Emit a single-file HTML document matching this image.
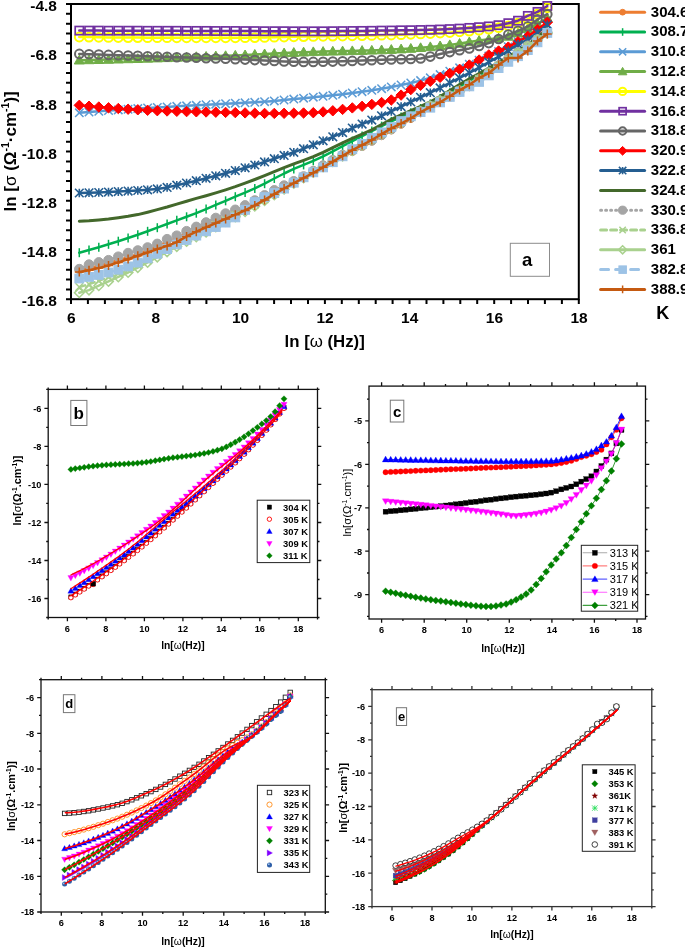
<!DOCTYPE html>
<html><head><meta charset="utf-8"><style>html,body{margin:0;padding:0;background:#fff;}svg{display:block;will-change:transform;}</style></head>
<body><svg width="685" height="947" viewBox="0 0 685 947"><path d="M66 4H71 M66 13.8H71 M66 23.7H71 M66 33.5H71 M66 43.4H71 M66 53.2H71 M66 63H71 M66 72.9H71 M66 82.7H71 M66 92.6H71 M66 102.4H71 M66 112.2H71 M66 122.1H71 M66 131.9H71 M66 141.8H71 M66 151.6H71 M66 161.4H71 M66 171.3H71 M66 181.1H71 M66 191H71 M66 200.8H71 M66 210.6H71 M66 220.5H71 M66 230.3H71 M66 240.2H71 M66 250H71 M66 259.8H71 M66 269.7H71 M66 279.5H71 M66 289.4H71 M66 299.2H71 M71 299.2V304 M87.9 299.2V304 M104.9 299.2V304 M121.8 299.2V304 M138.7 299.2V304 M155.6 299.2V304 M172.6 299.2V304 M189.5 299.2V304 M206.4 299.2V304 M223.3 299.2V304 M240.3 299.2V304 M257.2 299.2V304 M274.1 299.2V304 M291 299.2V304 M308 299.2V304 M324.9 299.2V304 M341.8 299.2V304 M358.8 299.2V304 M375.7 299.2V304 M392.6 299.2V304 M409.5 299.2V304 M426.5 299.2V304 M443.4 299.2V304 M460.3 299.2V304 M477.2 299.2V304 M494.2 299.2V304 M511.1 299.2V304 M528 299.2V304 M544.9 299.2V304 M561.9 299.2V304 M578.8 299.2V304" stroke="#000" stroke-width="2" fill="none"/>
<rect x="71" y="4" width="507.8" height="295.2" fill="none" stroke="#000" stroke-width="2"/>
<text x="57" y="11.1" text-anchor="end" font-family="'Liberation Sans', sans-serif" font-weight="bold" font-size="15.5">-4.8</text>
<text x="57" y="60.3" text-anchor="end" font-family="'Liberation Sans', sans-serif" font-weight="bold" font-size="15.5">-6.8</text>
<text x="57" y="109.5" text-anchor="end" font-family="'Liberation Sans', sans-serif" font-weight="bold" font-size="15.5">-8.8</text>
<text x="57" y="158.7" text-anchor="end" font-family="'Liberation Sans', sans-serif" font-weight="bold" font-size="15.5">-10.8</text>
<text x="57" y="207.9" text-anchor="end" font-family="'Liberation Sans', sans-serif" font-weight="bold" font-size="15.5">-12.8</text>
<text x="57" y="257.1" text-anchor="end" font-family="'Liberation Sans', sans-serif" font-weight="bold" font-size="15.5">-14.8</text>
<text x="57" y="306.3" text-anchor="end" font-family="'Liberation Sans', sans-serif" font-weight="bold" font-size="15.5">-16.8</text>
<text x="71.2" y="322.8" text-anchor="middle" font-family="'Liberation Sans', sans-serif" font-weight="bold" font-size="15.5">6</text>
<text x="155.8" y="322.8" text-anchor="middle" font-family="'Liberation Sans', sans-serif" font-weight="bold" font-size="15.5">8</text>
<text x="240.5" y="322.8" text-anchor="middle" font-family="'Liberation Sans', sans-serif" font-weight="bold" font-size="15.5">10</text>
<text x="325.1" y="322.8" text-anchor="middle" font-family="'Liberation Sans', sans-serif" font-weight="bold" font-size="15.5">12</text>
<text x="409.7" y="322.8" text-anchor="middle" font-family="'Liberation Sans', sans-serif" font-weight="bold" font-size="15.5">14</text>
<text x="494.4" y="322.8" text-anchor="middle" font-family="'Liberation Sans', sans-serif" font-weight="bold" font-size="15.5">16</text>
<text x="579" y="322.8" text-anchor="middle" font-family="'Liberation Sans', sans-serif" font-weight="bold" font-size="15.5">18</text>
<text x="324.7" y="346.5" text-anchor="middle" font-family="'Liberation Sans', sans-serif" font-weight="bold" font-size="16.8">ln [<tspan font-weight="normal">ω</tspan> (Hz)]</text>
<text transform="translate(15.5 151.4) rotate(-90)" text-anchor="middle" font-family="'Liberation Sans', sans-serif" font-weight="bold" font-size="17">ln [<tspan font-weight="normal">σ</tspan> (Ω<tspan font-size="10.5" dy="-6.5">-1</tspan><tspan dy="6.5">·cm</tspan><tspan font-size="10.5" dy="-6.5">-1</tspan><tspan dy="6.5">)]</tspan></text>
<rect x="510.3" y="243.3" width="39.2" height="33" fill="#fff" stroke="#8c8c8c" stroke-width="1"/>
<text x="527.2" y="265.7" text-anchor="middle" font-family="'Liberation Sans', sans-serif" font-weight="bold" font-size="18.5">a</text>
<g>
<path d="M79.3 270L89 268L98.8 265.7L108.5 263L118.3 260.2L128.1 257.2L137.8 254.1L147.6 250.1L157.3 245.8L167.1 241.9L176.8 237.8L186.6 233.7L196.3 229.4L206.1 225.2L215.8 220.9L225.6 216.5L235.3 212L245.1 207.3L254.8 202.5L264.6 197.6L274.3 192.6L284.1 187.6L293.8 182.6L303.6 177.5L313.3 172.4L323.1 167.2L332.8 162.1L342.6 157L352.3 152.1L362.1 147.1L371.8 141.8L381.6 136.3L391.3 130.6L401.1 124.9L410.8 119.1L420.6 113.5L430.3 108.1L440.1 102.9L449.8 97.9L459.6 92.9L469.3 87.4L479.1 81.3L488.8 74.6L498.6 67.6L508.3 60.8L518 54.1L527.8 47.4L537.5 40.7L547.3 34" fill="none" stroke="#ED7D31" stroke-width="2.5" stroke-linejoin="round" stroke-linecap="round"/>
<g><circle cx="79.3" cy="270" r="3.4" fill="#ED7D31" stroke="#ED7D31" stroke-width="1"/><circle cx="89" cy="268" r="3.4" fill="#ED7D31" stroke="#ED7D31" stroke-width="1"/><circle cx="98.8" cy="265.7" r="3.4" fill="#ED7D31" stroke="#ED7D31" stroke-width="1"/><circle cx="108.5" cy="263" r="3.4" fill="#ED7D31" stroke="#ED7D31" stroke-width="1"/><circle cx="118.3" cy="260.2" r="3.4" fill="#ED7D31" stroke="#ED7D31" stroke-width="1"/><circle cx="128.1" cy="257.2" r="3.4" fill="#ED7D31" stroke="#ED7D31" stroke-width="1"/><circle cx="137.8" cy="254.1" r="3.4" fill="#ED7D31" stroke="#ED7D31" stroke-width="1"/><circle cx="147.6" cy="250.1" r="3.4" fill="#ED7D31" stroke="#ED7D31" stroke-width="1"/><circle cx="157.3" cy="245.8" r="3.4" fill="#ED7D31" stroke="#ED7D31" stroke-width="1"/><circle cx="167.1" cy="241.9" r="3.4" fill="#ED7D31" stroke="#ED7D31" stroke-width="1"/><circle cx="176.8" cy="237.8" r="3.4" fill="#ED7D31" stroke="#ED7D31" stroke-width="1"/><circle cx="186.6" cy="233.7" r="3.4" fill="#ED7D31" stroke="#ED7D31" stroke-width="1"/><circle cx="196.3" cy="229.4" r="3.4" fill="#ED7D31" stroke="#ED7D31" stroke-width="1"/><circle cx="206.1" cy="225.2" r="3.4" fill="#ED7D31" stroke="#ED7D31" stroke-width="1"/><circle cx="215.8" cy="220.9" r="3.4" fill="#ED7D31" stroke="#ED7D31" stroke-width="1"/><circle cx="225.6" cy="216.5" r="3.4" fill="#ED7D31" stroke="#ED7D31" stroke-width="1"/><circle cx="235.3" cy="212" r="3.4" fill="#ED7D31" stroke="#ED7D31" stroke-width="1"/><circle cx="245.1" cy="207.3" r="3.4" fill="#ED7D31" stroke="#ED7D31" stroke-width="1"/><circle cx="254.8" cy="202.5" r="3.4" fill="#ED7D31" stroke="#ED7D31" stroke-width="1"/><circle cx="264.6" cy="197.6" r="3.4" fill="#ED7D31" stroke="#ED7D31" stroke-width="1"/><circle cx="274.3" cy="192.6" r="3.4" fill="#ED7D31" stroke="#ED7D31" stroke-width="1"/><circle cx="284.1" cy="187.6" r="3.4" fill="#ED7D31" stroke="#ED7D31" stroke-width="1"/><circle cx="293.8" cy="182.6" r="3.4" fill="#ED7D31" stroke="#ED7D31" stroke-width="1"/><circle cx="303.6" cy="177.5" r="3.4" fill="#ED7D31" stroke="#ED7D31" stroke-width="1"/><circle cx="313.3" cy="172.4" r="3.4" fill="#ED7D31" stroke="#ED7D31" stroke-width="1"/><circle cx="323.1" cy="167.2" r="3.4" fill="#ED7D31" stroke="#ED7D31" stroke-width="1"/><circle cx="332.8" cy="162.1" r="3.4" fill="#ED7D31" stroke="#ED7D31" stroke-width="1"/><circle cx="342.6" cy="157" r="3.4" fill="#ED7D31" stroke="#ED7D31" stroke-width="1"/><circle cx="352.3" cy="152.1" r="3.4" fill="#ED7D31" stroke="#ED7D31" stroke-width="1"/><circle cx="362.1" cy="147.1" r="3.4" fill="#ED7D31" stroke="#ED7D31" stroke-width="1"/><circle cx="371.8" cy="141.8" r="3.4" fill="#ED7D31" stroke="#ED7D31" stroke-width="1"/><circle cx="381.6" cy="136.3" r="3.4" fill="#ED7D31" stroke="#ED7D31" stroke-width="1"/><circle cx="391.3" cy="130.6" r="3.4" fill="#ED7D31" stroke="#ED7D31" stroke-width="1"/><circle cx="401.1" cy="124.9" r="3.4" fill="#ED7D31" stroke="#ED7D31" stroke-width="1"/><circle cx="410.8" cy="119.1" r="3.4" fill="#ED7D31" stroke="#ED7D31" stroke-width="1"/><circle cx="420.6" cy="113.5" r="3.4" fill="#ED7D31" stroke="#ED7D31" stroke-width="1"/><circle cx="430.3" cy="108.1" r="3.4" fill="#ED7D31" stroke="#ED7D31" stroke-width="1"/><circle cx="440.1" cy="102.9" r="3.4" fill="#ED7D31" stroke="#ED7D31" stroke-width="1"/><circle cx="449.8" cy="97.9" r="3.4" fill="#ED7D31" stroke="#ED7D31" stroke-width="1"/><circle cx="459.6" cy="92.9" r="3.4" fill="#ED7D31" stroke="#ED7D31" stroke-width="1"/><circle cx="469.3" cy="87.4" r="3.4" fill="#ED7D31" stroke="#ED7D31" stroke-width="1"/><circle cx="479.1" cy="81.3" r="3.4" fill="#ED7D31" stroke="#ED7D31" stroke-width="1"/><circle cx="488.8" cy="74.6" r="3.4" fill="#ED7D31" stroke="#ED7D31" stroke-width="1"/><circle cx="498.6" cy="67.6" r="3.4" fill="#ED7D31" stroke="#ED7D31" stroke-width="1"/><circle cx="508.3" cy="60.8" r="3.4" fill="#ED7D31" stroke="#ED7D31" stroke-width="1"/><circle cx="518" cy="54.1" r="3.4" fill="#ED7D31" stroke="#ED7D31" stroke-width="1"/><circle cx="527.8" cy="47.4" r="3.4" fill="#ED7D31" stroke="#ED7D31" stroke-width="1"/><circle cx="537.5" cy="40.7" r="3.4" fill="#ED7D31" stroke="#ED7D31" stroke-width="1"/><circle cx="547.3" cy="34" r="3.4" fill="#ED7D31" stroke="#ED7D31" stroke-width="1"/></g>
<path d="M79.3 252.7L89 250L98.8 247.2L108.5 244.3L118.3 241.2L128.1 238L137.8 234.8L147.6 231.3L157.3 227.7L167.1 224L176.8 220.3L186.6 216.8L196.3 213.2L206.1 209.1L215.8 204.9L225.6 200.8L235.3 196.7L245.1 192.6L254.8 188.4L264.6 183.7L274.3 178.5L284.1 173.5L293.8 168.9L303.6 164.9L313.3 160.8L323.1 156.3L332.8 151.3L342.6 146.2L352.3 141.1L362.1 136.1L371.8 131.1L381.6 126.1L391.3 121.4L401.1 116.9L410.8 112.8L420.6 108.5L430.3 103.9L440.1 98.6L449.8 92.7L459.6 86.8L469.3 81L479.1 75.3L488.8 69.7L498.6 63.9L508.3 57.8L518 51.5L527.8 44.9L537.5 38L547.3 31" fill="none" stroke="#00B050" stroke-width="2.5" stroke-linejoin="round" stroke-linecap="round"/>
<g><path d="M79.3 248.2L79.3 257.2" stroke="#00B050" stroke-width="1.5" fill="none"/><path d="M89 245.5L89 254.5" stroke="#00B050" stroke-width="1.5" fill="none"/><path d="M98.8 242.7L98.8 251.7" stroke="#00B050" stroke-width="1.5" fill="none"/><path d="M108.5 239.8L108.5 248.8" stroke="#00B050" stroke-width="1.5" fill="none"/><path d="M118.3 236.7L118.3 245.7" stroke="#00B050" stroke-width="1.5" fill="none"/><path d="M128.1 233.5L128.1 242.5" stroke="#00B050" stroke-width="1.5" fill="none"/><path d="M137.8 230.3L137.8 239.3" stroke="#00B050" stroke-width="1.5" fill="none"/><path d="M147.6 226.8L147.6 235.8" stroke="#00B050" stroke-width="1.5" fill="none"/><path d="M157.3 223.2L157.3 232.2" stroke="#00B050" stroke-width="1.5" fill="none"/><path d="M167.1 219.5L167.1 228.5" stroke="#00B050" stroke-width="1.5" fill="none"/><path d="M176.8 215.8L176.8 224.8" stroke="#00B050" stroke-width="1.5" fill="none"/><path d="M186.6 212.3L186.6 221.3" stroke="#00B050" stroke-width="1.5" fill="none"/><path d="M196.3 208.7L196.3 217.7" stroke="#00B050" stroke-width="1.5" fill="none"/><path d="M206.1 204.6L206.1 213.6" stroke="#00B050" stroke-width="1.5" fill="none"/><path d="M215.8 200.4L215.8 209.4" stroke="#00B050" stroke-width="1.5" fill="none"/><path d="M225.6 196.3L225.6 205.3" stroke="#00B050" stroke-width="1.5" fill="none"/><path d="M235.3 192.2L235.3 201.2" stroke="#00B050" stroke-width="1.5" fill="none"/><path d="M245.1 188.1L245.1 197.1" stroke="#00B050" stroke-width="1.5" fill="none"/><path d="M254.8 183.9L254.8 192.9" stroke="#00B050" stroke-width="1.5" fill="none"/><path d="M264.6 179.2L264.6 188.2" stroke="#00B050" stroke-width="1.5" fill="none"/><path d="M274.3 174L274.3 183" stroke="#00B050" stroke-width="1.5" fill="none"/><path d="M284.1 169L284.1 178" stroke="#00B050" stroke-width="1.5" fill="none"/><path d="M293.8 164.4L293.8 173.4" stroke="#00B050" stroke-width="1.5" fill="none"/><path d="M303.6 160.4L303.6 169.4" stroke="#00B050" stroke-width="1.5" fill="none"/><path d="M313.3 156.3L313.3 165.3" stroke="#00B050" stroke-width="1.5" fill="none"/><path d="M323.1 151.8L323.1 160.8" stroke="#00B050" stroke-width="1.5" fill="none"/><path d="M332.8 146.8L332.8 155.8" stroke="#00B050" stroke-width="1.5" fill="none"/><path d="M342.6 141.7L342.6 150.7" stroke="#00B050" stroke-width="1.5" fill="none"/><path d="M352.3 136.6L352.3 145.6" stroke="#00B050" stroke-width="1.5" fill="none"/><path d="M362.1 131.6L362.1 140.6" stroke="#00B050" stroke-width="1.5" fill="none"/><path d="M371.8 126.6L371.8 135.6" stroke="#00B050" stroke-width="1.5" fill="none"/><path d="M381.6 121.6L381.6 130.6" stroke="#00B050" stroke-width="1.5" fill="none"/><path d="M391.3 116.9L391.3 125.9" stroke="#00B050" stroke-width="1.5" fill="none"/><path d="M401.1 112.4L401.1 121.4" stroke="#00B050" stroke-width="1.5" fill="none"/><path d="M410.8 108.3L410.8 117.3" stroke="#00B050" stroke-width="1.5" fill="none"/><path d="M420.6 104L420.6 113" stroke="#00B050" stroke-width="1.5" fill="none"/><path d="M430.3 99.4L430.3 108.4" stroke="#00B050" stroke-width="1.5" fill="none"/><path d="M440.1 94.1L440.1 103.1" stroke="#00B050" stroke-width="1.5" fill="none"/><path d="M449.8 88.2L449.8 97.2" stroke="#00B050" stroke-width="1.5" fill="none"/><path d="M459.6 82.3L459.6 91.3" stroke="#00B050" stroke-width="1.5" fill="none"/><path d="M469.3 76.5L469.3 85.5" stroke="#00B050" stroke-width="1.5" fill="none"/><path d="M479.1 70.8L479.1 79.8" stroke="#00B050" stroke-width="1.5" fill="none"/><path d="M488.8 65.2L488.8 74.2" stroke="#00B050" stroke-width="1.5" fill="none"/><path d="M498.6 59.4L498.6 68.4" stroke="#00B050" stroke-width="1.5" fill="none"/><path d="M508.3 53.3L508.3 62.3" stroke="#00B050" stroke-width="1.5" fill="none"/><path d="M518 47L518 56" stroke="#00B050" stroke-width="1.5" fill="none"/><path d="M527.8 40.4L527.8 49.4" stroke="#00B050" stroke-width="1.5" fill="none"/><path d="M537.5 33.5L537.5 42.5" stroke="#00B050" stroke-width="1.5" fill="none"/><path d="M547.3 26.5L547.3 35.5" stroke="#00B050" stroke-width="1.5" fill="none"/></g>
<path d="M79.3 112.8L89 112.1L98.8 111.3L108.5 110.6L118.3 109.9L128.1 109.3L137.8 108.6L147.6 108L157.3 107.4L167.1 106.9L176.8 106.3L186.6 105.8L196.3 105.3L206.1 104.7L215.8 104.2L225.6 103.7L235.3 103.2L245.1 102.8L254.8 102.3L264.6 101.7L274.3 100.9L284.1 100L293.8 99.1L303.6 98.2L313.3 97.2L323.1 96.3L332.8 95.3L342.6 94.2L352.3 93L362.1 91.7L371.8 90.3L381.6 88.7L391.3 86.9L401.1 85L410.8 83L420.6 80.6L430.3 77.8L440.1 74.6L449.8 71.2L459.6 67.8L469.3 64.3L479.1 60.3L488.8 56.1L498.6 51.6L508.3 46.8L518 41.7L527.8 36.1L537.5 30.2L547.3 24" fill="none" stroke="#5B9BD5" stroke-width="2.5" stroke-linejoin="round" stroke-linecap="round"/>
<g><path d="M75.1 108.6L83.5 117M75.1 117L83.5 108.6" stroke="#5B9BD5" stroke-width="1.5" fill="none"/><path d="M84.8 107.9L93.2 116.3M84.8 116.3L93.2 107.9" stroke="#5B9BD5" stroke-width="1.5" fill="none"/><path d="M94.6 107.1L103 115.5M94.6 115.5L103 107.1" stroke="#5B9BD5" stroke-width="1.5" fill="none"/><path d="M104.3 106.4L112.8 114.8M104.3 114.8L112.8 106.4" stroke="#5B9BD5" stroke-width="1.5" fill="none"/><path d="M114.1 105.7L122.5 114.1M114.1 114.1L122.5 105.7" stroke="#5B9BD5" stroke-width="1.5" fill="none"/><path d="M123.9 105.1L132.2 113.5M123.9 113.5L132.2 105.1" stroke="#5B9BD5" stroke-width="1.5" fill="none"/><path d="M133.6 104.4L142 112.8M133.6 112.8L142 104.4" stroke="#5B9BD5" stroke-width="1.5" fill="none"/><path d="M143.4 103.8L151.8 112.2M143.4 112.2L151.8 103.8" stroke="#5B9BD5" stroke-width="1.5" fill="none"/><path d="M153.1 103.2L161.5 111.6M153.1 111.6L161.5 103.2" stroke="#5B9BD5" stroke-width="1.5" fill="none"/><path d="M162.9 102.7L171.2 111.1M162.9 111.1L171.2 102.7" stroke="#5B9BD5" stroke-width="1.5" fill="none"/><path d="M172.6 102.1L181 110.5M172.6 110.5L181 102.1" stroke="#5B9BD5" stroke-width="1.5" fill="none"/><path d="M182.4 101.6L190.8 110M182.4 110L190.8 101.6" stroke="#5B9BD5" stroke-width="1.5" fill="none"/><path d="M192.1 101.1L200.5 109.5M192.1 109.5L200.5 101.1" stroke="#5B9BD5" stroke-width="1.5" fill="none"/><path d="M201.9 100.5L210.2 108.9M201.9 108.9L210.2 100.5" stroke="#5B9BD5" stroke-width="1.5" fill="none"/><path d="M211.6 100L220 108.4M211.6 108.4L220 100" stroke="#5B9BD5" stroke-width="1.5" fill="none"/><path d="M221.4 99.5L229.8 107.9M221.4 107.9L229.8 99.5" stroke="#5B9BD5" stroke-width="1.5" fill="none"/><path d="M231.1 99L239.5 107.4M231.1 107.4L239.5 99" stroke="#5B9BD5" stroke-width="1.5" fill="none"/><path d="M240.9 98.6L249.2 107M240.9 107L249.2 98.6" stroke="#5B9BD5" stroke-width="1.5" fill="none"/><path d="M250.6 98.1L259 106.5M250.6 106.5L259 98.1" stroke="#5B9BD5" stroke-width="1.5" fill="none"/><path d="M260.4 97.5L268.8 105.9M260.4 105.9L268.8 97.5" stroke="#5B9BD5" stroke-width="1.5" fill="none"/><path d="M270.1 96.7L278.5 105.1M270.1 105.1L278.5 96.7" stroke="#5B9BD5" stroke-width="1.5" fill="none"/><path d="M279.9 95.8L288.2 104.2M279.9 104.2L288.2 95.8" stroke="#5B9BD5" stroke-width="1.5" fill="none"/><path d="M289.6 94.9L298 103.3M289.6 103.3L298 94.9" stroke="#5B9BD5" stroke-width="1.5" fill="none"/><path d="M299.4 94L307.8 102.4M299.4 102.4L307.8 94" stroke="#5B9BD5" stroke-width="1.5" fill="none"/><path d="M309.1 93L317.5 101.4M309.1 101.4L317.5 93" stroke="#5B9BD5" stroke-width="1.5" fill="none"/><path d="M318.9 92.1L327.2 100.5M318.9 100.5L327.2 92.1" stroke="#5B9BD5" stroke-width="1.5" fill="none"/><path d="M328.6 91.1L337 99.5M328.6 99.5L337 91.1" stroke="#5B9BD5" stroke-width="1.5" fill="none"/><path d="M338.4 90L346.8 98.4M338.4 98.4L346.8 90" stroke="#5B9BD5" stroke-width="1.5" fill="none"/><path d="M348.1 88.8L356.5 97.2M348.1 97.2L356.5 88.8" stroke="#5B9BD5" stroke-width="1.5" fill="none"/><path d="M357.9 87.5L366.2 95.9M357.9 95.9L366.2 87.5" stroke="#5B9BD5" stroke-width="1.5" fill="none"/><path d="M367.6 86.1L376 94.5M367.6 94.5L376 86.1" stroke="#5B9BD5" stroke-width="1.5" fill="none"/><path d="M377.4 84.5L385.8 92.9M377.4 92.9L385.8 84.5" stroke="#5B9BD5" stroke-width="1.5" fill="none"/><path d="M387.1 82.7L395.5 91.1M387.1 91.1L395.5 82.7" stroke="#5B9BD5" stroke-width="1.5" fill="none"/><path d="M396.9 80.8L405.2 89.2M396.9 89.2L405.2 80.8" stroke="#5B9BD5" stroke-width="1.5" fill="none"/><path d="M406.6 78.8L415 87.2M406.6 87.2L415 78.8" stroke="#5B9BD5" stroke-width="1.5" fill="none"/><path d="M416.4 76.4L424.8 84.8M416.4 84.8L424.8 76.4" stroke="#5B9BD5" stroke-width="1.5" fill="none"/><path d="M426.1 73.6L434.5 82M426.1 82L434.5 73.6" stroke="#5B9BD5" stroke-width="1.5" fill="none"/><path d="M435.9 70.4L444.2 78.8M435.9 78.8L444.2 70.4" stroke="#5B9BD5" stroke-width="1.5" fill="none"/><path d="M445.6 67L454 75.4M445.6 75.4L454 67" stroke="#5B9BD5" stroke-width="1.5" fill="none"/><path d="M455.4 63.6L463.8 72M455.4 72L463.8 63.6" stroke="#5B9BD5" stroke-width="1.5" fill="none"/><path d="M465.1 60.1L473.5 68.5M465.1 68.5L473.5 60.1" stroke="#5B9BD5" stroke-width="1.5" fill="none"/><path d="M474.9 56.1L483.2 64.5M474.9 64.5L483.2 56.1" stroke="#5B9BD5" stroke-width="1.5" fill="none"/><path d="M484.6 51.9L493 60.3M484.6 60.3L493 51.9" stroke="#5B9BD5" stroke-width="1.5" fill="none"/><path d="M494.4 47.4L502.8 55.8M494.4 55.8L502.8 47.4" stroke="#5B9BD5" stroke-width="1.5" fill="none"/><path d="M504.1 42.6L512.5 51M504.1 51L512.5 42.6" stroke="#5B9BD5" stroke-width="1.5" fill="none"/><path d="M513.8 37.5L522.2 45.9M513.8 45.9L522.2 37.5" stroke="#5B9BD5" stroke-width="1.5" fill="none"/><path d="M523.6 31.9L532 40.3M523.6 40.3L532 31.9" stroke="#5B9BD5" stroke-width="1.5" fill="none"/><path d="M533.3 26L541.8 34.4M533.3 34.4L541.8 26" stroke="#5B9BD5" stroke-width="1.5" fill="none"/><path d="M543.1 19.8L551.5 28.2M543.1 28.2L551.5 19.8" stroke="#5B9BD5" stroke-width="1.5" fill="none"/></g>
<path d="M79.3 60.2L89 60L98.8 59.8L108.5 59.5L118.3 59.3L128.1 59L137.8 58.7L147.6 58.4L157.3 58.1L167.1 57.8L176.8 57.5L186.6 57.2L196.3 56.8L206.1 56.5L215.8 56.1L225.6 55.8L235.3 55.4L245.1 55L254.8 54.5L264.6 54L274.3 53.6L284.1 53.1L293.8 52.6L303.6 52.2L313.3 51.9L323.1 51.6L332.8 51.3L342.6 51.1L352.3 50.9L362.1 50.6L371.8 50.4L381.6 50L391.3 49.6L401.1 49.1L410.8 48.5L420.6 47.8L430.3 46.9L440.1 46L449.8 44.9L459.6 43.5L469.3 42L479.1 40.5L488.8 39.3L498.6 38.2L508.3 36.5L518 33.2L527.8 28.6L537.5 23.7L547.3 18.2" fill="none" stroke="#70AD47" stroke-width="2.5" stroke-linejoin="round" stroke-linecap="round"/>
<g><path d="M79.3 55.2L84.3 64L74.3 64Z" fill="#70AD47" stroke="#70AD47" stroke-width="1"/><path d="M89 55L94 63.7L84 63.7Z" fill="#70AD47" stroke="#70AD47" stroke-width="1"/><path d="M98.8 54.8L103.8 63.5L93.8 63.5Z" fill="#70AD47" stroke="#70AD47" stroke-width="1"/><path d="M108.5 54.5L113.5 63.3L103.5 63.3Z" fill="#70AD47" stroke="#70AD47" stroke-width="1"/><path d="M118.3 54.3L123.3 63L113.3 63Z" fill="#70AD47" stroke="#70AD47" stroke-width="1"/><path d="M128.1 54L133.1 62.7L123.1 62.7Z" fill="#70AD47" stroke="#70AD47" stroke-width="1"/><path d="M137.8 53.7L142.8 62.5L132.8 62.5Z" fill="#70AD47" stroke="#70AD47" stroke-width="1"/><path d="M147.6 53.4L152.6 62.2L142.6 62.2Z" fill="#70AD47" stroke="#70AD47" stroke-width="1"/><path d="M157.3 53.1L162.3 61.9L152.3 61.9Z" fill="#70AD47" stroke="#70AD47" stroke-width="1"/><path d="M167.1 52.8L172.1 61.6L162.1 61.6Z" fill="#70AD47" stroke="#70AD47" stroke-width="1"/><path d="M176.8 52.5L181.8 61.2L171.8 61.2Z" fill="#70AD47" stroke="#70AD47" stroke-width="1"/><path d="M186.6 52.2L191.6 60.9L181.6 60.9Z" fill="#70AD47" stroke="#70AD47" stroke-width="1"/><path d="M196.3 51.8L201.3 60.6L191.3 60.6Z" fill="#70AD47" stroke="#70AD47" stroke-width="1"/><path d="M206.1 51.5L211.1 60.2L201.1 60.2Z" fill="#70AD47" stroke="#70AD47" stroke-width="1"/><path d="M215.8 51.1L220.8 59.9L210.8 59.9Z" fill="#70AD47" stroke="#70AD47" stroke-width="1"/><path d="M225.6 50.8L230.6 59.5L220.6 59.5Z" fill="#70AD47" stroke="#70AD47" stroke-width="1"/><path d="M235.3 50.4L240.3 59.1L230.3 59.1Z" fill="#70AD47" stroke="#70AD47" stroke-width="1"/><path d="M245.1 50L250.1 58.7L240.1 58.7Z" fill="#70AD47" stroke="#70AD47" stroke-width="1"/><path d="M254.8 49.5L259.8 58.3L249.8 58.3Z" fill="#70AD47" stroke="#70AD47" stroke-width="1"/><path d="M264.6 49L269.6 57.8L259.6 57.8Z" fill="#70AD47" stroke="#70AD47" stroke-width="1"/><path d="M274.3 48.6L279.3 57.3L269.3 57.3Z" fill="#70AD47" stroke="#70AD47" stroke-width="1"/><path d="M284.1 48.1L289.1 56.8L279.1 56.8Z" fill="#70AD47" stroke="#70AD47" stroke-width="1"/><path d="M293.8 47.6L298.8 56.4L288.8 56.4Z" fill="#70AD47" stroke="#70AD47" stroke-width="1"/><path d="M303.6 47.2L308.6 56L298.6 56Z" fill="#70AD47" stroke="#70AD47" stroke-width="1"/><path d="M313.3 46.9L318.3 55.6L308.3 55.6Z" fill="#70AD47" stroke="#70AD47" stroke-width="1"/><path d="M323.1 46.6L328.1 55.3L318.1 55.3Z" fill="#70AD47" stroke="#70AD47" stroke-width="1"/><path d="M332.8 46.3L337.8 55.1L327.8 55.1Z" fill="#70AD47" stroke="#70AD47" stroke-width="1"/><path d="M342.6 46.1L347.6 54.9L337.6 54.9Z" fill="#70AD47" stroke="#70AD47" stroke-width="1"/><path d="M352.3 45.9L357.3 54.6L347.3 54.6Z" fill="#70AD47" stroke="#70AD47" stroke-width="1"/><path d="M362.1 45.6L367.1 54.4L357.1 54.4Z" fill="#70AD47" stroke="#70AD47" stroke-width="1"/><path d="M371.8 45.4L376.8 54.1L366.8 54.1Z" fill="#70AD47" stroke="#70AD47" stroke-width="1"/><path d="M381.6 45L386.6 53.8L376.6 53.8Z" fill="#70AD47" stroke="#70AD47" stroke-width="1"/><path d="M391.3 44.6L396.3 53.4L386.3 53.4Z" fill="#70AD47" stroke="#70AD47" stroke-width="1"/><path d="M401.1 44.1L406.1 52.9L396.1 52.9Z" fill="#70AD47" stroke="#70AD47" stroke-width="1"/><path d="M410.8 43.5L415.8 52.3L405.8 52.3Z" fill="#70AD47" stroke="#70AD47" stroke-width="1"/><path d="M420.6 42.8L425.6 51.5L415.6 51.5Z" fill="#70AD47" stroke="#70AD47" stroke-width="1"/><path d="M430.3 41.9L435.3 50.7L425.3 50.7Z" fill="#70AD47" stroke="#70AD47" stroke-width="1"/><path d="M440.1 41L445.1 49.7L435.1 49.7Z" fill="#70AD47" stroke="#70AD47" stroke-width="1"/><path d="M449.8 39.9L454.8 48.6L444.8 48.6Z" fill="#70AD47" stroke="#70AD47" stroke-width="1"/><path d="M459.6 38.5L464.6 47.2L454.6 47.2Z" fill="#70AD47" stroke="#70AD47" stroke-width="1"/><path d="M469.3 37L474.3 45.7L464.3 45.7Z" fill="#70AD47" stroke="#70AD47" stroke-width="1"/><path d="M479.1 35.5L484.1 44.3L474.1 44.3Z" fill="#70AD47" stroke="#70AD47" stroke-width="1"/><path d="M488.8 34.3L493.8 43.1L483.8 43.1Z" fill="#70AD47" stroke="#70AD47" stroke-width="1"/><path d="M498.6 33.2L503.6 41.9L493.6 41.9Z" fill="#70AD47" stroke="#70AD47" stroke-width="1"/><path d="M508.3 31.5L513.3 40.2L503.3 40.2Z" fill="#70AD47" stroke="#70AD47" stroke-width="1"/><path d="M518 28.2L523 36.9L513 36.9Z" fill="#70AD47" stroke="#70AD47" stroke-width="1"/><path d="M527.8 23.6L532.8 32.3L522.8 32.3Z" fill="#70AD47" stroke="#70AD47" stroke-width="1"/><path d="M537.5 18.7L542.5 27.5L532.5 27.5Z" fill="#70AD47" stroke="#70AD47" stroke-width="1"/><path d="M547.3 13.2L552.3 22L542.3 22Z" fill="#70AD47" stroke="#70AD47" stroke-width="1"/></g>
<path d="M79.3 37L89 37.1L98.8 37.3L108.5 37.4L118.3 37.5L128.1 37.6L137.8 37.6L147.6 37.7L157.3 37.7L167.1 37.7L176.8 37.8L186.6 37.8L196.3 37.8L206.1 37.8L215.8 37.8L225.6 37.8L235.3 37.8L245.1 37.7L254.8 37.6L264.6 37.4L274.3 37.2L284.1 37L293.8 36.8L303.6 36.6L313.3 36.4L323.1 36.3L332.8 36.1L342.6 36L352.3 35.8L362.1 35.6L371.8 35.4L381.6 35.2L391.3 35L401.1 34.7L410.8 34.3L420.6 33.9L430.3 33.5L440.1 33L449.8 32.5L459.6 31.8L469.3 31.1L479.1 30.2L488.8 29.1L498.6 27.7L508.3 25.8L518 23.1L527.8 19.2L537.5 14.1L547.3 7.8" fill="none" stroke="#FFFF00" stroke-width="2.5" stroke-linejoin="round" stroke-linecap="round"/>
<g><circle cx="79.3" cy="37" r="4.4" fill="none" stroke="#FFFF00" stroke-width="2"/><circle cx="89" cy="37.1" r="4.4" fill="none" stroke="#FFFF00" stroke-width="2"/><circle cx="98.8" cy="37.3" r="4.4" fill="none" stroke="#FFFF00" stroke-width="2"/><circle cx="108.5" cy="37.4" r="4.4" fill="none" stroke="#FFFF00" stroke-width="2"/><circle cx="118.3" cy="37.5" r="4.4" fill="none" stroke="#FFFF00" stroke-width="2"/><circle cx="128.1" cy="37.6" r="4.4" fill="none" stroke="#FFFF00" stroke-width="2"/><circle cx="137.8" cy="37.6" r="4.4" fill="none" stroke="#FFFF00" stroke-width="2"/><circle cx="147.6" cy="37.7" r="4.4" fill="none" stroke="#FFFF00" stroke-width="2"/><circle cx="157.3" cy="37.7" r="4.4" fill="none" stroke="#FFFF00" stroke-width="2"/><circle cx="167.1" cy="37.7" r="4.4" fill="none" stroke="#FFFF00" stroke-width="2"/><circle cx="176.8" cy="37.8" r="4.4" fill="none" stroke="#FFFF00" stroke-width="2"/><circle cx="186.6" cy="37.8" r="4.4" fill="none" stroke="#FFFF00" stroke-width="2"/><circle cx="196.3" cy="37.8" r="4.4" fill="none" stroke="#FFFF00" stroke-width="2"/><circle cx="206.1" cy="37.8" r="4.4" fill="none" stroke="#FFFF00" stroke-width="2"/><circle cx="215.8" cy="37.8" r="4.4" fill="none" stroke="#FFFF00" stroke-width="2"/><circle cx="225.6" cy="37.8" r="4.4" fill="none" stroke="#FFFF00" stroke-width="2"/><circle cx="235.3" cy="37.8" r="4.4" fill="none" stroke="#FFFF00" stroke-width="2"/><circle cx="245.1" cy="37.7" r="4.4" fill="none" stroke="#FFFF00" stroke-width="2"/><circle cx="254.8" cy="37.6" r="4.4" fill="none" stroke="#FFFF00" stroke-width="2"/><circle cx="264.6" cy="37.4" r="4.4" fill="none" stroke="#FFFF00" stroke-width="2"/><circle cx="274.3" cy="37.2" r="4.4" fill="none" stroke="#FFFF00" stroke-width="2"/><circle cx="284.1" cy="37" r="4.4" fill="none" stroke="#FFFF00" stroke-width="2"/><circle cx="293.8" cy="36.8" r="4.4" fill="none" stroke="#FFFF00" stroke-width="2"/><circle cx="303.6" cy="36.6" r="4.4" fill="none" stroke="#FFFF00" stroke-width="2"/><circle cx="313.3" cy="36.4" r="4.4" fill="none" stroke="#FFFF00" stroke-width="2"/><circle cx="323.1" cy="36.3" r="4.4" fill="none" stroke="#FFFF00" stroke-width="2"/><circle cx="332.8" cy="36.1" r="4.4" fill="none" stroke="#FFFF00" stroke-width="2"/><circle cx="342.6" cy="36" r="4.4" fill="none" stroke="#FFFF00" stroke-width="2"/><circle cx="352.3" cy="35.8" r="4.4" fill="none" stroke="#FFFF00" stroke-width="2"/><circle cx="362.1" cy="35.6" r="4.4" fill="none" stroke="#FFFF00" stroke-width="2"/><circle cx="371.8" cy="35.4" r="4.4" fill="none" stroke="#FFFF00" stroke-width="2"/><circle cx="381.6" cy="35.2" r="4.4" fill="none" stroke="#FFFF00" stroke-width="2"/><circle cx="391.3" cy="35" r="4.4" fill="none" stroke="#FFFF00" stroke-width="2"/><circle cx="401.1" cy="34.7" r="4.4" fill="none" stroke="#FFFF00" stroke-width="2"/><circle cx="410.8" cy="34.3" r="4.4" fill="none" stroke="#FFFF00" stroke-width="2"/><circle cx="420.6" cy="33.9" r="4.4" fill="none" stroke="#FFFF00" stroke-width="2"/><circle cx="430.3" cy="33.5" r="4.4" fill="none" stroke="#FFFF00" stroke-width="2"/><circle cx="440.1" cy="33" r="4.4" fill="none" stroke="#FFFF00" stroke-width="2"/><circle cx="449.8" cy="32.5" r="4.4" fill="none" stroke="#FFFF00" stroke-width="2"/><circle cx="459.6" cy="31.8" r="4.4" fill="none" stroke="#FFFF00" stroke-width="2"/><circle cx="469.3" cy="31.1" r="4.4" fill="none" stroke="#FFFF00" stroke-width="2"/><circle cx="479.1" cy="30.2" r="4.4" fill="none" stroke="#FFFF00" stroke-width="2"/><circle cx="488.8" cy="29.1" r="4.4" fill="none" stroke="#FFFF00" stroke-width="2"/><circle cx="498.6" cy="27.7" r="4.4" fill="none" stroke="#FFFF00" stroke-width="2"/><circle cx="508.3" cy="25.8" r="4.4" fill="none" stroke="#FFFF00" stroke-width="2"/><circle cx="518" cy="23.1" r="4.4" fill="none" stroke="#FFFF00" stroke-width="2"/><circle cx="527.8" cy="19.2" r="4.4" fill="none" stroke="#FFFF00" stroke-width="2"/><circle cx="537.5" cy="14.1" r="4.4" fill="none" stroke="#FFFF00" stroke-width="2"/><circle cx="547.3" cy="7.8" r="4.4" fill="none" stroke="#FFFF00" stroke-width="2"/></g>
<path d="M79.3 30.6L89 30.6L98.8 30.6L108.5 30.7L118.3 30.7L128.1 30.7L137.8 30.7L147.6 30.8L157.3 30.8L167.1 30.8L176.8 30.8L186.6 30.9L196.3 30.9L206.1 30.9L215.8 31L225.6 31L235.3 31L245.1 31.1L254.8 31.1L264.6 31.2L274.3 31.2L284.1 31.2L293.8 31.3L303.6 31.3L313.3 31.3L323.1 31.3L332.8 31.2L342.6 31.1L352.3 31L362.1 30.9L371.8 30.8L381.6 30.6L391.3 30.5L401.1 30.3L410.8 30.2L420.6 30L430.3 29.8L440.1 29.5L449.8 29.1L459.6 28.6L469.3 27.9L479.1 27.2L488.8 26.4L498.6 25.2L508.3 23.2L518 20.7L527.8 15.9L537.5 11.9L547.3 6" fill="none" stroke="#7030A0" stroke-width="2.5" stroke-linejoin="round" stroke-linecap="round"/>
<g><rect x="75.2" y="26.5" width="8.2" height="8.2" fill="none" stroke="#7030A0" stroke-width="1.7"/><rect x="85" y="26.5" width="8.2" height="8.2" fill="none" stroke="#7030A0" stroke-width="1.7"/><rect x="94.7" y="26.5" width="8.2" height="8.2" fill="none" stroke="#7030A0" stroke-width="1.7"/><rect x="104.5" y="26.6" width="8.2" height="8.2" fill="none" stroke="#7030A0" stroke-width="1.7"/><rect x="114.2" y="26.6" width="8.2" height="8.2" fill="none" stroke="#7030A0" stroke-width="1.7"/><rect x="124" y="26.6" width="8.2" height="8.2" fill="none" stroke="#7030A0" stroke-width="1.7"/><rect x="133.7" y="26.6" width="8.2" height="8.2" fill="none" stroke="#7030A0" stroke-width="1.7"/><rect x="143.5" y="26.7" width="8.2" height="8.2" fill="none" stroke="#7030A0" stroke-width="1.7"/><rect x="153.2" y="26.7" width="8.2" height="8.2" fill="none" stroke="#7030A0" stroke-width="1.7"/><rect x="163" y="26.7" width="8.2" height="8.2" fill="none" stroke="#7030A0" stroke-width="1.7"/><rect x="172.7" y="26.7" width="8.2" height="8.2" fill="none" stroke="#7030A0" stroke-width="1.7"/><rect x="182.5" y="26.8" width="8.2" height="8.2" fill="none" stroke="#7030A0" stroke-width="1.7"/><rect x="192.2" y="26.8" width="8.2" height="8.2" fill="none" stroke="#7030A0" stroke-width="1.7"/><rect x="202" y="26.8" width="8.2" height="8.2" fill="none" stroke="#7030A0" stroke-width="1.7"/><rect x="211.7" y="26.9" width="8.2" height="8.2" fill="none" stroke="#7030A0" stroke-width="1.7"/><rect x="221.5" y="26.9" width="8.2" height="8.2" fill="none" stroke="#7030A0" stroke-width="1.7"/><rect x="231.2" y="26.9" width="8.2" height="8.2" fill="none" stroke="#7030A0" stroke-width="1.7"/><rect x="241" y="27" width="8.2" height="8.2" fill="none" stroke="#7030A0" stroke-width="1.7"/><rect x="250.7" y="27" width="8.2" height="8.2" fill="none" stroke="#7030A0" stroke-width="1.7"/><rect x="260.4" y="27.1" width="8.2" height="8.2" fill="none" stroke="#7030A0" stroke-width="1.7"/><rect x="270.2" y="27.1" width="8.2" height="8.2" fill="none" stroke="#7030A0" stroke-width="1.7"/><rect x="279.9" y="27.1" width="8.2" height="8.2" fill="none" stroke="#7030A0" stroke-width="1.7"/><rect x="289.7" y="27.2" width="8.2" height="8.2" fill="none" stroke="#7030A0" stroke-width="1.7"/><rect x="299.4" y="27.2" width="8.2" height="8.2" fill="none" stroke="#7030A0" stroke-width="1.7"/><rect x="309.2" y="27.2" width="8.2" height="8.2" fill="none" stroke="#7030A0" stroke-width="1.7"/><rect x="318.9" y="27.2" width="8.2" height="8.2" fill="none" stroke="#7030A0" stroke-width="1.7"/><rect x="328.7" y="27.1" width="8.2" height="8.2" fill="none" stroke="#7030A0" stroke-width="1.7"/><rect x="338.4" y="27" width="8.2" height="8.2" fill="none" stroke="#7030A0" stroke-width="1.7"/><rect x="348.2" y="26.9" width="8.2" height="8.2" fill="none" stroke="#7030A0" stroke-width="1.7"/><rect x="357.9" y="26.8" width="8.2" height="8.2" fill="none" stroke="#7030A0" stroke-width="1.7"/><rect x="367.7" y="26.7" width="8.2" height="8.2" fill="none" stroke="#7030A0" stroke-width="1.7"/><rect x="377.4" y="26.5" width="8.2" height="8.2" fill="none" stroke="#7030A0" stroke-width="1.7"/><rect x="387.2" y="26.4" width="8.2" height="8.2" fill="none" stroke="#7030A0" stroke-width="1.7"/><rect x="396.9" y="26.2" width="8.2" height="8.2" fill="none" stroke="#7030A0" stroke-width="1.7"/><rect x="406.7" y="26.1" width="8.2" height="8.2" fill="none" stroke="#7030A0" stroke-width="1.7"/><rect x="416.4" y="25.9" width="8.2" height="8.2" fill="none" stroke="#7030A0" stroke-width="1.7"/><rect x="426.2" y="25.7" width="8.2" height="8.2" fill="none" stroke="#7030A0" stroke-width="1.7"/><rect x="435.9" y="25.4" width="8.2" height="8.2" fill="none" stroke="#7030A0" stroke-width="1.7"/><rect x="445.7" y="25" width="8.2" height="8.2" fill="none" stroke="#7030A0" stroke-width="1.7"/><rect x="455.4" y="24.5" width="8.2" height="8.2" fill="none" stroke="#7030A0" stroke-width="1.7"/><rect x="465.2" y="23.8" width="8.2" height="8.2" fill="none" stroke="#7030A0" stroke-width="1.7"/><rect x="474.9" y="23.1" width="8.2" height="8.2" fill="none" stroke="#7030A0" stroke-width="1.7"/><rect x="484.7" y="22.3" width="8.2" height="8.2" fill="none" stroke="#7030A0" stroke-width="1.7"/><rect x="494.4" y="21.1" width="8.2" height="8.2" fill="none" stroke="#7030A0" stroke-width="1.7"/><rect x="504.2" y="19.1" width="8.2" height="8.2" fill="none" stroke="#7030A0" stroke-width="1.7"/><rect x="513.9" y="16.6" width="8.2" height="8.2" fill="none" stroke="#7030A0" stroke-width="1.7"/><rect x="523.7" y="11.8" width="8.2" height="8.2" fill="none" stroke="#7030A0" stroke-width="1.7"/><rect x="533.4" y="7.8" width="8.2" height="8.2" fill="none" stroke="#7030A0" stroke-width="1.7"/><rect x="543.2" y="1.9" width="8.2" height="8.2" fill="none" stroke="#7030A0" stroke-width="1.7"/></g>
<path d="M79.3 53.9L89 54.2L98.8 54.5L108.5 54.9L118.3 55.2L128.1 55.5L137.8 55.8L147.6 56.2L157.3 56.5L167.1 56.8L176.8 57.2L186.6 57.5L196.3 57.8L206.1 58.2L215.8 58.5L225.6 58.8L235.3 59.2L245.1 59.6L254.8 60.1L264.6 60.5L274.3 61L284.1 61.4L293.8 61.7L303.6 61.9L313.3 61.9L323.1 61.8L332.8 61.6L342.6 61.3L352.3 60.9L362.1 60.5L371.8 60.2L381.6 59.8L391.3 59.5L401.1 59.2L410.8 59L420.6 58.5L430.3 56.6L440.1 54L449.8 52.1L459.6 50.3L469.3 48.4L479.1 46L488.8 43.1L498.6 39L508.3 34.6L518 30.8L527.8 26.4L537.5 19.4L547.3 14.2" fill="none" stroke="#666666" stroke-width="2.5" stroke-linejoin="round" stroke-linecap="round"/>
<g><circle cx="79.3" cy="53.9" r="4.3" fill="none" stroke="#666666" stroke-width="2"/><circle cx="89" cy="54.2" r="4.3" fill="none" stroke="#666666" stroke-width="2"/><circle cx="98.8" cy="54.5" r="4.3" fill="none" stroke="#666666" stroke-width="2"/><circle cx="108.5" cy="54.9" r="4.3" fill="none" stroke="#666666" stroke-width="2"/><circle cx="118.3" cy="55.2" r="4.3" fill="none" stroke="#666666" stroke-width="2"/><circle cx="128.1" cy="55.5" r="4.3" fill="none" stroke="#666666" stroke-width="2"/><circle cx="137.8" cy="55.8" r="4.3" fill="none" stroke="#666666" stroke-width="2"/><circle cx="147.6" cy="56.2" r="4.3" fill="none" stroke="#666666" stroke-width="2"/><circle cx="157.3" cy="56.5" r="4.3" fill="none" stroke="#666666" stroke-width="2"/><circle cx="167.1" cy="56.8" r="4.3" fill="none" stroke="#666666" stroke-width="2"/><circle cx="176.8" cy="57.2" r="4.3" fill="none" stroke="#666666" stroke-width="2"/><circle cx="186.6" cy="57.5" r="4.3" fill="none" stroke="#666666" stroke-width="2"/><circle cx="196.3" cy="57.8" r="4.3" fill="none" stroke="#666666" stroke-width="2"/><circle cx="206.1" cy="58.2" r="4.3" fill="none" stroke="#666666" stroke-width="2"/><circle cx="215.8" cy="58.5" r="4.3" fill="none" stroke="#666666" stroke-width="2"/><circle cx="225.6" cy="58.8" r="4.3" fill="none" stroke="#666666" stroke-width="2"/><circle cx="235.3" cy="59.2" r="4.3" fill="none" stroke="#666666" stroke-width="2"/><circle cx="245.1" cy="59.6" r="4.3" fill="none" stroke="#666666" stroke-width="2"/><circle cx="254.8" cy="60.1" r="4.3" fill="none" stroke="#666666" stroke-width="2"/><circle cx="264.6" cy="60.5" r="4.3" fill="none" stroke="#666666" stroke-width="2"/><circle cx="274.3" cy="61" r="4.3" fill="none" stroke="#666666" stroke-width="2"/><circle cx="284.1" cy="61.4" r="4.3" fill="none" stroke="#666666" stroke-width="2"/><circle cx="293.8" cy="61.7" r="4.3" fill="none" stroke="#666666" stroke-width="2"/><circle cx="303.6" cy="61.9" r="4.3" fill="none" stroke="#666666" stroke-width="2"/><circle cx="313.3" cy="61.9" r="4.3" fill="none" stroke="#666666" stroke-width="2"/><circle cx="323.1" cy="61.8" r="4.3" fill="none" stroke="#666666" stroke-width="2"/><circle cx="332.8" cy="61.6" r="4.3" fill="none" stroke="#666666" stroke-width="2"/><circle cx="342.6" cy="61.3" r="4.3" fill="none" stroke="#666666" stroke-width="2"/><circle cx="352.3" cy="60.9" r="4.3" fill="none" stroke="#666666" stroke-width="2"/><circle cx="362.1" cy="60.5" r="4.3" fill="none" stroke="#666666" stroke-width="2"/><circle cx="371.8" cy="60.2" r="4.3" fill="none" stroke="#666666" stroke-width="2"/><circle cx="381.6" cy="59.8" r="4.3" fill="none" stroke="#666666" stroke-width="2"/><circle cx="391.3" cy="59.5" r="4.3" fill="none" stroke="#666666" stroke-width="2"/><circle cx="401.1" cy="59.2" r="4.3" fill="none" stroke="#666666" stroke-width="2"/><circle cx="410.8" cy="59" r="4.3" fill="none" stroke="#666666" stroke-width="2"/><circle cx="420.6" cy="58.5" r="4.3" fill="none" stroke="#666666" stroke-width="2"/><circle cx="430.3" cy="56.6" r="4.3" fill="none" stroke="#666666" stroke-width="2"/><circle cx="440.1" cy="54" r="4.3" fill="none" stroke="#666666" stroke-width="2"/><circle cx="449.8" cy="52.1" r="4.3" fill="none" stroke="#666666" stroke-width="2"/><circle cx="459.6" cy="50.3" r="4.3" fill="none" stroke="#666666" stroke-width="2"/><circle cx="469.3" cy="48.4" r="4.3" fill="none" stroke="#666666" stroke-width="2"/><circle cx="479.1" cy="46" r="4.3" fill="none" stroke="#666666" stroke-width="2"/><circle cx="488.8" cy="43.1" r="4.3" fill="none" stroke="#666666" stroke-width="2"/><circle cx="498.6" cy="39" r="4.3" fill="none" stroke="#666666" stroke-width="2"/><circle cx="508.3" cy="34.6" r="4.3" fill="none" stroke="#666666" stroke-width="2"/><circle cx="518" cy="30.8" r="4.3" fill="none" stroke="#666666" stroke-width="2"/><circle cx="527.8" cy="26.4" r="4.3" fill="none" stroke="#666666" stroke-width="2"/><circle cx="537.5" cy="19.4" r="4.3" fill="none" stroke="#666666" stroke-width="2"/><circle cx="547.3" cy="14.2" r="4.3" fill="none" stroke="#666666" stroke-width="2"/></g>
<path d="M79.3 105.3L89 106.2L98.8 107L108.5 107.8L118.3 108.5L128.1 109.2L137.8 109.8L147.6 110.3L157.3 110.7L167.1 111L176.8 111.3L186.6 111.6L196.3 111.8L206.1 112L215.8 112.2L225.6 112.4L235.3 112.6L245.1 112.9L254.8 113.2L264.6 113.4L274.3 113.4L284.1 113.3L293.8 113.2L303.6 113L313.3 112.7L323.1 111.9L332.8 110.8L342.6 109.4L352.3 107.9L362.1 106.3L371.8 104.4L381.6 102.5L391.3 100L401.1 95.1L410.8 89.6L420.6 85.3L430.3 81.3L440.1 77.4L449.8 73.4L459.6 69.3L469.3 65L479.1 60L488.8 54.9L498.6 51L508.3 47.1L518 41.7L527.8 36.4L537.5 29.6L547.3 22.2" fill="none" stroke="#FF0000" stroke-width="2.5" stroke-linejoin="round" stroke-linecap="round"/>
<g><path d="M79.3 100.1L84.5 105.3L79.3 110.5L74.1 105.3Z" fill="#FF0000" stroke="#FF0000" stroke-width="1"/><path d="M89 101L94.2 106.2L89 111.4L83.8 106.2Z" fill="#FF0000" stroke="#FF0000" stroke-width="1"/><path d="M98.8 101.8L104 107L98.8 112.2L93.6 107Z" fill="#FF0000" stroke="#FF0000" stroke-width="1"/><path d="M108.5 102.6L113.8 107.8L108.5 113L103.3 107.8Z" fill="#FF0000" stroke="#FF0000" stroke-width="1"/><path d="M118.3 103.3L123.5 108.5L118.3 113.7L113.1 108.5Z" fill="#FF0000" stroke="#FF0000" stroke-width="1"/><path d="M128.1 104L133.2 109.2L128.1 114.4L122.9 109.2Z" fill="#FF0000" stroke="#FF0000" stroke-width="1"/><path d="M137.8 104.6L143 109.8L137.8 115L132.6 109.8Z" fill="#FF0000" stroke="#FF0000" stroke-width="1"/><path d="M147.6 105.1L152.8 110.3L147.6 115.5L142.4 110.3Z" fill="#FF0000" stroke="#FF0000" stroke-width="1"/><path d="M157.3 105.5L162.5 110.7L157.3 115.9L152.1 110.7Z" fill="#FF0000" stroke="#FF0000" stroke-width="1"/><path d="M167.1 105.8L172.2 111L167.1 116.2L161.9 111Z" fill="#FF0000" stroke="#FF0000" stroke-width="1"/><path d="M176.8 106.1L182 111.3L176.8 116.5L171.6 111.3Z" fill="#FF0000" stroke="#FF0000" stroke-width="1"/><path d="M186.6 106.4L191.8 111.6L186.6 116.8L181.4 111.6Z" fill="#FF0000" stroke="#FF0000" stroke-width="1"/><path d="M196.3 106.6L201.5 111.8L196.3 117L191.1 111.8Z" fill="#FF0000" stroke="#FF0000" stroke-width="1"/><path d="M206.1 106.8L211.2 112L206.1 117.2L200.9 112Z" fill="#FF0000" stroke="#FF0000" stroke-width="1"/><path d="M215.8 107L221 112.2L215.8 117.4L210.6 112.2Z" fill="#FF0000" stroke="#FF0000" stroke-width="1"/><path d="M225.6 107.2L230.8 112.4L225.6 117.6L220.4 112.4Z" fill="#FF0000" stroke="#FF0000" stroke-width="1"/><path d="M235.3 107.4L240.5 112.6L235.3 117.8L230.1 112.6Z" fill="#FF0000" stroke="#FF0000" stroke-width="1"/><path d="M245.1 107.7L250.2 112.9L245.1 118.1L239.9 112.9Z" fill="#FF0000" stroke="#FF0000" stroke-width="1"/><path d="M254.8 108L260 113.2L254.8 118.4L249.6 113.2Z" fill="#FF0000" stroke="#FF0000" stroke-width="1"/><path d="M264.6 108.2L269.8 113.4L264.6 118.6L259.4 113.4Z" fill="#FF0000" stroke="#FF0000" stroke-width="1"/><path d="M274.3 108.2L279.5 113.4L274.3 118.6L269.1 113.4Z" fill="#FF0000" stroke="#FF0000" stroke-width="1"/><path d="M284.1 108.1L289.2 113.3L284.1 118.5L278.9 113.3Z" fill="#FF0000" stroke="#FF0000" stroke-width="1"/><path d="M293.8 108L299 113.2L293.8 118.4L288.6 113.2Z" fill="#FF0000" stroke="#FF0000" stroke-width="1"/><path d="M303.6 107.8L308.8 113L303.6 118.2L298.4 113Z" fill="#FF0000" stroke="#FF0000" stroke-width="1"/><path d="M313.3 107.5L318.5 112.7L313.3 117.9L308.1 112.7Z" fill="#FF0000" stroke="#FF0000" stroke-width="1"/><path d="M323.1 106.7L328.2 111.9L323.1 117.1L317.9 111.9Z" fill="#FF0000" stroke="#FF0000" stroke-width="1"/><path d="M332.8 105.6L338 110.8L332.8 116L327.6 110.8Z" fill="#FF0000" stroke="#FF0000" stroke-width="1"/><path d="M342.6 104.2L347.8 109.4L342.6 114.6L337.4 109.4Z" fill="#FF0000" stroke="#FF0000" stroke-width="1"/><path d="M352.3 102.7L357.5 107.9L352.3 113.1L347.1 107.9Z" fill="#FF0000" stroke="#FF0000" stroke-width="1"/><path d="M362.1 101.1L367.2 106.3L362.1 111.5L356.9 106.3Z" fill="#FF0000" stroke="#FF0000" stroke-width="1"/><path d="M371.8 99.2L377 104.4L371.8 109.6L366.6 104.4Z" fill="#FF0000" stroke="#FF0000" stroke-width="1"/><path d="M381.6 97.3L386.8 102.5L381.6 107.7L376.4 102.5Z" fill="#FF0000" stroke="#FF0000" stroke-width="1"/><path d="M391.3 94.8L396.5 100L391.3 105.2L386.1 100Z" fill="#FF0000" stroke="#FF0000" stroke-width="1"/><path d="M401.1 89.9L406.2 95.1L401.1 100.3L395.9 95.1Z" fill="#FF0000" stroke="#FF0000" stroke-width="1"/><path d="M410.8 84.4L416 89.6L410.8 94.8L405.6 89.6Z" fill="#FF0000" stroke="#FF0000" stroke-width="1"/><path d="M420.6 80.1L425.8 85.3L420.6 90.5L415.4 85.3Z" fill="#FF0000" stroke="#FF0000" stroke-width="1"/><path d="M430.3 76.1L435.5 81.3L430.3 86.5L425.1 81.3Z" fill="#FF0000" stroke="#FF0000" stroke-width="1"/><path d="M440.1 72.2L445.2 77.4L440.1 82.6L434.9 77.4Z" fill="#FF0000" stroke="#FF0000" stroke-width="1"/><path d="M449.8 68.2L455 73.4L449.8 78.6L444.6 73.4Z" fill="#FF0000" stroke="#FF0000" stroke-width="1"/><path d="M459.6 64.1L464.8 69.3L459.6 74.5L454.4 69.3Z" fill="#FF0000" stroke="#FF0000" stroke-width="1"/><path d="M469.3 59.8L474.5 65L469.3 70.2L464.1 65Z" fill="#FF0000" stroke="#FF0000" stroke-width="1"/><path d="M479.1 54.8L484.2 60L479.1 65.2L473.9 60Z" fill="#FF0000" stroke="#FF0000" stroke-width="1"/><path d="M488.8 49.7L494 54.9L488.8 60.1L483.6 54.9Z" fill="#FF0000" stroke="#FF0000" stroke-width="1"/><path d="M498.6 45.8L503.8 51L498.6 56.2L493.4 51Z" fill="#FF0000" stroke="#FF0000" stroke-width="1"/><path d="M508.3 41.9L513.5 47.1L508.3 52.3L503.1 47.1Z" fill="#FF0000" stroke="#FF0000" stroke-width="1"/><path d="M518 36.5L523.2 41.7L518 46.9L512.8 41.7Z" fill="#FF0000" stroke="#FF0000" stroke-width="1"/><path d="M527.8 31.2L533 36.4L527.8 41.6L522.6 36.4Z" fill="#FF0000" stroke="#FF0000" stroke-width="1"/><path d="M537.5 24.4L542.8 29.6L537.5 34.8L532.3 29.6Z" fill="#FF0000" stroke="#FF0000" stroke-width="1"/><path d="M547.3 17L552.5 22.2L547.3 27.4L542.1 22.2Z" fill="#FF0000" stroke="#FF0000" stroke-width="1"/></g>
<path d="M79.3 193L89 192.8L98.8 192.5L108.5 192.1L118.3 191.6L128.1 191.1L137.8 190.5L147.6 189.8L157.3 188.9L167.1 187.4L176.8 185.2L186.6 183L196.3 180.7L206.1 178.3L215.8 175.8L225.6 173.3L235.3 170.6L245.1 167.8L254.8 165L264.6 161.9L274.3 158.7L284.1 155.4L293.8 152.3L303.6 148.7L313.3 144.8L323.1 140.8L332.8 136.8L342.6 132.6L352.3 128.1L362.1 124.1L371.8 120.1L381.6 115.8L391.3 111.4L401.1 106.6L410.8 101.9L420.6 97.3L430.3 92.7L440.1 87.9L449.8 82.9L459.6 77.9L469.3 72.9L479.1 67.6L488.8 62.1L498.6 56.6L508.3 50.8L518 44.3L527.8 39.7L537.5 32.6L547.3 24.8" fill="none" stroke="#255E91" stroke-width="2.5" stroke-linejoin="round" stroke-linecap="round"/>
<g><path d="M75 188.7L83.6 197.3M75 197.3L83.6 188.7M79.3 188.7L79.3 197.3" stroke="#255E91" stroke-width="1.6" fill="none"/><path d="M84.8 188.5L93.3 197.1M84.8 197.1L93.3 188.5M89 188.5L89 197.1" stroke="#255E91" stroke-width="1.6" fill="none"/><path d="M94.5 188.2L103.1 196.8M94.5 196.8L103.1 188.2M98.8 188.2L98.8 196.8" stroke="#255E91" stroke-width="1.6" fill="none"/><path d="M104.2 187.8L112.8 196.4M104.2 196.4L112.8 187.8M108.5 187.8L108.5 196.4" stroke="#255E91" stroke-width="1.6" fill="none"/><path d="M114 187.3L122.6 195.9M114 195.9L122.6 187.3M118.3 187.3L118.3 195.9" stroke="#255E91" stroke-width="1.6" fill="none"/><path d="M123.8 186.8L132.4 195.4M123.8 195.4L132.4 186.8M128.1 186.8L128.1 195.4" stroke="#255E91" stroke-width="1.6" fill="none"/><path d="M133.5 186.2L142.1 194.8M133.5 194.8L142.1 186.2M137.8 186.2L137.8 194.8" stroke="#255E91" stroke-width="1.6" fill="none"/><path d="M143.2 185.5L151.9 194.1M143.2 194.1L151.9 185.5M147.6 185.5L147.6 194.1" stroke="#255E91" stroke-width="1.6" fill="none"/><path d="M153 184.6L161.6 193.2M153 193.2L161.6 184.6M157.3 184.6L157.3 193.2" stroke="#255E91" stroke-width="1.6" fill="none"/><path d="M162.8 183.1L171.4 191.7M162.8 191.7L171.4 183.1M167.1 183.1L167.1 191.7" stroke="#255E91" stroke-width="1.6" fill="none"/><path d="M172.5 180.9L181.1 189.5M172.5 189.5L181.1 180.9M176.8 180.9L176.8 189.5" stroke="#255E91" stroke-width="1.6" fill="none"/><path d="M182.2 178.7L190.9 187.3M182.2 187.3L190.9 178.7M186.6 178.7L186.6 187.3" stroke="#255E91" stroke-width="1.6" fill="none"/><path d="M192 176.4L200.6 185M192 185L200.6 176.4M196.3 176.4L196.3 185" stroke="#255E91" stroke-width="1.6" fill="none"/><path d="M201.8 174L210.4 182.6M201.8 182.6L210.4 174M206.1 174L206.1 182.6" stroke="#255E91" stroke-width="1.6" fill="none"/><path d="M211.5 171.5L220.1 180.1M211.5 180.1L220.1 171.5M215.8 171.5L215.8 180.1" stroke="#255E91" stroke-width="1.6" fill="none"/><path d="M221.2 169L229.9 177.6M221.2 177.6L229.9 169M225.6 169L225.6 177.6" stroke="#255E91" stroke-width="1.6" fill="none"/><path d="M231 166.3L239.6 174.9M231 174.9L239.6 166.3M235.3 166.3L235.3 174.9" stroke="#255E91" stroke-width="1.6" fill="none"/><path d="M240.8 163.5L249.4 172.1M240.8 172.1L249.4 163.5M245.1 163.5L245.1 172.1" stroke="#255E91" stroke-width="1.6" fill="none"/><path d="M250.5 160.7L259.1 169.3M250.5 169.3L259.1 160.7M254.8 160.7L254.8 169.3" stroke="#255E91" stroke-width="1.6" fill="none"/><path d="M260.2 157.6L268.9 166.2M260.2 166.2L268.9 157.6M264.6 157.6L264.6 166.2" stroke="#255E91" stroke-width="1.6" fill="none"/><path d="M270 154.4L278.6 163M270 163L278.6 154.4M274.3 154.4L274.3 163" stroke="#255E91" stroke-width="1.6" fill="none"/><path d="M279.8 151.1L288.4 159.7M279.8 159.7L288.4 151.1M284.1 151.1L284.1 159.7" stroke="#255E91" stroke-width="1.6" fill="none"/><path d="M289.5 148L298.1 156.6M289.5 156.6L298.1 148M293.8 148L293.8 156.6" stroke="#255E91" stroke-width="1.6" fill="none"/><path d="M299.2 144.4L307.9 153M299.2 153L307.9 144.4M303.6 144.4L303.6 153" stroke="#255E91" stroke-width="1.6" fill="none"/><path d="M309 140.5L317.6 149.1M309 149.1L317.6 140.5M313.3 140.5L313.3 149.1" stroke="#255E91" stroke-width="1.6" fill="none"/><path d="M318.8 136.5L327.4 145.1M318.8 145.1L327.4 136.5M323.1 136.5L323.1 145.1" stroke="#255E91" stroke-width="1.6" fill="none"/><path d="M328.5 132.5L337.1 141.1M328.5 141.1L337.1 132.5M332.8 132.5L332.8 141.1" stroke="#255E91" stroke-width="1.6" fill="none"/><path d="M338.2 128.3L346.9 136.9M338.2 136.9L346.9 128.3M342.6 128.3L342.6 136.9" stroke="#255E91" stroke-width="1.6" fill="none"/><path d="M348 123.8L356.6 132.4M348 132.4L356.6 123.8M352.3 123.8L352.3 132.4" stroke="#255E91" stroke-width="1.6" fill="none"/><path d="M357.8 119.8L366.4 128.4M357.8 128.4L366.4 119.8M362.1 119.8L362.1 128.4" stroke="#255E91" stroke-width="1.6" fill="none"/><path d="M367.5 115.8L376.1 124.4M367.5 124.4L376.1 115.8M371.8 115.8L371.8 124.4" stroke="#255E91" stroke-width="1.6" fill="none"/><path d="M377.2 111.5L385.9 120.1M377.2 120.1L385.9 111.5M381.6 111.5L381.6 120.1" stroke="#255E91" stroke-width="1.6" fill="none"/><path d="M387 107.1L395.6 115.7M387 115.7L395.6 107.1M391.3 107.1L391.3 115.7" stroke="#255E91" stroke-width="1.6" fill="none"/><path d="M396.8 102.3L405.4 110.9M396.8 110.9L405.4 102.3M401.1 102.3L401.1 110.9" stroke="#255E91" stroke-width="1.6" fill="none"/><path d="M406.5 97.6L415.1 106.2M406.5 106.2L415.1 97.6M410.8 97.6L410.8 106.2" stroke="#255E91" stroke-width="1.6" fill="none"/><path d="M416.2 93L424.9 101.6M416.2 101.6L424.9 93M420.6 93L420.6 101.6" stroke="#255E91" stroke-width="1.6" fill="none"/><path d="M426 88.4L434.6 97M426 97L434.6 88.4M430.3 88.4L430.3 97" stroke="#255E91" stroke-width="1.6" fill="none"/><path d="M435.8 83.6L444.4 92.2M435.8 92.2L444.4 83.6M440.1 83.6L440.1 92.2" stroke="#255E91" stroke-width="1.6" fill="none"/><path d="M445.5 78.6L454.1 87.2M445.5 87.2L454.1 78.6M449.8 78.6L449.8 87.2" stroke="#255E91" stroke-width="1.6" fill="none"/><path d="M455.2 73.6L463.9 82.2M455.2 82.2L463.9 73.6M459.6 73.6L459.6 82.2" stroke="#255E91" stroke-width="1.6" fill="none"/><path d="M465 68.6L473.6 77.2M465 77.2L473.6 68.6M469.3 68.6L469.3 77.2" stroke="#255E91" stroke-width="1.6" fill="none"/><path d="M474.8 63.3L483.4 71.9M474.8 71.9L483.4 63.3M479.1 63.3L479.1 71.9" stroke="#255E91" stroke-width="1.6" fill="none"/><path d="M484.5 57.8L493.1 66.4M484.5 66.4L493.1 57.8M488.8 57.8L488.8 66.4" stroke="#255E91" stroke-width="1.6" fill="none"/><path d="M494.2 52.3L502.9 60.9M494.2 60.9L502.9 52.3M498.6 52.3L498.6 60.9" stroke="#255E91" stroke-width="1.6" fill="none"/><path d="M504 46.5L512.6 55.1M504 55.1L512.6 46.5M508.3 46.5L508.3 55.1" stroke="#255E91" stroke-width="1.6" fill="none"/><path d="M513.8 40L522.3 48.6M513.8 48.6L522.3 40M518 40L518 48.6" stroke="#255E91" stroke-width="1.6" fill="none"/><path d="M523.5 35.4L532.1 44M523.5 44L532.1 35.4M527.8 35.4L527.8 44" stroke="#255E91" stroke-width="1.6" fill="none"/><path d="M533.2 28.3L541.8 36.9M533.2 36.9L541.8 28.3M537.5 28.3L537.5 36.9" stroke="#255E91" stroke-width="1.6" fill="none"/><path d="M543 20.5L551.6 29.1M543 29.1L551.6 20.5M547.3 20.5L547.3 29.1" stroke="#255E91" stroke-width="1.6" fill="none"/></g>
<path d="M79.3 221.2L89 220.8L98.8 220L108.5 219L118.3 217.7L128.1 216.3L137.8 214.6L147.6 212.2L157.3 209.6L167.1 207L176.8 204.1L186.6 201.2L196.3 198.4L206.1 195.7L215.8 192.9L225.6 189.9L235.3 186.7L245.1 183.2L254.8 179.5L264.6 175.6L274.3 171.7L284.1 167.7L293.8 163.9L303.6 160.3L313.3 156.6L323.1 152.4L332.8 147.7L342.6 142.9L352.3 138.4L362.1 134.2L371.8 129.8L381.6 124.6L391.3 119.3L401.1 114.8L410.8 110.5L420.6 106.4L430.3 101.9L440.1 96.6L449.8 90.6L459.6 84.5L469.3 78.9L479.1 73.5L488.8 68.1L498.6 62.5L508.3 56.8L518 51L527.8 44.6L537.5 37.3L547.3 29" fill="none" stroke="#43682B" stroke-width="3" stroke-linejoin="round" stroke-linecap="round"/>
<path d="M79.3 269.1L89 264.6L98.8 262.4L108.5 260.2L118.3 256.7L128.1 253.1L137.8 250.5L147.6 247.5L157.3 243.9L167.1 239.2L176.8 235.7L186.6 231.2L196.3 226.9L206.1 222.5L215.8 218L225.6 213.6L235.3 209.8L245.1 205.4L254.8 200.5L264.6 195.4L274.3 190.3L284.1 185.6L293.8 181.3L303.6 176.5L313.3 171.1L323.1 165.6L332.8 160.2L342.6 155L352.3 150.4L362.1 145.6L371.8 140.4L381.6 134.8L391.3 129.1L401.1 123.2L410.8 117.3L420.6 111.6L430.3 106.1L440.1 100.9L449.8 95.9L459.6 90.9L469.3 85.4L479.1 79.2L488.8 72.5L498.6 65.6L508.3 58.8L518 52.3L527.8 45.8L537.5 39.4L547.3 33" fill="none" stroke="#A5A5A5" stroke-width="2.5" stroke-linejoin="round" stroke-linecap="round" stroke-dasharray="1 4"/>
<g><circle cx="79.3" cy="269.1" r="4.8" fill="#A5A5A5" stroke="#A5A5A5" stroke-width="1"/><circle cx="89" cy="264.6" r="4.8" fill="#A5A5A5" stroke="#A5A5A5" stroke-width="1"/><circle cx="98.8" cy="262.4" r="4.8" fill="#A5A5A5" stroke="#A5A5A5" stroke-width="1"/><circle cx="108.5" cy="260.2" r="4.8" fill="#A5A5A5" stroke="#A5A5A5" stroke-width="1"/><circle cx="118.3" cy="256.7" r="4.8" fill="#A5A5A5" stroke="#A5A5A5" stroke-width="1"/><circle cx="128.1" cy="253.1" r="4.8" fill="#A5A5A5" stroke="#A5A5A5" stroke-width="1"/><circle cx="137.8" cy="250.5" r="4.8" fill="#A5A5A5" stroke="#A5A5A5" stroke-width="1"/><circle cx="147.6" cy="247.5" r="4.8" fill="#A5A5A5" stroke="#A5A5A5" stroke-width="1"/><circle cx="157.3" cy="243.9" r="4.8" fill="#A5A5A5" stroke="#A5A5A5" stroke-width="1"/><circle cx="167.1" cy="239.2" r="4.8" fill="#A5A5A5" stroke="#A5A5A5" stroke-width="1"/><circle cx="176.8" cy="235.7" r="4.8" fill="#A5A5A5" stroke="#A5A5A5" stroke-width="1"/><circle cx="186.6" cy="231.2" r="4.8" fill="#A5A5A5" stroke="#A5A5A5" stroke-width="1"/><circle cx="196.3" cy="226.9" r="4.8" fill="#A5A5A5" stroke="#A5A5A5" stroke-width="1"/><circle cx="206.1" cy="222.5" r="4.8" fill="#A5A5A5" stroke="#A5A5A5" stroke-width="1"/><circle cx="215.8" cy="218" r="4.8" fill="#A5A5A5" stroke="#A5A5A5" stroke-width="1"/><circle cx="225.6" cy="213.6" r="4.8" fill="#A5A5A5" stroke="#A5A5A5" stroke-width="1"/><circle cx="235.3" cy="209.8" r="4.8" fill="#A5A5A5" stroke="#A5A5A5" stroke-width="1"/><circle cx="245.1" cy="205.4" r="4.8" fill="#A5A5A5" stroke="#A5A5A5" stroke-width="1"/><circle cx="254.8" cy="200.5" r="4.8" fill="#A5A5A5" stroke="#A5A5A5" stroke-width="1"/><circle cx="264.6" cy="195.4" r="4.8" fill="#A5A5A5" stroke="#A5A5A5" stroke-width="1"/><circle cx="274.3" cy="190.3" r="4.8" fill="#A5A5A5" stroke="#A5A5A5" stroke-width="1"/><circle cx="284.1" cy="185.6" r="4.8" fill="#A5A5A5" stroke="#A5A5A5" stroke-width="1"/><circle cx="293.8" cy="181.3" r="4.8" fill="#A5A5A5" stroke="#A5A5A5" stroke-width="1"/><circle cx="303.6" cy="176.5" r="4.8" fill="#A5A5A5" stroke="#A5A5A5" stroke-width="1"/><circle cx="313.3" cy="171.1" r="4.8" fill="#A5A5A5" stroke="#A5A5A5" stroke-width="1"/><circle cx="323.1" cy="165.6" r="4.8" fill="#A5A5A5" stroke="#A5A5A5" stroke-width="1"/><circle cx="332.8" cy="160.2" r="4.8" fill="#A5A5A5" stroke="#A5A5A5" stroke-width="1"/><circle cx="342.6" cy="155" r="4.8" fill="#A5A5A5" stroke="#A5A5A5" stroke-width="1"/><circle cx="352.3" cy="150.4" r="4.8" fill="#A5A5A5" stroke="#A5A5A5" stroke-width="1"/><circle cx="362.1" cy="145.6" r="4.8" fill="#A5A5A5" stroke="#A5A5A5" stroke-width="1"/><circle cx="371.8" cy="140.4" r="4.8" fill="#A5A5A5" stroke="#A5A5A5" stroke-width="1"/><circle cx="381.6" cy="134.8" r="4.8" fill="#A5A5A5" stroke="#A5A5A5" stroke-width="1"/><circle cx="391.3" cy="129.1" r="4.8" fill="#A5A5A5" stroke="#A5A5A5" stroke-width="1"/><circle cx="401.1" cy="123.2" r="4.8" fill="#A5A5A5" stroke="#A5A5A5" stroke-width="1"/><circle cx="410.8" cy="117.3" r="4.8" fill="#A5A5A5" stroke="#A5A5A5" stroke-width="1"/><circle cx="420.6" cy="111.6" r="4.8" fill="#A5A5A5" stroke="#A5A5A5" stroke-width="1"/><circle cx="430.3" cy="106.1" r="4.8" fill="#A5A5A5" stroke="#A5A5A5" stroke-width="1"/><circle cx="440.1" cy="100.9" r="4.8" fill="#A5A5A5" stroke="#A5A5A5" stroke-width="1"/><circle cx="449.8" cy="95.9" r="4.8" fill="#A5A5A5" stroke="#A5A5A5" stroke-width="1"/><circle cx="459.6" cy="90.9" r="4.8" fill="#A5A5A5" stroke="#A5A5A5" stroke-width="1"/><circle cx="469.3" cy="85.4" r="4.8" fill="#A5A5A5" stroke="#A5A5A5" stroke-width="1"/><circle cx="479.1" cy="79.2" r="4.8" fill="#A5A5A5" stroke="#A5A5A5" stroke-width="1"/><circle cx="488.8" cy="72.5" r="4.8" fill="#A5A5A5" stroke="#A5A5A5" stroke-width="1"/><circle cx="498.6" cy="65.6" r="4.8" fill="#A5A5A5" stroke="#A5A5A5" stroke-width="1"/><circle cx="508.3" cy="58.8" r="4.8" fill="#A5A5A5" stroke="#A5A5A5" stroke-width="1"/><circle cx="518" cy="52.3" r="4.8" fill="#A5A5A5" stroke="#A5A5A5" stroke-width="1"/><circle cx="527.8" cy="45.8" r="4.8" fill="#A5A5A5" stroke="#A5A5A5" stroke-width="1"/><circle cx="537.5" cy="39.4" r="4.8" fill="#A5A5A5" stroke="#A5A5A5" stroke-width="1"/><circle cx="547.3" cy="33" r="4.8" fill="#A5A5A5" stroke="#A5A5A5" stroke-width="1"/></g>
<path d="M79.3 287.1L89 284.1L98.8 280.8L108.5 277.3L118.3 273.5L128.1 269.6L137.8 265.2L147.6 260.5L157.3 255.5L167.1 250.3L176.8 245.1L186.6 240L196.3 235.1L206.1 230.2L215.8 225.2L225.6 220.3L235.3 215.2L245.1 209.9L254.8 204.6L264.6 199.3L274.3 193.9L284.1 188.4L293.8 183L303.6 177.5L313.3 172.1L323.1 166.6L332.8 161.2L342.6 155.7L352.3 150.2L362.1 144.6L371.8 139.1L381.6 133.4L391.3 127.8L401.1 122.1L410.8 116.5L420.6 111L430.3 105.6L440.1 100.4L449.8 95.4L459.6 90.3L469.3 84.9L479.1 78.9L488.8 72.5L498.6 65.9L508.3 59.3L518 52.7L527.8 46L537.5 39.3L547.3 32.5" fill="none" stroke="#A9D18E" stroke-width="2.5" stroke-linejoin="round" stroke-linecap="round" stroke-dasharray="6 4"/>
<g><path d="M75.5 283.3L83.1 290.9M75.5 290.9L83.1 283.3" stroke="#A9D18E" stroke-width="1.5" fill="none"/><path d="M85.2 280.3L92.8 287.9M85.2 287.9L92.8 280.3" stroke="#A9D18E" stroke-width="1.5" fill="none"/><path d="M95 277L102.6 284.6M95 284.6L102.6 277" stroke="#A9D18E" stroke-width="1.5" fill="none"/><path d="M104.8 273.5L112.3 281.1M104.8 281.1L112.3 273.5" stroke="#A9D18E" stroke-width="1.5" fill="none"/><path d="M114.5 269.7L122.1 277.3M114.5 277.3L122.1 269.7" stroke="#A9D18E" stroke-width="1.5" fill="none"/><path d="M124.3 265.8L131.9 273.4M124.3 273.4L131.9 265.8" stroke="#A9D18E" stroke-width="1.5" fill="none"/><path d="M134 261.4L141.6 269M134 269L141.6 261.4" stroke="#A9D18E" stroke-width="1.5" fill="none"/><path d="M143.8 256.7L151.4 264.3M143.8 264.3L151.4 256.7" stroke="#A9D18E" stroke-width="1.5" fill="none"/><path d="M153.5 251.7L161.1 259.3M153.5 259.3L161.1 251.7" stroke="#A9D18E" stroke-width="1.5" fill="none"/><path d="M163.2 246.5L170.9 254.1M163.2 254.1L170.9 246.5" stroke="#A9D18E" stroke-width="1.5" fill="none"/><path d="M173 241.3L180.6 248.9M173 248.9L180.6 241.3" stroke="#A9D18E" stroke-width="1.5" fill="none"/><path d="M182.8 236.2L190.4 243.8M182.8 243.8L190.4 236.2" stroke="#A9D18E" stroke-width="1.5" fill="none"/><path d="M192.5 231.3L200.1 238.9M192.5 238.9L200.1 231.3" stroke="#A9D18E" stroke-width="1.5" fill="none"/><path d="M202.2 226.4L209.9 234M202.2 234L209.9 226.4" stroke="#A9D18E" stroke-width="1.5" fill="none"/><path d="M212 221.4L219.6 229M212 229L219.6 221.4" stroke="#A9D18E" stroke-width="1.5" fill="none"/><path d="M221.8 216.5L229.4 224.1M221.8 224.1L229.4 216.5" stroke="#A9D18E" stroke-width="1.5" fill="none"/><path d="M231.5 211.4L239.1 219M231.5 219L239.1 211.4" stroke="#A9D18E" stroke-width="1.5" fill="none"/><path d="M241.2 206.1L248.9 213.7M241.2 213.7L248.9 206.1" stroke="#A9D18E" stroke-width="1.5" fill="none"/><path d="M251 200.8L258.6 208.4M251 208.4L258.6 200.8" stroke="#A9D18E" stroke-width="1.5" fill="none"/><path d="M260.8 195.5L268.4 203.1M260.8 203.1L268.4 195.5" stroke="#A9D18E" stroke-width="1.5" fill="none"/><path d="M270.5 190.1L278.1 197.7M270.5 197.7L278.1 190.1" stroke="#A9D18E" stroke-width="1.5" fill="none"/><path d="M280.2 184.6L287.9 192.2M280.2 192.2L287.9 184.6" stroke="#A9D18E" stroke-width="1.5" fill="none"/><path d="M290 179.2L297.6 186.8M290 186.8L297.6 179.2" stroke="#A9D18E" stroke-width="1.5" fill="none"/><path d="M299.8 173.7L307.4 181.3M299.8 181.3L307.4 173.7" stroke="#A9D18E" stroke-width="1.5" fill="none"/><path d="M309.5 168.3L317.1 175.9M309.5 175.9L317.1 168.3" stroke="#A9D18E" stroke-width="1.5" fill="none"/><path d="M319.2 162.8L326.9 170.4M319.2 170.4L326.9 162.8" stroke="#A9D18E" stroke-width="1.5" fill="none"/><path d="M329 157.4L336.6 165M329 165L336.6 157.4" stroke="#A9D18E" stroke-width="1.5" fill="none"/><path d="M338.8 151.9L346.4 159.5M338.8 159.5L346.4 151.9" stroke="#A9D18E" stroke-width="1.5" fill="none"/><path d="M348.5 146.4L356.1 154M348.5 154L356.1 146.4" stroke="#A9D18E" stroke-width="1.5" fill="none"/><path d="M358.2 140.8L365.9 148.4M358.2 148.4L365.9 140.8" stroke="#A9D18E" stroke-width="1.5" fill="none"/><path d="M368 135.3L375.6 142.9M368 142.9L375.6 135.3" stroke="#A9D18E" stroke-width="1.5" fill="none"/><path d="M377.8 129.6L385.4 137.2M377.8 137.2L385.4 129.6" stroke="#A9D18E" stroke-width="1.5" fill="none"/><path d="M387.5 124L395.1 131.6M387.5 131.6L395.1 124" stroke="#A9D18E" stroke-width="1.5" fill="none"/><path d="M397.2 118.3L404.9 125.9M397.2 125.9L404.9 118.3" stroke="#A9D18E" stroke-width="1.5" fill="none"/><path d="M407 112.7L414.6 120.3M407 120.3L414.6 112.7" stroke="#A9D18E" stroke-width="1.5" fill="none"/><path d="M416.8 107.2L424.4 114.8M416.8 114.8L424.4 107.2" stroke="#A9D18E" stroke-width="1.5" fill="none"/><path d="M426.5 101.8L434.1 109.4M426.5 109.4L434.1 101.8" stroke="#A9D18E" stroke-width="1.5" fill="none"/><path d="M436.2 96.6L443.9 104.2M436.2 104.2L443.9 96.6" stroke="#A9D18E" stroke-width="1.5" fill="none"/><path d="M446 91.6L453.6 99.2M446 99.2L453.6 91.6" stroke="#A9D18E" stroke-width="1.5" fill="none"/><path d="M455.8 86.5L463.4 94.1M455.8 94.1L463.4 86.5" stroke="#A9D18E" stroke-width="1.5" fill="none"/><path d="M465.5 81.1L473.1 88.7M465.5 88.7L473.1 81.1" stroke="#A9D18E" stroke-width="1.5" fill="none"/><path d="M475.2 75.1L482.9 82.7M475.2 82.7L482.9 75.1" stroke="#A9D18E" stroke-width="1.5" fill="none"/><path d="M485 68.7L492.6 76.3M485 76.3L492.6 68.7" stroke="#A9D18E" stroke-width="1.5" fill="none"/><path d="M494.8 62.1L502.4 69.7M494.8 69.7L502.4 62.1" stroke="#A9D18E" stroke-width="1.5" fill="none"/><path d="M504.5 55.5L512.1 63.1M504.5 63.1L512.1 55.5" stroke="#A9D18E" stroke-width="1.5" fill="none"/><path d="M514.2 48.9L521.8 56.5M514.2 56.5L521.8 48.9" stroke="#A9D18E" stroke-width="1.5" fill="none"/><path d="M524 42.2L531.6 49.8M524 49.8L531.6 42.2" stroke="#A9D18E" stroke-width="1.5" fill="none"/><path d="M533.8 35.5L541.3 43.1M533.8 43.1L541.3 35.5" stroke="#A9D18E" stroke-width="1.5" fill="none"/><path d="M543.5 28.7L551.1 36.3M543.5 36.3L551.1 28.7" stroke="#A9D18E" stroke-width="1.5" fill="none"/></g>
<path d="M79.3 292.7L89 290.1L98.8 285.7L108.5 281.4L118.3 276.9L128.1 272.5L137.8 267.6L147.6 262.4L157.3 257.1L167.1 251.8L176.8 246.6L186.6 241.5L196.3 236.8L206.1 232.1L215.8 226.8L225.6 221.5L235.3 216.8L245.1 211.6L254.8 206.2L264.6 200.6L274.3 194.9L284.1 189.2L293.8 183.5L303.6 178L313.3 172.5L323.1 167L332.8 161.6L342.6 156.1L352.3 150.7L362.1 145.1L371.8 139.6L381.6 133.9L391.3 128.3L401.1 122.6L410.8 117L420.6 111.5L430.3 106.1L440.1 100.9L449.8 95.9L459.6 90.8L469.3 85.4L479.1 79.4L488.8 73L498.6 66.4L508.3 59.8L518 53.2L527.8 46.5L537.5 39.8L547.3 33" fill="none" stroke="#A9D18E" stroke-width="2.5" stroke-linejoin="round" stroke-linecap="round"/>
<g><path d="M79.3 287.9L84.1 292.7L79.3 297.5L74.5 292.7Z" fill="none" stroke="#A9D18E" stroke-width="1.5"/><path d="M89 285.3L93.8 290.1L89 294.9L84.2 290.1Z" fill="none" stroke="#A9D18E" stroke-width="1.5"/><path d="M98.8 280.9L103.6 285.7L98.8 290.5L94 285.7Z" fill="none" stroke="#A9D18E" stroke-width="1.5"/><path d="M108.5 276.6L113.3 281.4L108.5 286.2L103.8 281.4Z" fill="none" stroke="#A9D18E" stroke-width="1.5"/><path d="M118.3 272.1L123.1 276.9L118.3 281.7L113.5 276.9Z" fill="none" stroke="#A9D18E" stroke-width="1.5"/><path d="M128.1 267.7L132.9 272.5L128.1 277.3L123.3 272.5Z" fill="none" stroke="#A9D18E" stroke-width="1.5"/><path d="M137.8 262.8L142.6 267.6L137.8 272.4L133 267.6Z" fill="none" stroke="#A9D18E" stroke-width="1.5"/><path d="M147.6 257.6L152.4 262.4L147.6 267.2L142.8 262.4Z" fill="none" stroke="#A9D18E" stroke-width="1.5"/><path d="M157.3 252.3L162.1 257.1L157.3 261.9L152.5 257.1Z" fill="none" stroke="#A9D18E" stroke-width="1.5"/><path d="M167.1 247L171.9 251.8L167.1 256.6L162.2 251.8Z" fill="none" stroke="#A9D18E" stroke-width="1.5"/><path d="M176.8 241.8L181.6 246.6L176.8 251.4L172 246.6Z" fill="none" stroke="#A9D18E" stroke-width="1.5"/><path d="M186.6 236.7L191.4 241.5L186.6 246.3L181.8 241.5Z" fill="none" stroke="#A9D18E" stroke-width="1.5"/><path d="M196.3 232L201.1 236.8L196.3 241.6L191.5 236.8Z" fill="none" stroke="#A9D18E" stroke-width="1.5"/><path d="M206.1 227.3L210.9 232.1L206.1 236.9L201.2 232.1Z" fill="none" stroke="#A9D18E" stroke-width="1.5"/><path d="M215.8 222L220.6 226.8L215.8 231.6L211 226.8Z" fill="none" stroke="#A9D18E" stroke-width="1.5"/><path d="M225.6 216.7L230.4 221.5L225.6 226.3L220.8 221.5Z" fill="none" stroke="#A9D18E" stroke-width="1.5"/><path d="M235.3 212L240.1 216.8L235.3 221.6L230.5 216.8Z" fill="none" stroke="#A9D18E" stroke-width="1.5"/><path d="M245.1 206.8L249.9 211.6L245.1 216.4L240.2 211.6Z" fill="none" stroke="#A9D18E" stroke-width="1.5"/><path d="M254.8 201.4L259.6 206.2L254.8 211L250 206.2Z" fill="none" stroke="#A9D18E" stroke-width="1.5"/><path d="M264.6 195.8L269.4 200.6L264.6 205.4L259.8 200.6Z" fill="none" stroke="#A9D18E" stroke-width="1.5"/><path d="M274.3 190.1L279.1 194.9L274.3 199.7L269.5 194.9Z" fill="none" stroke="#A9D18E" stroke-width="1.5"/><path d="M284.1 184.4L288.9 189.2L284.1 194L279.2 189.2Z" fill="none" stroke="#A9D18E" stroke-width="1.5"/><path d="M293.8 178.7L298.6 183.5L293.8 188.3L289 183.5Z" fill="none" stroke="#A9D18E" stroke-width="1.5"/><path d="M303.6 173.2L308.4 178L303.6 182.8L298.8 178Z" fill="none" stroke="#A9D18E" stroke-width="1.5"/><path d="M313.3 167.7L318.1 172.5L313.3 177.3L308.5 172.5Z" fill="none" stroke="#A9D18E" stroke-width="1.5"/><path d="M323.1 162.2L327.9 167L323.1 171.8L318.2 167Z" fill="none" stroke="#A9D18E" stroke-width="1.5"/><path d="M332.8 156.8L337.6 161.6L332.8 166.4L328 161.6Z" fill="none" stroke="#A9D18E" stroke-width="1.5"/><path d="M342.6 151.3L347.4 156.1L342.6 160.9L337.8 156.1Z" fill="none" stroke="#A9D18E" stroke-width="1.5"/><path d="M352.3 145.9L357.1 150.7L352.3 155.5L347.5 150.7Z" fill="none" stroke="#A9D18E" stroke-width="1.5"/><path d="M362.1 140.3L366.9 145.1L362.1 149.9L357.2 145.1Z" fill="none" stroke="#A9D18E" stroke-width="1.5"/><path d="M371.8 134.8L376.6 139.6L371.8 144.4L367 139.6Z" fill="none" stroke="#A9D18E" stroke-width="1.5"/><path d="M381.6 129.1L386.4 133.9L381.6 138.7L376.8 133.9Z" fill="none" stroke="#A9D18E" stroke-width="1.5"/><path d="M391.3 123.5L396.1 128.3L391.3 133.1L386.5 128.3Z" fill="none" stroke="#A9D18E" stroke-width="1.5"/><path d="M401.1 117.8L405.9 122.6L401.1 127.4L396.2 122.6Z" fill="none" stroke="#A9D18E" stroke-width="1.5"/><path d="M410.8 112.2L415.6 117L410.8 121.8L406 117Z" fill="none" stroke="#A9D18E" stroke-width="1.5"/><path d="M420.6 106.7L425.4 111.5L420.6 116.3L415.8 111.5Z" fill="none" stroke="#A9D18E" stroke-width="1.5"/><path d="M430.3 101.3L435.1 106.1L430.3 110.9L425.5 106.1Z" fill="none" stroke="#A9D18E" stroke-width="1.5"/><path d="M440.1 96.1L444.9 100.9L440.1 105.7L435.2 100.9Z" fill="none" stroke="#A9D18E" stroke-width="1.5"/><path d="M449.8 91.1L454.6 95.9L449.8 100.7L445 95.9Z" fill="none" stroke="#A9D18E" stroke-width="1.5"/><path d="M459.6 86L464.4 90.8L459.6 95.6L454.8 90.8Z" fill="none" stroke="#A9D18E" stroke-width="1.5"/><path d="M469.3 80.6L474.1 85.4L469.3 90.2L464.5 85.4Z" fill="none" stroke="#A9D18E" stroke-width="1.5"/><path d="M479.1 74.6L483.9 79.4L479.1 84.2L474.2 79.4Z" fill="none" stroke="#A9D18E" stroke-width="1.5"/><path d="M488.8 68.2L493.6 73L488.8 77.8L484 73Z" fill="none" stroke="#A9D18E" stroke-width="1.5"/><path d="M498.6 61.6L503.4 66.4L498.6 71.2L493.8 66.4Z" fill="none" stroke="#A9D18E" stroke-width="1.5"/><path d="M508.3 55L513.1 59.8L508.3 64.6L503.5 59.8Z" fill="none" stroke="#A9D18E" stroke-width="1.5"/><path d="M518 48.4L522.8 53.2L518 58L513.2 53.2Z" fill="none" stroke="#A9D18E" stroke-width="1.5"/><path d="M527.8 41.7L532.6 46.5L527.8 51.3L523 46.5Z" fill="none" stroke="#A9D18E" stroke-width="1.5"/><path d="M537.5 35L542.3 39.8L537.5 44.6L532.8 39.8Z" fill="none" stroke="#A9D18E" stroke-width="1.5"/><path d="M547.3 28.2L552.1 33L547.3 37.8L542.5 33Z" fill="none" stroke="#A9D18E" stroke-width="1.5"/></g>
<path d="M79.3 278.5L89 276.9L98.8 274.9L108.5 272.5L118.3 269.7L128.1 266.4L137.8 262.6L147.6 258.3L157.3 253.8L167.1 249.1L176.8 244.4L186.6 239.9L196.3 235.6L206.1 231.3L215.8 227L225.6 222.6L235.3 217.4L245.1 209.8L254.8 202.1L264.6 197.1L274.3 193.1L284.1 188.6L293.8 182.7L303.6 177.3L313.3 172.3L323.1 167.4L332.8 162.2L342.6 156.3L352.3 149.2L362.1 143.9L371.8 137.8L381.6 132.4L391.3 127.1L401.1 121.1L410.8 116.3L420.6 112.1L430.3 107.7L440.1 102.4L449.8 96.9L459.6 91.9L469.3 86.4L479.1 81.9L488.8 75.4L498.6 68.1L508.3 61.8L518 56.2L527.8 50.1L537.5 42.3L547.3 32.9" fill="none" stroke="#9DC3E6" stroke-width="2.5" stroke-linejoin="round" stroke-linecap="round" stroke-dasharray="8 7"/>
<g><rect x="74.9" y="274.1" width="8.8" height="8.8" fill="#9DC3E6" stroke="#9DC3E6" stroke-width="1"/><rect x="84.6" y="272.5" width="8.8" height="8.8" fill="#9DC3E6" stroke="#9DC3E6" stroke-width="1"/><rect x="94.4" y="270.5" width="8.8" height="8.8" fill="#9DC3E6" stroke="#9DC3E6" stroke-width="1"/><rect x="104.1" y="268.1" width="8.8" height="8.8" fill="#9DC3E6" stroke="#9DC3E6" stroke-width="1"/><rect x="113.9" y="265.3" width="8.8" height="8.8" fill="#9DC3E6" stroke="#9DC3E6" stroke-width="1"/><rect x="123.7" y="262" width="8.8" height="8.8" fill="#9DC3E6" stroke="#9DC3E6" stroke-width="1"/><rect x="133.4" y="258.2" width="8.8" height="8.8" fill="#9DC3E6" stroke="#9DC3E6" stroke-width="1"/><rect x="143.2" y="253.9" width="8.8" height="8.8" fill="#9DC3E6" stroke="#9DC3E6" stroke-width="1"/><rect x="152.9" y="249.4" width="8.8" height="8.8" fill="#9DC3E6" stroke="#9DC3E6" stroke-width="1"/><rect x="162.7" y="244.7" width="8.8" height="8.8" fill="#9DC3E6" stroke="#9DC3E6" stroke-width="1"/><rect x="172.4" y="240" width="8.8" height="8.8" fill="#9DC3E6" stroke="#9DC3E6" stroke-width="1"/><rect x="182.2" y="235.5" width="8.8" height="8.8" fill="#9DC3E6" stroke="#9DC3E6" stroke-width="1"/><rect x="191.9" y="231.2" width="8.8" height="8.8" fill="#9DC3E6" stroke="#9DC3E6" stroke-width="1"/><rect x="201.7" y="226.9" width="8.8" height="8.8" fill="#9DC3E6" stroke="#9DC3E6" stroke-width="1"/><rect x="211.4" y="222.6" width="8.8" height="8.8" fill="#9DC3E6" stroke="#9DC3E6" stroke-width="1"/><rect x="221.2" y="218.2" width="8.8" height="8.8" fill="#9DC3E6" stroke="#9DC3E6" stroke-width="1"/><rect x="230.9" y="213" width="8.8" height="8.8" fill="#9DC3E6" stroke="#9DC3E6" stroke-width="1"/><rect x="240.7" y="205.4" width="8.8" height="8.8" fill="#9DC3E6" stroke="#9DC3E6" stroke-width="1"/><rect x="250.4" y="197.7" width="8.8" height="8.8" fill="#9DC3E6" stroke="#9DC3E6" stroke-width="1"/><rect x="260.2" y="192.7" width="8.8" height="8.8" fill="#9DC3E6" stroke="#9DC3E6" stroke-width="1"/><rect x="269.9" y="188.7" width="8.8" height="8.8" fill="#9DC3E6" stroke="#9DC3E6" stroke-width="1"/><rect x="279.7" y="184.2" width="8.8" height="8.8" fill="#9DC3E6" stroke="#9DC3E6" stroke-width="1"/><rect x="289.4" y="178.3" width="8.8" height="8.8" fill="#9DC3E6" stroke="#9DC3E6" stroke-width="1"/><rect x="299.2" y="172.9" width="8.8" height="8.8" fill="#9DC3E6" stroke="#9DC3E6" stroke-width="1"/><rect x="308.9" y="167.9" width="8.8" height="8.8" fill="#9DC3E6" stroke="#9DC3E6" stroke-width="1"/><rect x="318.7" y="163" width="8.8" height="8.8" fill="#9DC3E6" stroke="#9DC3E6" stroke-width="1"/><rect x="328.4" y="157.8" width="8.8" height="8.8" fill="#9DC3E6" stroke="#9DC3E6" stroke-width="1"/><rect x="338.2" y="151.9" width="8.8" height="8.8" fill="#9DC3E6" stroke="#9DC3E6" stroke-width="1"/><rect x="347.9" y="144.8" width="8.8" height="8.8" fill="#9DC3E6" stroke="#9DC3E6" stroke-width="1"/><rect x="357.7" y="139.5" width="8.8" height="8.8" fill="#9DC3E6" stroke="#9DC3E6" stroke-width="1"/><rect x="367.4" y="133.4" width="8.8" height="8.8" fill="#9DC3E6" stroke="#9DC3E6" stroke-width="1"/><rect x="377.2" y="128" width="8.8" height="8.8" fill="#9DC3E6" stroke="#9DC3E6" stroke-width="1"/><rect x="386.9" y="122.7" width="8.8" height="8.8" fill="#9DC3E6" stroke="#9DC3E6" stroke-width="1"/><rect x="396.7" y="116.7" width="8.8" height="8.8" fill="#9DC3E6" stroke="#9DC3E6" stroke-width="1"/><rect x="406.4" y="111.9" width="8.8" height="8.8" fill="#9DC3E6" stroke="#9DC3E6" stroke-width="1"/><rect x="416.2" y="107.7" width="8.8" height="8.8" fill="#9DC3E6" stroke="#9DC3E6" stroke-width="1"/><rect x="425.9" y="103.3" width="8.8" height="8.8" fill="#9DC3E6" stroke="#9DC3E6" stroke-width="1"/><rect x="435.7" y="98" width="8.8" height="8.8" fill="#9DC3E6" stroke="#9DC3E6" stroke-width="1"/><rect x="445.4" y="92.5" width="8.8" height="8.8" fill="#9DC3E6" stroke="#9DC3E6" stroke-width="1"/><rect x="455.2" y="87.5" width="8.8" height="8.8" fill="#9DC3E6" stroke="#9DC3E6" stroke-width="1"/><rect x="464.9" y="82" width="8.8" height="8.8" fill="#9DC3E6" stroke="#9DC3E6" stroke-width="1"/><rect x="474.7" y="77.5" width="8.8" height="8.8" fill="#9DC3E6" stroke="#9DC3E6" stroke-width="1"/><rect x="484.4" y="71" width="8.8" height="8.8" fill="#9DC3E6" stroke="#9DC3E6" stroke-width="1"/><rect x="494.2" y="63.7" width="8.8" height="8.8" fill="#9DC3E6" stroke="#9DC3E6" stroke-width="1"/><rect x="503.9" y="57.4" width="8.8" height="8.8" fill="#9DC3E6" stroke="#9DC3E6" stroke-width="1"/><rect x="513.6" y="51.8" width="8.8" height="8.8" fill="#9DC3E6" stroke="#9DC3E6" stroke-width="1"/><rect x="523.4" y="45.7" width="8.8" height="8.8" fill="#9DC3E6" stroke="#9DC3E6" stroke-width="1"/><rect x="533.1" y="37.9" width="8.8" height="8.8" fill="#9DC3E6" stroke="#9DC3E6" stroke-width="1"/><rect x="542.9" y="28.5" width="8.8" height="8.8" fill="#9DC3E6" stroke="#9DC3E6" stroke-width="1"/></g>
<path d="M79.3 272L89 270.3L98.8 268.1L108.5 265.5L118.3 262.4L128.1 259.1L137.8 255.8L147.6 252.5L157.3 249.1L167.1 245.9L176.8 242.2L186.6 236.4L196.3 231.7L206.1 227.3L215.8 223.1L225.6 218.9L235.3 214.7L245.1 210.4L254.8 205.4L264.6 199.9L274.3 194.2L284.1 188.5L293.8 183.2L303.6 178L313.3 172.8L323.1 167.3L332.8 161.6L342.6 155.8L352.3 150.2L362.1 145.1L371.8 140L381.6 134.2L391.3 128.4L401.1 123.5L410.8 118.3L420.6 112L430.3 107.1L440.1 102.3L449.8 96.2L459.6 90.1L469.3 84.8L479.1 77.9L488.8 73.2L498.6 65L508.3 58.1L518 58.1L527.8 50.9L537.5 41.1L547.3 33.9" fill="none" stroke="#C55A11" stroke-width="2.5" stroke-linejoin="round" stroke-linecap="round"/>
<g><path d="M74.8 272L83.8 272M79.3 267.5L79.3 276.5" stroke="#C55A11" stroke-width="1.5" fill="none"/><path d="M84.5 270.3L93.5 270.3M89 265.8L89 274.8" stroke="#C55A11" stroke-width="1.5" fill="none"/><path d="M94.3 268.1L103.3 268.1M98.8 263.6L98.8 272.6" stroke="#C55A11" stroke-width="1.5" fill="none"/><path d="M104 265.5L113 265.5M108.5 261L108.5 270" stroke="#C55A11" stroke-width="1.5" fill="none"/><path d="M113.8 262.4L122.8 262.4M118.3 257.9L118.3 266.9" stroke="#C55A11" stroke-width="1.5" fill="none"/><path d="M123.6 259.1L132.6 259.1M128.1 254.6L128.1 263.6" stroke="#C55A11" stroke-width="1.5" fill="none"/><path d="M133.3 255.8L142.3 255.8M137.8 251.3L137.8 260.3" stroke="#C55A11" stroke-width="1.5" fill="none"/><path d="M143.1 252.5L152.1 252.5M147.6 248L147.6 257" stroke="#C55A11" stroke-width="1.5" fill="none"/><path d="M152.8 249.1L161.8 249.1M157.3 244.6L157.3 253.6" stroke="#C55A11" stroke-width="1.5" fill="none"/><path d="M162.6 245.9L171.6 245.9M167.1 241.4L167.1 250.4" stroke="#C55A11" stroke-width="1.5" fill="none"/><path d="M172.3 242.2L181.3 242.2M176.8 237.7L176.8 246.7" stroke="#C55A11" stroke-width="1.5" fill="none"/><path d="M182.1 236.4L191.1 236.4M186.6 231.9L186.6 240.9" stroke="#C55A11" stroke-width="1.5" fill="none"/><path d="M191.8 231.7L200.8 231.7M196.3 227.2L196.3 236.2" stroke="#C55A11" stroke-width="1.5" fill="none"/><path d="M201.6 227.3L210.6 227.3M206.1 222.8L206.1 231.8" stroke="#C55A11" stroke-width="1.5" fill="none"/><path d="M211.3 223.1L220.3 223.1M215.8 218.6L215.8 227.6" stroke="#C55A11" stroke-width="1.5" fill="none"/><path d="M221.1 218.9L230.1 218.9M225.6 214.4L225.6 223.4" stroke="#C55A11" stroke-width="1.5" fill="none"/><path d="M230.8 214.7L239.8 214.7M235.3 210.2L235.3 219.2" stroke="#C55A11" stroke-width="1.5" fill="none"/><path d="M240.6 210.4L249.6 210.4M245.1 205.9L245.1 214.9" stroke="#C55A11" stroke-width="1.5" fill="none"/><path d="M250.3 205.4L259.3 205.4M254.8 200.9L254.8 209.9" stroke="#C55A11" stroke-width="1.5" fill="none"/><path d="M260.1 199.9L269.1 199.9M264.6 195.4L264.6 204.4" stroke="#C55A11" stroke-width="1.5" fill="none"/><path d="M269.8 194.2L278.8 194.2M274.3 189.7L274.3 198.7" stroke="#C55A11" stroke-width="1.5" fill="none"/><path d="M279.6 188.5L288.6 188.5M284.1 184L284.1 193" stroke="#C55A11" stroke-width="1.5" fill="none"/><path d="M289.3 183.2L298.3 183.2M293.8 178.7L293.8 187.7" stroke="#C55A11" stroke-width="1.5" fill="none"/><path d="M299.1 178L308.1 178M303.6 173.5L303.6 182.5" stroke="#C55A11" stroke-width="1.5" fill="none"/><path d="M308.8 172.8L317.8 172.8M313.3 168.3L313.3 177.3" stroke="#C55A11" stroke-width="1.5" fill="none"/><path d="M318.6 167.3L327.6 167.3M323.1 162.8L323.1 171.8" stroke="#C55A11" stroke-width="1.5" fill="none"/><path d="M328.3 161.6L337.3 161.6M332.8 157.1L332.8 166.1" stroke="#C55A11" stroke-width="1.5" fill="none"/><path d="M338.1 155.8L347.1 155.8M342.6 151.3L342.6 160.3" stroke="#C55A11" stroke-width="1.5" fill="none"/><path d="M347.8 150.2L356.8 150.2M352.3 145.7L352.3 154.7" stroke="#C55A11" stroke-width="1.5" fill="none"/><path d="M357.6 145.1L366.6 145.1M362.1 140.6L362.1 149.6" stroke="#C55A11" stroke-width="1.5" fill="none"/><path d="M367.3 140L376.3 140M371.8 135.5L371.8 144.5" stroke="#C55A11" stroke-width="1.5" fill="none"/><path d="M377.1 134.2L386.1 134.2M381.6 129.7L381.6 138.7" stroke="#C55A11" stroke-width="1.5" fill="none"/><path d="M386.8 128.4L395.8 128.4M391.3 123.9L391.3 132.9" stroke="#C55A11" stroke-width="1.5" fill="none"/><path d="M396.6 123.5L405.6 123.5M401.1 119L401.1 128" stroke="#C55A11" stroke-width="1.5" fill="none"/><path d="M406.3 118.3L415.3 118.3M410.8 113.8L410.8 122.8" stroke="#C55A11" stroke-width="1.5" fill="none"/><path d="M416.1 112L425.1 112M420.6 107.5L420.6 116.5" stroke="#C55A11" stroke-width="1.5" fill="none"/><path d="M425.8 107.1L434.8 107.1M430.3 102.6L430.3 111.6" stroke="#C55A11" stroke-width="1.5" fill="none"/><path d="M435.6 102.3L444.6 102.3M440.1 97.8L440.1 106.8" stroke="#C55A11" stroke-width="1.5" fill="none"/><path d="M445.3 96.2L454.3 96.2M449.8 91.7L449.8 100.7" stroke="#C55A11" stroke-width="1.5" fill="none"/><path d="M455.1 90.1L464.1 90.1M459.6 85.6L459.6 94.6" stroke="#C55A11" stroke-width="1.5" fill="none"/><path d="M464.8 84.8L473.8 84.8M469.3 80.3L469.3 89.3" stroke="#C55A11" stroke-width="1.5" fill="none"/><path d="M474.6 77.9L483.6 77.9M479.1 73.4L479.1 82.4" stroke="#C55A11" stroke-width="1.5" fill="none"/><path d="M484.3 73.2L493.3 73.2M488.8 68.7L488.8 77.7" stroke="#C55A11" stroke-width="1.5" fill="none"/><path d="M494.1 65L503.1 65M498.6 60.5L498.6 69.5" stroke="#C55A11" stroke-width="1.5" fill="none"/><path d="M503.8 58.1L512.8 58.1M508.3 53.6L508.3 62.6" stroke="#C55A11" stroke-width="1.5" fill="none"/><path d="M513.5 58.1L522.5 58.1M518 53.6L518 62.6" stroke="#C55A11" stroke-width="1.5" fill="none"/><path d="M523.3 50.9L532.3 50.9M527.8 46.4L527.8 55.4" stroke="#C55A11" stroke-width="1.5" fill="none"/><path d="M533 41.1L542 41.1M537.5 36.6L537.5 45.6" stroke="#C55A11" stroke-width="1.5" fill="none"/><path d="M542.8 33.9L551.8 33.9M547.3 29.4L547.3 38.4" stroke="#C55A11" stroke-width="1.5" fill="none"/></g>
</g>
<path d="M600.6 12.2L644.6 12.2" fill="none" stroke="#ED7D31" stroke-width="3" stroke-linejoin="round" stroke-linecap="round"/>
<circle cx="622.6" cy="12.2" r="2.9" fill="#ED7D31" stroke="#ED7D31" stroke-width="1"/>
<text x="650.8" y="16.5" font-family="'Liberation Sans', sans-serif" font-weight="bold" font-size="15">304.6</text>
<path d="M600.6 32L644.6 32" fill="none" stroke="#00B050" stroke-width="3" stroke-linejoin="round" stroke-linecap="round"/>
<path d="M622.6 28.2L622.6 35.8" stroke="#00B050" stroke-width="1.5" fill="none"/>
<text x="650.8" y="36.3" font-family="'Liberation Sans', sans-serif" font-weight="bold" font-size="15">308.7</text>
<path d="M600.6 51.8L644.6 51.8" fill="none" stroke="#5B9BD5" stroke-width="3" stroke-linejoin="round" stroke-linecap="round"/>
<path d="M619 48.2L626.2 55.4M619 55.4L626.2 48.2" stroke="#5B9BD5" stroke-width="1.5" fill="none"/>
<text x="650.8" y="56.1" font-family="'Liberation Sans', sans-serif" font-weight="bold" font-size="15">310.8</text>
<path d="M600.6 71.6L644.6 71.6" fill="none" stroke="#70AD47" stroke-width="3" stroke-linejoin="round" stroke-linecap="round"/>
<path d="M622.6 67.4L626.9 74.8L618.4 74.8Z" fill="#70AD47" stroke="#70AD47" stroke-width="1"/>
<text x="650.8" y="75.9" font-family="'Liberation Sans', sans-serif" font-weight="bold" font-size="15">312.8</text>
<path d="M600.6 91.4L644.6 91.4" fill="none" stroke="#FFFF00" stroke-width="3" stroke-linejoin="round" stroke-linecap="round"/>
<circle cx="622.6" cy="91.4" r="3.7" fill="none" stroke="#FFFF00" stroke-width="2"/>
<text x="650.8" y="95.7" font-family="'Liberation Sans', sans-serif" font-weight="bold" font-size="15">314.8</text>
<path d="M600.6 111.2L644.6 111.2" fill="none" stroke="#7030A0" stroke-width="3" stroke-linejoin="round" stroke-linecap="round"/>
<rect x="619.1" y="107.7" width="7" height="7" fill="none" stroke="#7030A0" stroke-width="1.7"/>
<text x="650.8" y="115.5" font-family="'Liberation Sans', sans-serif" font-weight="bold" font-size="15">316.8</text>
<path d="M600.6 131L644.6 131" fill="none" stroke="#666666" stroke-width="3" stroke-linejoin="round" stroke-linecap="round"/>
<circle cx="622.6" cy="131" r="3.7" fill="none" stroke="#666666" stroke-width="2"/>
<text x="650.8" y="135.3" font-family="'Liberation Sans', sans-serif" font-weight="bold" font-size="15">318.8</text>
<path d="M600.6 150.8L644.6 150.8" fill="none" stroke="#FF0000" stroke-width="3" stroke-linejoin="round" stroke-linecap="round"/>
<path d="M622.6 146.4L627 150.8L622.6 155.2L618.2 150.8Z" fill="#FF0000" stroke="#FF0000" stroke-width="1"/>
<text x="650.8" y="155.1" font-family="'Liberation Sans', sans-serif" font-weight="bold" font-size="15">320.9</text>
<path d="M600.6 170.6L644.6 170.6" fill="none" stroke="#255E91" stroke-width="3" stroke-linejoin="round" stroke-linecap="round"/>
<path d="M618.9 166.9L626.3 174.3M618.9 174.3L626.3 166.9M622.6 166.9L622.6 174.3" stroke="#255E91" stroke-width="1.6" fill="none"/>
<text x="650.8" y="174.9" font-family="'Liberation Sans', sans-serif" font-weight="bold" font-size="15">322.8</text>
<path d="M600.6 190.4L644.6 190.4" fill="none" stroke="#43682B" stroke-width="3" stroke-linejoin="round" stroke-linecap="round"/>
<text x="650.8" y="194.7" font-family="'Liberation Sans', sans-serif" font-weight="bold" font-size="15">324.8</text>
<path d="M600.6 210.2L644.6 210.2" fill="none" stroke="#A5A5A5" stroke-width="3" stroke-linejoin="round" stroke-linecap="round" stroke-dasharray="1 4"/>
<circle cx="622.6" cy="210.2" r="4.1" fill="#A5A5A5" stroke="#A5A5A5" stroke-width="1"/>
<text x="650.8" y="214.5" font-family="'Liberation Sans', sans-serif" font-weight="bold" font-size="15">330.9</text>
<path d="M600.6 230L644.6 230" fill="none" stroke="#A9D18E" stroke-width="3" stroke-linejoin="round" stroke-linecap="round" stroke-dasharray="6 4"/>
<path d="M619.4 226.8L625.8 233.2M619.4 233.2L625.8 226.8" stroke="#A9D18E" stroke-width="1.5" fill="none"/>
<text x="650.8" y="234.3" font-family="'Liberation Sans', sans-serif" font-weight="bold" font-size="15">336.8</text>
<path d="M600.6 249.8L644.6 249.8" fill="none" stroke="#A9D18E" stroke-width="3" stroke-linejoin="round" stroke-linecap="round"/>
<path d="M622.6 245.7L626.7 249.8L622.6 253.9L618.5 249.8Z" fill="none" stroke="#A9D18E" stroke-width="1.5"/>
<text x="650.8" y="254.1" font-family="'Liberation Sans', sans-serif" font-weight="bold" font-size="15">361</text>
<path d="M600.6 269.6L644.6 269.6" fill="none" stroke="#9DC3E6" stroke-width="3" stroke-linejoin="round" stroke-linecap="round" stroke-dasharray="8 7"/>
<rect x="618.9" y="265.9" width="7.5" height="7.5" fill="#9DC3E6" stroke="#9DC3E6" stroke-width="1"/>
<text x="650.8" y="273.9" font-family="'Liberation Sans', sans-serif" font-weight="bold" font-size="15">382.8</text>
<path d="M600.6 289.4L644.6 289.4" fill="none" stroke="#C55A11" stroke-width="3" stroke-linejoin="round" stroke-linecap="round"/>
<path d="M618.8 289.4L626.4 289.4M622.6 285.6L622.6 293.2" stroke="#C55A11" stroke-width="1.5" fill="none"/>
<text x="650.8" y="293.7" font-family="'Liberation Sans', sans-serif" font-weight="bold" font-size="15">388.9</text>
<text x="656.2" y="318.9" font-family="'Liberation Sans', sans-serif" font-weight="bold" font-size="18">K</text>
<g><rect x="68.8" y="594.9" width="4.2" height="4.2" fill="#000" stroke="#000" stroke-width="0.5"/><rect x="73.2" y="592" width="4.2" height="4.2" fill="#000" stroke="#000" stroke-width="0.5"/><rect x="77.7" y="589.1" width="4.2" height="4.2" fill="#000" stroke="#000" stroke-width="0.5"/><rect x="82.1" y="586.2" width="4.2" height="4.2" fill="#000" stroke="#000" stroke-width="0.5"/><rect x="86.6" y="583.2" width="4.2" height="4.2" fill="#000" stroke="#000" stroke-width="0.5"/><rect x="91" y="581.8" width="4.2" height="4.2" fill="#000" stroke="#000" stroke-width="0.5"/><rect x="95.4" y="577.1" width="4.2" height="4.2" fill="#000" stroke="#000" stroke-width="0.5"/><rect x="99.9" y="573.9" width="4.2" height="4.2" fill="#000" stroke="#000" stroke-width="0.5"/><rect x="104.3" y="570.8" width="4.2" height="4.2" fill="#000" stroke="#000" stroke-width="0.5"/><rect x="108.8" y="567.6" width="4.2" height="4.2" fill="#000" stroke="#000" stroke-width="0.5"/><rect x="113.2" y="564.4" width="4.2" height="4.2" fill="#000" stroke="#000" stroke-width="0.5"/><rect x="117.6" y="561.1" width="4.2" height="4.2" fill="#000" stroke="#000" stroke-width="0.5"/><rect x="122.1" y="557.8" width="4.2" height="4.2" fill="#000" stroke="#000" stroke-width="0.5"/><rect x="126.5" y="554.5" width="4.2" height="4.2" fill="#000" stroke="#000" stroke-width="0.5"/><rect x="131" y="551.1" width="4.2" height="4.2" fill="#000" stroke="#000" stroke-width="0.5"/><rect x="135.4" y="547.6" width="4.2" height="4.2" fill="#000" stroke="#000" stroke-width="0.5"/><rect x="139.8" y="544.1" width="4.2" height="4.2" fill="#000" stroke="#000" stroke-width="0.5"/><rect x="144.3" y="540.5" width="4.2" height="4.2" fill="#000" stroke="#000" stroke-width="0.5"/><rect x="148.7" y="536.7" width="4.2" height="4.2" fill="#000" stroke="#000" stroke-width="0.5"/><rect x="153.2" y="532.9" width="4.2" height="4.2" fill="#000" stroke="#000" stroke-width="0.5"/><rect x="157.6" y="529" width="4.2" height="4.2" fill="#000" stroke="#000" stroke-width="0.5"/><rect x="162" y="525.1" width="4.2" height="4.2" fill="#000" stroke="#000" stroke-width="0.5"/><rect x="166.5" y="521.2" width="4.2" height="4.2" fill="#000" stroke="#000" stroke-width="0.5"/><rect x="170.9" y="517.3" width="4.2" height="4.2" fill="#000" stroke="#000" stroke-width="0.5"/><rect x="175.4" y="513.3" width="4.2" height="4.2" fill="#000" stroke="#000" stroke-width="0.5"/><rect x="179.8" y="509.3" width="4.2" height="4.2" fill="#000" stroke="#000" stroke-width="0.5"/><rect x="184.2" y="505.2" width="4.2" height="4.2" fill="#000" stroke="#000" stroke-width="0.5"/><rect x="188.7" y="501.1" width="4.2" height="4.2" fill="#000" stroke="#000" stroke-width="0.5"/><rect x="193.1" y="497" width="4.2" height="4.2" fill="#000" stroke="#000" stroke-width="0.5"/><rect x="197.6" y="492.9" width="4.2" height="4.2" fill="#000" stroke="#000" stroke-width="0.5"/><rect x="202" y="488.8" width="4.2" height="4.2" fill="#000" stroke="#000" stroke-width="0.5"/><rect x="206.4" y="484.7" width="4.2" height="4.2" fill="#000" stroke="#000" stroke-width="0.5"/><rect x="210.9" y="480.6" width="4.2" height="4.2" fill="#000" stroke="#000" stroke-width="0.5"/><rect x="215.3" y="476.5" width="4.2" height="4.2" fill="#000" stroke="#000" stroke-width="0.5"/><rect x="219.8" y="472.5" width="4.2" height="4.2" fill="#000" stroke="#000" stroke-width="0.5"/><rect x="224.2" y="468.4" width="4.2" height="4.2" fill="#000" stroke="#000" stroke-width="0.5"/><rect x="228.6" y="464.3" width="4.2" height="4.2" fill="#000" stroke="#000" stroke-width="0.5"/><rect x="233.1" y="460.2" width="4.2" height="4.2" fill="#000" stroke="#000" stroke-width="0.5"/><rect x="237.5" y="455.9" width="4.2" height="4.2" fill="#000" stroke="#000" stroke-width="0.5"/><rect x="242" y="451.6" width="4.2" height="4.2" fill="#000" stroke="#000" stroke-width="0.5"/><rect x="246.4" y="447.1" width="4.2" height="4.2" fill="#000" stroke="#000" stroke-width="0.5"/><rect x="250.8" y="442.5" width="4.2" height="4.2" fill="#000" stroke="#000" stroke-width="0.5"/><rect x="255.3" y="437.7" width="4.2" height="4.2" fill="#000" stroke="#000" stroke-width="0.5"/><rect x="259.7" y="432.7" width="4.2" height="4.2" fill="#000" stroke="#000" stroke-width="0.5"/><rect x="264.2" y="427.6" width="4.2" height="4.2" fill="#000" stroke="#000" stroke-width="0.5"/><rect x="268.6" y="422.3" width="4.2" height="4.2" fill="#000" stroke="#000" stroke-width="0.5"/><rect x="273" y="416.9" width="4.2" height="4.2" fill="#000" stroke="#000" stroke-width="0.5"/><rect x="277.5" y="411.3" width="4.2" height="4.2" fill="#000" stroke="#000" stroke-width="0.5"/><rect x="281.9" y="405.7" width="4.2" height="4.2" fill="#000" stroke="#000" stroke-width="0.5"/></g>
<g><circle cx="70.9" cy="597.7" r="2.2" fill="#fff" stroke="#ff0000" stroke-width="0.9"/><circle cx="75.3" cy="594.9" r="2.2" fill="#fff" stroke="#ff0000" stroke-width="0.9"/><circle cx="79.8" cy="592" r="2.2" fill="#fff" stroke="#ff0000" stroke-width="0.9"/><circle cx="84.2" cy="589.1" r="2.2" fill="#fff" stroke="#ff0000" stroke-width="0.9"/><circle cx="88.7" cy="586.1" r="2.2" fill="#fff" stroke="#ff0000" stroke-width="0.9"/><circle cx="93.1" cy="584.5" r="2.2" fill="#fff" stroke="#ff0000" stroke-width="0.9"/><circle cx="97.5" cy="579.9" r="2.2" fill="#fff" stroke="#ff0000" stroke-width="0.9"/><circle cx="102" cy="576.8" r="2.2" fill="#fff" stroke="#ff0000" stroke-width="0.9"/><circle cx="106.4" cy="573.7" r="2.2" fill="#fff" stroke="#ff0000" stroke-width="0.9"/><circle cx="110.9" cy="570.5" r="2.2" fill="#fff" stroke="#ff0000" stroke-width="0.9"/><circle cx="115.3" cy="567.3" r="2.2" fill="#fff" stroke="#ff0000" stroke-width="0.9"/><circle cx="119.7" cy="564" r="2.2" fill="#fff" stroke="#ff0000" stroke-width="0.9"/><circle cx="124.2" cy="560.7" r="2.2" fill="#fff" stroke="#ff0000" stroke-width="0.9"/><circle cx="128.6" cy="557.3" r="2.2" fill="#fff" stroke="#ff0000" stroke-width="0.9"/><circle cx="133.1" cy="553.9" r="2.2" fill="#fff" stroke="#ff0000" stroke-width="0.9"/><circle cx="137.5" cy="550.5" r="2.2" fill="#fff" stroke="#ff0000" stroke-width="0.9"/><circle cx="141.9" cy="547" r="2.2" fill="#fff" stroke="#ff0000" stroke-width="0.9"/><circle cx="146.4" cy="543.3" r="2.2" fill="#fff" stroke="#ff0000" stroke-width="0.9"/><circle cx="150.8" cy="539.6" r="2.2" fill="#fff" stroke="#ff0000" stroke-width="0.9"/><circle cx="155.3" cy="535.8" r="2.2" fill="#fff" stroke="#ff0000" stroke-width="0.9"/><circle cx="159.7" cy="531.9" r="2.2" fill="#fff" stroke="#ff0000" stroke-width="0.9"/><circle cx="164.1" cy="528" r="2.2" fill="#fff" stroke="#ff0000" stroke-width="0.9"/><circle cx="168.6" cy="524.1" r="2.2" fill="#fff" stroke="#ff0000" stroke-width="0.9"/><circle cx="173" cy="520.1" r="2.2" fill="#fff" stroke="#ff0000" stroke-width="0.9"/><circle cx="177.5" cy="516.2" r="2.2" fill="#fff" stroke="#ff0000" stroke-width="0.9"/><circle cx="181.9" cy="512.1" r="2.2" fill="#fff" stroke="#ff0000" stroke-width="0.9"/><circle cx="186.3" cy="508.1" r="2.2" fill="#fff" stroke="#ff0000" stroke-width="0.9"/><circle cx="190.8" cy="504" r="2.2" fill="#fff" stroke="#ff0000" stroke-width="0.9"/><circle cx="195.2" cy="499.9" r="2.2" fill="#fff" stroke="#ff0000" stroke-width="0.9"/><circle cx="199.7" cy="495.8" r="2.2" fill="#fff" stroke="#ff0000" stroke-width="0.9"/><circle cx="204.1" cy="491.7" r="2.2" fill="#fff" stroke="#ff0000" stroke-width="0.9"/><circle cx="208.5" cy="487.5" r="2.2" fill="#fff" stroke="#ff0000" stroke-width="0.9"/><circle cx="213" cy="483.4" r="2.2" fill="#fff" stroke="#ff0000" stroke-width="0.9"/><circle cx="217.4" cy="479.3" r="2.2" fill="#fff" stroke="#ff0000" stroke-width="0.9"/><circle cx="221.9" cy="475.3" r="2.2" fill="#fff" stroke="#ff0000" stroke-width="0.9"/><circle cx="226.3" cy="471.2" r="2.2" fill="#fff" stroke="#ff0000" stroke-width="0.9"/><circle cx="230.7" cy="467.1" r="2.2" fill="#fff" stroke="#ff0000" stroke-width="0.9"/><circle cx="235.2" cy="462.9" r="2.2" fill="#fff" stroke="#ff0000" stroke-width="0.9"/><circle cx="239.6" cy="458.7" r="2.2" fill="#fff" stroke="#ff0000" stroke-width="0.9"/><circle cx="244.1" cy="454.3" r="2.2" fill="#fff" stroke="#ff0000" stroke-width="0.9"/><circle cx="248.5" cy="449.8" r="2.2" fill="#fff" stroke="#ff0000" stroke-width="0.9"/><circle cx="252.9" cy="445.2" r="2.2" fill="#fff" stroke="#ff0000" stroke-width="0.9"/><circle cx="257.4" cy="440.4" r="2.2" fill="#fff" stroke="#ff0000" stroke-width="0.9"/><circle cx="261.8" cy="435.4" r="2.2" fill="#fff" stroke="#ff0000" stroke-width="0.9"/><circle cx="266.3" cy="430.2" r="2.2" fill="#fff" stroke="#ff0000" stroke-width="0.9"/><circle cx="270.7" cy="424.9" r="2.2" fill="#fff" stroke="#ff0000" stroke-width="0.9"/><circle cx="275.1" cy="419.5" r="2.2" fill="#fff" stroke="#ff0000" stroke-width="0.9"/><circle cx="279.6" cy="414" r="2.2" fill="#fff" stroke="#ff0000" stroke-width="0.9"/><circle cx="284" cy="408.4" r="2.2" fill="#fff" stroke="#ff0000" stroke-width="0.9"/></g>
<g><path d="M70.9 587.8L74 593.2L67.8 593.2Z" fill="#0000ff" stroke="#0000ff" stroke-width="0.3"/><path d="M75.3 585L78.4 590.4L72.2 590.4Z" fill="#0000ff" stroke="#0000ff" stroke-width="0.3"/><path d="M79.8 582.1L82.9 587.6L76.7 587.6Z" fill="#0000ff" stroke="#0000ff" stroke-width="0.3"/><path d="M84.2 579.2L87.3 584.7L81.1 584.7Z" fill="#0000ff" stroke="#0000ff" stroke-width="0.3"/><path d="M88.7 576.3L91.8 581.7L85.6 581.7Z" fill="#0000ff" stroke="#0000ff" stroke-width="0.3"/><path d="M93.1 573.3L96.2 578.7L90 578.7Z" fill="#0000ff" stroke="#0000ff" stroke-width="0.3"/><path d="M97.5 570.3L100.6 575.7L94.4 575.7Z" fill="#0000ff" stroke="#0000ff" stroke-width="0.3"/><path d="M102 567.2L105.1 572.7L98.9 572.7Z" fill="#0000ff" stroke="#0000ff" stroke-width="0.3"/><path d="M106.4 564.2L109.5 569.6L103.3 569.6Z" fill="#0000ff" stroke="#0000ff" stroke-width="0.3"/><path d="M110.9 561.1L114 566.5L107.8 566.5Z" fill="#0000ff" stroke="#0000ff" stroke-width="0.3"/><path d="M115.3 557.9L118.4 563.3L112.2 563.3Z" fill="#0000ff" stroke="#0000ff" stroke-width="0.3"/><path d="M119.7 554.7L122.8 560.1L116.6 560.1Z" fill="#0000ff" stroke="#0000ff" stroke-width="0.3"/><path d="M124.2 551.4L127.3 556.9L121.1 556.9Z" fill="#0000ff" stroke="#0000ff" stroke-width="0.3"/><path d="M128.6 548.1L131.7 553.5L125.5 553.5Z" fill="#0000ff" stroke="#0000ff" stroke-width="0.3"/><path d="M133.1 544.7L136.2 550.1L130 550.1Z" fill="#0000ff" stroke="#0000ff" stroke-width="0.3"/><path d="M137.5 541.1L140.6 546.5L134.4 546.5Z" fill="#0000ff" stroke="#0000ff" stroke-width="0.3"/><path d="M141.9 537.4L145 542.8L138.8 542.8Z" fill="#0000ff" stroke="#0000ff" stroke-width="0.3"/><path d="M146.4 533.6L149.5 539.1L143.3 539.1Z" fill="#0000ff" stroke="#0000ff" stroke-width="0.3"/><path d="M150.8 529.8L153.9 535.2L147.7 535.2Z" fill="#0000ff" stroke="#0000ff" stroke-width="0.3"/><path d="M155.3 525.9L158.4 531.3L152.2 531.3Z" fill="#0000ff" stroke="#0000ff" stroke-width="0.3"/><path d="M159.7 522.1L162.8 527.5L156.6 527.5Z" fill="#0000ff" stroke="#0000ff" stroke-width="0.3"/><path d="M164.1 518.3L167.2 523.7L161 523.7Z" fill="#0000ff" stroke="#0000ff" stroke-width="0.3"/><path d="M168.6 514.5L171.7 519.9L165.5 519.9Z" fill="#0000ff" stroke="#0000ff" stroke-width="0.3"/><path d="M173 510.8L176.1 516.3L169.9 516.3Z" fill="#0000ff" stroke="#0000ff" stroke-width="0.3"/><path d="M177.5 507.2L180.6 512.6L174.4 512.6Z" fill="#0000ff" stroke="#0000ff" stroke-width="0.3"/><path d="M181.9 503.6L185 509L178.8 509Z" fill="#0000ff" stroke="#0000ff" stroke-width="0.3"/><path d="M186.3 500L189.4 505.4L183.2 505.4Z" fill="#0000ff" stroke="#0000ff" stroke-width="0.3"/><path d="M190.8 496.4L193.9 501.8L187.7 501.8Z" fill="#0000ff" stroke="#0000ff" stroke-width="0.3"/><path d="M195.2 492.7L198.3 498.1L192.1 498.1Z" fill="#0000ff" stroke="#0000ff" stroke-width="0.3"/><path d="M199.7 489L202.8 494.4L196.6 494.4Z" fill="#0000ff" stroke="#0000ff" stroke-width="0.3"/><path d="M204.1 485.2L207.2 490.7L201 490.7Z" fill="#0000ff" stroke="#0000ff" stroke-width="0.3"/><path d="M208.5 481.4L211.6 486.8L205.4 486.8Z" fill="#0000ff" stroke="#0000ff" stroke-width="0.3"/><path d="M213 477.5L216.1 482.9L209.9 482.9Z" fill="#0000ff" stroke="#0000ff" stroke-width="0.3"/><path d="M217.4 473.6L220.5 479L214.3 479Z" fill="#0000ff" stroke="#0000ff" stroke-width="0.3"/><path d="M221.9 469.6L225 475L218.8 475Z" fill="#0000ff" stroke="#0000ff" stroke-width="0.3"/><path d="M226.3 465.6L229.4 471L223.2 471Z" fill="#0000ff" stroke="#0000ff" stroke-width="0.3"/><path d="M230.7 461.5L233.8 467L227.6 467Z" fill="#0000ff" stroke="#0000ff" stroke-width="0.3"/><path d="M235.2 457.4L238.3 462.8L232.1 462.8Z" fill="#0000ff" stroke="#0000ff" stroke-width="0.3"/><path d="M239.6 453.2L242.7 458.6L236.5 458.6Z" fill="#0000ff" stroke="#0000ff" stroke-width="0.3"/><path d="M244.1 448.8L247.2 454.3L241 454.3Z" fill="#0000ff" stroke="#0000ff" stroke-width="0.3"/><path d="M248.5 444.4L251.6 449.8L245.4 449.8Z" fill="#0000ff" stroke="#0000ff" stroke-width="0.3"/><path d="M252.9 439.8L256 445.2L249.8 445.2Z" fill="#0000ff" stroke="#0000ff" stroke-width="0.3"/><path d="M257.4 435.1L260.5 440.5L254.3 440.5Z" fill="#0000ff" stroke="#0000ff" stroke-width="0.3"/><path d="M261.8 430.1L264.9 435.6L258.7 435.6Z" fill="#0000ff" stroke="#0000ff" stroke-width="0.3"/><path d="M266.3 425L269.4 430.5L263.2 430.5Z" fill="#0000ff" stroke="#0000ff" stroke-width="0.3"/><path d="M270.7 419.8L273.8 425.2L267.6 425.2Z" fill="#0000ff" stroke="#0000ff" stroke-width="0.3"/><path d="M275.1 414.4L278.2 419.9L272 419.9Z" fill="#0000ff" stroke="#0000ff" stroke-width="0.3"/><path d="M279.6 409L282.7 414.4L276.5 414.4Z" fill="#0000ff" stroke="#0000ff" stroke-width="0.3"/><path d="M284 403.4L287.1 408.8L280.9 408.8Z" fill="#0000ff" stroke="#0000ff" stroke-width="0.3"/></g>
<g><path d="M70.9 581.1L74 575.6L67.8 575.6Z" fill="#ff00ff" stroke="#ff00ff" stroke-width="0.3"/><path d="M75.3 578.7L78.4 573.3L72.2 573.3Z" fill="#ff00ff" stroke="#ff00ff" stroke-width="0.3"/><path d="M79.8 576.4L82.9 570.9L76.7 570.9Z" fill="#ff00ff" stroke="#ff00ff" stroke-width="0.3"/><path d="M84.2 573.9L87.3 568.5L81.1 568.5Z" fill="#ff00ff" stroke="#ff00ff" stroke-width="0.3"/><path d="M88.7 571.4L91.8 565.9L85.6 565.9Z" fill="#ff00ff" stroke="#ff00ff" stroke-width="0.3"/><path d="M93.1 568.7L96.2 563.3L90 563.3Z" fill="#ff00ff" stroke="#ff00ff" stroke-width="0.3"/><path d="M97.5 566L100.6 560.6L94.4 560.6Z" fill="#ff00ff" stroke="#ff00ff" stroke-width="0.3"/><path d="M102 563.2L105.1 557.8L98.9 557.8Z" fill="#ff00ff" stroke="#ff00ff" stroke-width="0.3"/><path d="M106.4 560.4L109.5 555L103.3 555Z" fill="#ff00ff" stroke="#ff00ff" stroke-width="0.3"/><path d="M110.9 557.5L114 552.1L107.8 552.1Z" fill="#ff00ff" stroke="#ff00ff" stroke-width="0.3"/><path d="M115.3 554.5L118.4 549.1L112.2 549.1Z" fill="#ff00ff" stroke="#ff00ff" stroke-width="0.3"/><path d="M119.7 551.5L122.8 546.1L116.6 546.1Z" fill="#ff00ff" stroke="#ff00ff" stroke-width="0.3"/><path d="M124.2 548.5L127.3 543.1L121.1 543.1Z" fill="#ff00ff" stroke="#ff00ff" stroke-width="0.3"/><path d="M128.6 545.4L131.7 540L125.5 540Z" fill="#ff00ff" stroke="#ff00ff" stroke-width="0.3"/><path d="M133.1 542.3L136.2 536.9L130 536.9Z" fill="#ff00ff" stroke="#ff00ff" stroke-width="0.3"/><path d="M137.5 539.2L140.6 533.8L134.4 533.8Z" fill="#ff00ff" stroke="#ff00ff" stroke-width="0.3"/><path d="M141.9 536L145 530.6L138.8 530.6Z" fill="#ff00ff" stroke="#ff00ff" stroke-width="0.3"/><path d="M146.4 532.7L149.5 527.3L143.3 527.3Z" fill="#ff00ff" stroke="#ff00ff" stroke-width="0.3"/><path d="M150.8 529.4L153.9 524L147.7 524Z" fill="#ff00ff" stroke="#ff00ff" stroke-width="0.3"/><path d="M155.3 526L158.4 520.6L152.2 520.6Z" fill="#ff00ff" stroke="#ff00ff" stroke-width="0.3"/><path d="M159.7 522.6L162.8 517.2L156.6 517.2Z" fill="#ff00ff" stroke="#ff00ff" stroke-width="0.3"/><path d="M164.1 519L167.2 513.6L161 513.6Z" fill="#ff00ff" stroke="#ff00ff" stroke-width="0.3"/><path d="M168.6 515.4L171.7 510L165.5 510Z" fill="#ff00ff" stroke="#ff00ff" stroke-width="0.3"/><path d="M173 511.6L176.1 506.1L169.9 506.1Z" fill="#ff00ff" stroke="#ff00ff" stroke-width="0.3"/><path d="M177.5 507.6L180.6 502.2L174.4 502.2Z" fill="#ff00ff" stroke="#ff00ff" stroke-width="0.3"/><path d="M181.9 503.6L185 498.2L178.8 498.2Z" fill="#ff00ff" stroke="#ff00ff" stroke-width="0.3"/><path d="M186.3 499.5L189.4 494.1L183.2 494.1Z" fill="#ff00ff" stroke="#ff00ff" stroke-width="0.3"/><path d="M190.8 495.4L193.9 490L187.7 490Z" fill="#ff00ff" stroke="#ff00ff" stroke-width="0.3"/><path d="M195.2 491.3L198.3 485.9L192.1 485.9Z" fill="#ff00ff" stroke="#ff00ff" stroke-width="0.3"/><path d="M199.7 487.3L202.8 481.9L196.6 481.9Z" fill="#ff00ff" stroke="#ff00ff" stroke-width="0.3"/><path d="M204.1 483.3L207.2 477.9L201 477.9Z" fill="#ff00ff" stroke="#ff00ff" stroke-width="0.3"/><path d="M208.5 479.4L211.6 474L205.4 474Z" fill="#ff00ff" stroke="#ff00ff" stroke-width="0.3"/><path d="M213 475.7L216.1 470.2L209.9 470.2Z" fill="#ff00ff" stroke="#ff00ff" stroke-width="0.3"/><path d="M217.4 472.1L220.5 466.6L214.3 466.6Z" fill="#ff00ff" stroke="#ff00ff" stroke-width="0.3"/><path d="M221.9 468.5L225 463.1L218.8 463.1Z" fill="#ff00ff" stroke="#ff00ff" stroke-width="0.3"/><path d="M226.3 465L229.4 459.6L223.2 459.6Z" fill="#ff00ff" stroke="#ff00ff" stroke-width="0.3"/><path d="M230.7 461.5L233.8 456L227.6 456Z" fill="#ff00ff" stroke="#ff00ff" stroke-width="0.3"/><path d="M235.2 457.9L238.3 452.5L232.1 452.5Z" fill="#ff00ff" stroke="#ff00ff" stroke-width="0.3"/><path d="M239.6 454.2L242.7 448.8L236.5 448.8Z" fill="#ff00ff" stroke="#ff00ff" stroke-width="0.3"/><path d="M244.1 450.3L247.2 444.9L241 444.9Z" fill="#ff00ff" stroke="#ff00ff" stroke-width="0.3"/><path d="M248.5 446.2L251.6 440.8L245.4 440.8Z" fill="#ff00ff" stroke="#ff00ff" stroke-width="0.3"/><path d="M252.9 442L256 436.5L249.8 436.5Z" fill="#ff00ff" stroke="#ff00ff" stroke-width="0.3"/><path d="M257.4 437.5L260.5 432.1L254.3 432.1Z" fill="#ff00ff" stroke="#ff00ff" stroke-width="0.3"/><path d="M261.8 432.9L264.9 427.5L258.7 427.5Z" fill="#ff00ff" stroke="#ff00ff" stroke-width="0.3"/><path d="M266.3 428.1L269.4 422.7L263.2 422.7Z" fill="#ff00ff" stroke="#ff00ff" stroke-width="0.3"/><path d="M270.7 423.2L273.8 417.8L267.6 417.8Z" fill="#ff00ff" stroke="#ff00ff" stroke-width="0.3"/><path d="M275.1 418.2L278.2 412.8L272 412.8Z" fill="#ff00ff" stroke="#ff00ff" stroke-width="0.3"/><path d="M279.6 413L282.7 407.6L276.5 407.6Z" fill="#ff00ff" stroke="#ff00ff" stroke-width="0.3"/><path d="M284 407.7L287.1 402.3L280.9 402.3Z" fill="#ff00ff" stroke="#ff00ff" stroke-width="0.3"/></g>
<g><path d="M70.9 466.3L74 469.4L70.9 472.5L67.8 469.4Z" fill="#008000" stroke="#008000" stroke-width="0.3"/><path d="M75.3 465.5L78.4 468.6L75.3 471.7L72.2 468.6Z" fill="#008000" stroke="#008000" stroke-width="0.3"/><path d="M79.8 464.9L82.9 468L79.8 471.1L76.7 468Z" fill="#008000" stroke="#008000" stroke-width="0.3"/><path d="M84.2 464.2L87.3 467.3L84.2 470.4L81.1 467.3Z" fill="#008000" stroke="#008000" stroke-width="0.3"/><path d="M88.7 463.6L91.8 466.7L88.7 469.8L85.6 466.7Z" fill="#008000" stroke="#008000" stroke-width="0.3"/><path d="M93.1 463.1L96.2 466.2L93.1 469.3L90 466.2Z" fill="#008000" stroke="#008000" stroke-width="0.3"/><path d="M97.5 462.6L100.6 465.7L97.5 468.8L94.4 465.7Z" fill="#008000" stroke="#008000" stroke-width="0.3"/><path d="M102 462.2L105.1 465.3L102 468.4L98.9 465.3Z" fill="#008000" stroke="#008000" stroke-width="0.3"/><path d="M106.4 461.8L109.5 464.9L106.4 468L103.3 464.9Z" fill="#008000" stroke="#008000" stroke-width="0.3"/><path d="M110.9 461.6L114 464.7L110.9 467.8L107.8 464.7Z" fill="#008000" stroke="#008000" stroke-width="0.3"/><path d="M115.3 461.3L118.4 464.4L115.3 467.5L112.2 464.4Z" fill="#008000" stroke="#008000" stroke-width="0.3"/><path d="M119.7 461.1L122.8 464.2L119.7 467.3L116.6 464.2Z" fill="#008000" stroke="#008000" stroke-width="0.3"/><path d="M124.2 460.9L127.3 464L124.2 467.1L121.1 464Z" fill="#008000" stroke="#008000" stroke-width="0.3"/><path d="M128.6 460.6L131.7 463.7L128.6 466.8L125.5 463.7Z" fill="#008000" stroke="#008000" stroke-width="0.3"/><path d="M133.1 460.4L136.2 463.5L133.1 466.6L130 463.5Z" fill="#008000" stroke="#008000" stroke-width="0.3"/><path d="M137.5 460L140.6 463.1L137.5 466.2L134.4 463.1Z" fill="#008000" stroke="#008000" stroke-width="0.3"/><path d="M141.9 459.6L145 462.7L141.9 465.8L138.8 462.7Z" fill="#008000" stroke="#008000" stroke-width="0.3"/><path d="M146.4 459.1L149.5 462.2L146.4 465.3L143.3 462.2Z" fill="#008000" stroke="#008000" stroke-width="0.3"/><path d="M150.8 458.4L153.9 461.5L150.8 464.6L147.7 461.5Z" fill="#008000" stroke="#008000" stroke-width="0.3"/><path d="M155.3 457.6L158.4 460.7L155.3 463.8L152.2 460.7Z" fill="#008000" stroke="#008000" stroke-width="0.3"/><path d="M159.7 456.8L162.8 459.9L159.7 463L156.6 459.9Z" fill="#008000" stroke="#008000" stroke-width="0.3"/><path d="M164.1 456L167.2 459.1L164.1 462.2L161 459.1Z" fill="#008000" stroke="#008000" stroke-width="0.3"/><path d="M168.6 455.2L171.7 458.3L168.6 461.4L165.5 458.3Z" fill="#008000" stroke="#008000" stroke-width="0.3"/><path d="M173 454.6L176.1 457.7L173 460.8L169.9 457.7Z" fill="#008000" stroke="#008000" stroke-width="0.3"/><path d="M177.5 454.1L180.6 457.2L177.5 460.3L174.4 457.2Z" fill="#008000" stroke="#008000" stroke-width="0.3"/><path d="M181.9 453.5L185 456.6L181.9 459.7L178.8 456.6Z" fill="#008000" stroke="#008000" stroke-width="0.3"/><path d="M186.3 453L189.4 456.1L186.3 459.2L183.2 456.1Z" fill="#008000" stroke="#008000" stroke-width="0.3"/><path d="M190.8 452.5L193.9 455.6L190.8 458.7L187.7 455.6Z" fill="#008000" stroke="#008000" stroke-width="0.3"/><path d="M195.2 451.9L198.3 455L195.2 458.1L192.1 455Z" fill="#008000" stroke="#008000" stroke-width="0.3"/><path d="M199.7 451.1L202.8 454.2L199.7 457.3L196.6 454.2Z" fill="#008000" stroke="#008000" stroke-width="0.3"/><path d="M204.1 450.3L207.2 453.4L204.1 456.5L201 453.4Z" fill="#008000" stroke="#008000" stroke-width="0.3"/><path d="M208.5 449.4L211.6 452.5L208.5 455.6L205.4 452.5Z" fill="#008000" stroke="#008000" stroke-width="0.3"/><path d="M213 448.3L216.1 451.4L213 454.5L209.9 451.4Z" fill="#008000" stroke="#008000" stroke-width="0.3"/><path d="M217.4 447.1L220.5 450.2L217.4 453.3L214.3 450.2Z" fill="#008000" stroke="#008000" stroke-width="0.3"/><path d="M221.9 445.7L225 448.8L221.9 451.9L218.8 448.8Z" fill="#008000" stroke="#008000" stroke-width="0.3"/><path d="M226.3 443.8L229.4 446.9L226.3 450L223.2 446.9Z" fill="#008000" stroke="#008000" stroke-width="0.3"/><path d="M230.7 441.6L233.8 444.7L230.7 447.8L227.6 444.7Z" fill="#008000" stroke="#008000" stroke-width="0.3"/><path d="M235.2 439.1L238.3 442.2L235.2 445.3L232.1 442.2Z" fill="#008000" stroke="#008000" stroke-width="0.3"/><path d="M239.6 436.5L242.7 439.6L239.6 442.7L236.5 439.6Z" fill="#008000" stroke="#008000" stroke-width="0.3"/><path d="M244.1 433.7L247.2 436.8L244.1 439.9L241 436.8Z" fill="#008000" stroke="#008000" stroke-width="0.3"/><path d="M248.5 430.7L251.6 433.8L248.5 436.9L245.4 433.8Z" fill="#008000" stroke="#008000" stroke-width="0.3"/><path d="M252.9 427.5L256 430.6L252.9 433.7L249.8 430.6Z" fill="#008000" stroke="#008000" stroke-width="0.3"/><path d="M257.4 424.2L260.5 427.3L257.4 430.4L254.3 427.3Z" fill="#008000" stroke="#008000" stroke-width="0.3"/><path d="M261.8 420.8L264.9 423.9L261.8 427L258.7 423.9Z" fill="#008000" stroke="#008000" stroke-width="0.3"/><path d="M266.3 417.4L269.4 420.5L266.3 423.6L263.2 420.5Z" fill="#008000" stroke="#008000" stroke-width="0.3"/><path d="M270.7 413.5L273.8 416.6L270.7 419.7L267.6 416.6Z" fill="#008000" stroke="#008000" stroke-width="0.3"/><path d="M275.1 408.6L278.2 411.7L275.1 414.8L272 411.7Z" fill="#008000" stroke="#008000" stroke-width="0.3"/><path d="M279.6 402.6L282.7 405.7L279.6 408.8L276.5 405.7Z" fill="#008000" stroke="#008000" stroke-width="0.3"/><path d="M284 395.7L287.1 398.8L284 401.9L280.9 398.8Z" fill="#008000" stroke="#008000" stroke-width="0.3"/></g>
<rect x="91" y="581.8" width="4.2" height="4.2" fill="#000" stroke="#000" stroke-width="0.5"/>
<path d="M70.9 595.8L73.6 594.1L76.2 592.4L78.9 590.7L81.6 588.9L84.3 587.1L86.9 585.3L89.6 583.5L92.3 581.7L94.9 579.8L97.6 578L100.3 576.1L103 574.2L105.6 572.3L108.3 570.4L111 568.5L113.6 566.6L116.3 564.6L119 562.7L121.6 560.7L124.3 558.7L127 556.7L129.7 554.6L132.3 552.6L135 550.5L137.7 548.4L140.3 546.3L143 544.2L145.7 542L148.4 539.8L151 537.5L153.7 535.2L156.4 532.9L159 530.6L161.7 528.2L164.4 525.9L167.1 523.5L169.7 521.2L172.4 518.8L175.1 516.4L177.7 514L180.4 511.6L183.1 509.2L185.8 506.7L188.4 504.3L191.1 501.8L193.8 499.4L196.4 496.9L199.1 494.4L201.8 491.9L204.5 489.5L207.1 487L209.8 484.5L212.5 482L215.1 479.5L217.8 477.1L220.5 474.7L223.2 472.2L225.8 469.8L228.5 467.3L231.2 464.8L233.8 462.3L236.5 459.8L239.2 457.2L241.8 454.6L244.5 452L247.2 449.3L249.9 446.5L252.5 443.8L255.2 441L257.9 438.3L260.5 435.5L263.2 432.6L265.9 429.8L268.6 426.9L271.2 424L273.9 421L276.6 418L279.2 415L281.9 412" fill="none" stroke="#ff0000" stroke-width="1.3" stroke-linejoin="round" stroke-linecap="round"/>
<path d="M70.9 588.7L73.6 587L76.2 585.3L78.9 583.6L81.6 581.9L84.3 580.1L86.9 578.4L89.6 576.6L92.3 574.8L94.9 573L97.6 571.1L100.3 569.3L103 567.5L105.6 565.6L108.3 563.8L111 561.9L113.6 560L116.3 558.1L119 556.2L121.6 554.2L124.3 552.2L127 550.2L129.7 548.2L132.3 546.1L135 544L137.7 541.9L140.3 539.6L143 537.4L145.7 535.1L148.4 532.8L151 530.5L153.7 528.2L156.4 525.9L159 523.5L161.7 521.2L164.4 518.9L167.1 516.7L169.7 514.5L172.4 512.3L175.1 510.1L177.7 507.9L180.4 505.7L183.1 503.5L185.8 501.4L188.4 499.2L191.1 497L193.8 494.8L196.4 492.6L199.1 490.4L201.8 488.1L204.5 485.8L207.1 483.5L209.8 481.2L212.5 478.8L215.1 476.5L217.8 474.1L220.5 471.7L223.2 469.4L225.8 466.9L228.5 464.5L231.2 462.1L233.8 459.6L236.5 457.1L239.2 454.5L241.8 451.9L244.5 449.3L247.2 446.6L249.9 443.9L252.5 441.2L255.2 438.5L257.9 435.8L260.5 433L263.2 430.2L265.9 427.4L268.6 424.5L271.2 421.6L273.9 418.7L276.6 415.8L279.2 412.8L281.9 409.8" fill="none" stroke="#ff0000" stroke-width="1.3" stroke-linejoin="round" stroke-linecap="round"/>
<path d="M70.9 575L73.6 573.7L76.2 572.4L78.9 571.1L81.6 569.8L84.3 568.4L86.9 567.1L89.6 565.6L92.3 564.2L94.9 562.7L97.6 561.2L100.3 559.7L103 558.1L105.6 556.6L108.3 555L111 553.3L113.6 551.7L116.3 550L119 548.4L121.6 546.7L124.3 545L127 543.3L129.7 541.6L132.3 539.8L135 538.1L137.7 536.3L140.3 534.5L143 532.7L145.7 530.9L148.4 529.1L151 527.2L153.7 525.3L156.4 523.3L159 521.2L161.7 519.1L164.4 516.9L167.1 514.7L169.7 512.4L172.4 510.1L175.1 507.8L177.7 505.4L180.4 502.9L183.1 500.5L185.8 498L188.4 495.5L191.1 493.1L193.8 490.6L196.4 488.1L199.1 485.7L201.8 483.2L204.5 480.9L207.1 478.5L209.8 476.2L212.5 473.9L215.1 471.7L217.8 469.5L220.5 467.4L223.2 465.3L225.8 463.2L228.5 461L231.2 458.9L233.8 456.7L236.5 454.5L239.2 452.3L241.8 450L244.5 447.6L247.2 445.1L249.9 442.6L252.5 440.1L255.2 437.5L257.9 435L260.5 432.4L263.2 429.8L265.9 427.1L268.6 424.5L271.2 421.7L273.9 419L276.6 416.2L279.2 413.4L281.9 410.6" fill="none" stroke="#ff0000" stroke-width="1.3" stroke-linejoin="round" stroke-linecap="round"/>
<rect x="257.2" y="500.2" width="52.6" height="62.4" fill="#fff" stroke="#222" stroke-width="1"/>
<rect x="267.3" y="505" width="4.2" height="4.2" fill="#000" stroke="#000" stroke-width="0.5"/>
<text x="283" y="510.5" font-family="'Liberation Sans', sans-serif" font-weight="bold" font-size="9.4">304 K</text>
<circle cx="269.4" cy="519.2" r="2.2" fill="#fff" stroke="#ff0000" stroke-width="0.9"/>
<text x="283" y="522.6" font-family="'Liberation Sans', sans-serif" font-weight="bold" font-size="9.4">305 K</text>
<path d="M269.4 528.6L272.2 533.5L266.6 533.5Z" fill="#0000ff" stroke="#0000ff" stroke-width="0.3"/>
<text x="283" y="534.8" font-family="'Liberation Sans', sans-serif" font-weight="bold" font-size="9.4">307 K</text>
<path d="M269.4 546.4L272.2 541.5L266.6 541.5Z" fill="#ff00ff" stroke="#ff00ff" stroke-width="0.3"/>
<text x="283" y="547" font-family="'Liberation Sans', sans-serif" font-weight="bold" font-size="9.4">309 K</text>
<path d="M269.4 552.8L272.3 555.7L269.4 558.6L266.5 555.7Z" fill="#008000" stroke="#008000" stroke-width="0.3"/>
<text x="283" y="559.1" font-family="'Liberation Sans', sans-serif" font-weight="bold" font-size="9.4">311 K</text>
<path d="M385.6 511.7L390.7 511.2L395.7 510.8L400.7 510.3L405.7 509.8L410.7 509.3L415.7 508.8L420.8 508.2L425.8 507.7L430.8 507.2L435.8 506.6L440.8 506.1L445.9 505.5L450.9 504.9L455.9 504.3L460.9 503.6L465.9 503L470.9 502.3L476 501.7L481 501L486 500.3L491 499.7L496 499L501 498.4L506.1 497.8L511.1 497.2L516.1 496.6L521.1 496.2L526.1 495.7L531.1 495.3L536.2 494.7L541.2 494.2L546.2 493.5L551.2 492.6L556.2 491.2L561.3 489.4L566.3 487.9L571.3 486.5L576.3 484.3L581.3 481.6L586.3 479.1L591.4 476.3L596.4 471.5L601.4 466L606.4 459.6L611.4 453.4L616.4 443.4L621.5 430" fill="none" stroke="#000000" stroke-width="0.8" stroke-linejoin="round" stroke-linecap="round"/>
<g><rect x="383.1" y="509.2" width="5" height="5" fill="#000000" stroke="#000000" stroke-width="0.3"/><rect x="388.2" y="508.7" width="5" height="5" fill="#000000" stroke="#000000" stroke-width="0.3"/><rect x="393.2" y="508.3" width="5" height="5" fill="#000000" stroke="#000000" stroke-width="0.3"/><rect x="398.2" y="507.8" width="5" height="5" fill="#000000" stroke="#000000" stroke-width="0.3"/><rect x="403.2" y="507.3" width="5" height="5" fill="#000000" stroke="#000000" stroke-width="0.3"/><rect x="408.2" y="506.8" width="5" height="5" fill="#000000" stroke="#000000" stroke-width="0.3"/><rect x="413.2" y="506.3" width="5" height="5" fill="#000000" stroke="#000000" stroke-width="0.3"/><rect x="418.3" y="505.7" width="5" height="5" fill="#000000" stroke="#000000" stroke-width="0.3"/><rect x="423.3" y="505.2" width="5" height="5" fill="#000000" stroke="#000000" stroke-width="0.3"/><rect x="428.3" y="504.7" width="5" height="5" fill="#000000" stroke="#000000" stroke-width="0.3"/><rect x="433.3" y="504.1" width="5" height="5" fill="#000000" stroke="#000000" stroke-width="0.3"/><rect x="438.3" y="503.6" width="5" height="5" fill="#000000" stroke="#000000" stroke-width="0.3"/><rect x="443.4" y="503" width="5" height="5" fill="#000000" stroke="#000000" stroke-width="0.3"/><rect x="448.4" y="502.4" width="5" height="5" fill="#000000" stroke="#000000" stroke-width="0.3"/><rect x="453.4" y="501.8" width="5" height="5" fill="#000000" stroke="#000000" stroke-width="0.3"/><rect x="458.4" y="501.1" width="5" height="5" fill="#000000" stroke="#000000" stroke-width="0.3"/><rect x="463.4" y="500.5" width="5" height="5" fill="#000000" stroke="#000000" stroke-width="0.3"/><rect x="468.4" y="499.8" width="5" height="5" fill="#000000" stroke="#000000" stroke-width="0.3"/><rect x="473.5" y="499.2" width="5" height="5" fill="#000000" stroke="#000000" stroke-width="0.3"/><rect x="478.5" y="498.5" width="5" height="5" fill="#000000" stroke="#000000" stroke-width="0.3"/><rect x="483.5" y="497.8" width="5" height="5" fill="#000000" stroke="#000000" stroke-width="0.3"/><rect x="488.5" y="497.2" width="5" height="5" fill="#000000" stroke="#000000" stroke-width="0.3"/><rect x="493.5" y="496.5" width="5" height="5" fill="#000000" stroke="#000000" stroke-width="0.3"/><rect x="498.5" y="495.9" width="5" height="5" fill="#000000" stroke="#000000" stroke-width="0.3"/><rect x="503.6" y="495.3" width="5" height="5" fill="#000000" stroke="#000000" stroke-width="0.3"/><rect x="508.6" y="494.7" width="5" height="5" fill="#000000" stroke="#000000" stroke-width="0.3"/><rect x="513.6" y="494.1" width="5" height="5" fill="#000000" stroke="#000000" stroke-width="0.3"/><rect x="518.6" y="493.7" width="5" height="5" fill="#000000" stroke="#000000" stroke-width="0.3"/><rect x="523.6" y="493.2" width="5" height="5" fill="#000000" stroke="#000000" stroke-width="0.3"/><rect x="528.6" y="492.8" width="5" height="5" fill="#000000" stroke="#000000" stroke-width="0.3"/><rect x="533.7" y="492.2" width="5" height="5" fill="#000000" stroke="#000000" stroke-width="0.3"/><rect x="538.7" y="491.7" width="5" height="5" fill="#000000" stroke="#000000" stroke-width="0.3"/><rect x="543.7" y="491" width="5" height="5" fill="#000000" stroke="#000000" stroke-width="0.3"/><rect x="548.7" y="490.1" width="5" height="5" fill="#000000" stroke="#000000" stroke-width="0.3"/><rect x="553.7" y="488.7" width="5" height="5" fill="#000000" stroke="#000000" stroke-width="0.3"/><rect x="558.8" y="486.9" width="5" height="5" fill="#000000" stroke="#000000" stroke-width="0.3"/><rect x="563.8" y="485.4" width="5" height="5" fill="#000000" stroke="#000000" stroke-width="0.3"/><rect x="568.8" y="484" width="5" height="5" fill="#000000" stroke="#000000" stroke-width="0.3"/><rect x="573.8" y="481.8" width="5" height="5" fill="#000000" stroke="#000000" stroke-width="0.3"/><rect x="578.8" y="479.1" width="5" height="5" fill="#000000" stroke="#000000" stroke-width="0.3"/><rect x="583.8" y="476.6" width="5" height="5" fill="#000000" stroke="#000000" stroke-width="0.3"/><rect x="588.9" y="473.8" width="5" height="5" fill="#000000" stroke="#000000" stroke-width="0.3"/><rect x="593.9" y="469" width="5" height="5" fill="#000000" stroke="#000000" stroke-width="0.3"/><rect x="598.9" y="463.5" width="5" height="5" fill="#000000" stroke="#000000" stroke-width="0.3"/><rect x="603.9" y="457.1" width="5" height="5" fill="#000000" stroke="#000000" stroke-width="0.3"/><rect x="608.9" y="450.9" width="5" height="5" fill="#000000" stroke="#000000" stroke-width="0.3"/><rect x="613.9" y="440.9" width="5" height="5" fill="#000000" stroke="#000000" stroke-width="0.3"/><rect x="619" y="427.5" width="5" height="5" fill="#000000" stroke="#000000" stroke-width="0.3"/></g>
<path d="M385.6 472.2L390.7 471.9L395.7 471.7L400.7 471.5L405.7 471.3L410.7 471.1L415.7 470.8L420.8 470.6L425.8 470.4L430.8 470.2L435.8 470L440.8 469.7L445.9 469.5L450.9 469.3L455.9 469.1L460.9 468.9L465.9 468.7L470.9 468.5L476 468.2L481 468L486 467.8L491 467.6L496 467.4L501 467.2L506.1 466.9L511.1 466.7L516.1 466.4L521.1 466.2L526.1 466L531.1 465.7L536.2 465.4L541.2 465.1L546.2 464.8L551.2 464.4L556.2 463.8L561.3 463L566.3 462L571.3 460.8L576.3 459.1L581.3 457.1L586.3 455.7L591.4 454.3L596.4 452L601.4 449.8L606.4 444.4L611.4 437.3L616.4 429.8L621.5 418.3" fill="none" stroke="#ff0000" stroke-width="0.8" stroke-linejoin="round" stroke-linecap="round"/>
<g><circle cx="385.6" cy="472.2" r="2.7" fill="#ff0000" stroke="#ff0000" stroke-width="0.3"/><circle cx="390.7" cy="471.9" r="2.7" fill="#ff0000" stroke="#ff0000" stroke-width="0.3"/><circle cx="395.7" cy="471.7" r="2.7" fill="#ff0000" stroke="#ff0000" stroke-width="0.3"/><circle cx="400.7" cy="471.5" r="2.7" fill="#ff0000" stroke="#ff0000" stroke-width="0.3"/><circle cx="405.7" cy="471.3" r="2.7" fill="#ff0000" stroke="#ff0000" stroke-width="0.3"/><circle cx="410.7" cy="471.1" r="2.7" fill="#ff0000" stroke="#ff0000" stroke-width="0.3"/><circle cx="415.7" cy="470.8" r="2.7" fill="#ff0000" stroke="#ff0000" stroke-width="0.3"/><circle cx="420.8" cy="470.6" r="2.7" fill="#ff0000" stroke="#ff0000" stroke-width="0.3"/><circle cx="425.8" cy="470.4" r="2.7" fill="#ff0000" stroke="#ff0000" stroke-width="0.3"/><circle cx="430.8" cy="470.2" r="2.7" fill="#ff0000" stroke="#ff0000" stroke-width="0.3"/><circle cx="435.8" cy="470" r="2.7" fill="#ff0000" stroke="#ff0000" stroke-width="0.3"/><circle cx="440.8" cy="469.7" r="2.7" fill="#ff0000" stroke="#ff0000" stroke-width="0.3"/><circle cx="445.9" cy="469.5" r="2.7" fill="#ff0000" stroke="#ff0000" stroke-width="0.3"/><circle cx="450.9" cy="469.3" r="2.7" fill="#ff0000" stroke="#ff0000" stroke-width="0.3"/><circle cx="455.9" cy="469.1" r="2.7" fill="#ff0000" stroke="#ff0000" stroke-width="0.3"/><circle cx="460.9" cy="468.9" r="2.7" fill="#ff0000" stroke="#ff0000" stroke-width="0.3"/><circle cx="465.9" cy="468.7" r="2.7" fill="#ff0000" stroke="#ff0000" stroke-width="0.3"/><circle cx="470.9" cy="468.5" r="2.7" fill="#ff0000" stroke="#ff0000" stroke-width="0.3"/><circle cx="476" cy="468.2" r="2.7" fill="#ff0000" stroke="#ff0000" stroke-width="0.3"/><circle cx="481" cy="468" r="2.7" fill="#ff0000" stroke="#ff0000" stroke-width="0.3"/><circle cx="486" cy="467.8" r="2.7" fill="#ff0000" stroke="#ff0000" stroke-width="0.3"/><circle cx="491" cy="467.6" r="2.7" fill="#ff0000" stroke="#ff0000" stroke-width="0.3"/><circle cx="496" cy="467.4" r="2.7" fill="#ff0000" stroke="#ff0000" stroke-width="0.3"/><circle cx="501" cy="467.2" r="2.7" fill="#ff0000" stroke="#ff0000" stroke-width="0.3"/><circle cx="506.1" cy="466.9" r="2.7" fill="#ff0000" stroke="#ff0000" stroke-width="0.3"/><circle cx="511.1" cy="466.7" r="2.7" fill="#ff0000" stroke="#ff0000" stroke-width="0.3"/><circle cx="516.1" cy="466.4" r="2.7" fill="#ff0000" stroke="#ff0000" stroke-width="0.3"/><circle cx="521.1" cy="466.2" r="2.7" fill="#ff0000" stroke="#ff0000" stroke-width="0.3"/><circle cx="526.1" cy="466" r="2.7" fill="#ff0000" stroke="#ff0000" stroke-width="0.3"/><circle cx="531.1" cy="465.7" r="2.7" fill="#ff0000" stroke="#ff0000" stroke-width="0.3"/><circle cx="536.2" cy="465.4" r="2.7" fill="#ff0000" stroke="#ff0000" stroke-width="0.3"/><circle cx="541.2" cy="465.1" r="2.7" fill="#ff0000" stroke="#ff0000" stroke-width="0.3"/><circle cx="546.2" cy="464.8" r="2.7" fill="#ff0000" stroke="#ff0000" stroke-width="0.3"/><circle cx="551.2" cy="464.4" r="2.7" fill="#ff0000" stroke="#ff0000" stroke-width="0.3"/><circle cx="556.2" cy="463.8" r="2.7" fill="#ff0000" stroke="#ff0000" stroke-width="0.3"/><circle cx="561.3" cy="463" r="2.7" fill="#ff0000" stroke="#ff0000" stroke-width="0.3"/><circle cx="566.3" cy="462" r="2.7" fill="#ff0000" stroke="#ff0000" stroke-width="0.3"/><circle cx="571.3" cy="460.8" r="2.7" fill="#ff0000" stroke="#ff0000" stroke-width="0.3"/><circle cx="576.3" cy="459.1" r="2.7" fill="#ff0000" stroke="#ff0000" stroke-width="0.3"/><circle cx="581.3" cy="457.1" r="2.7" fill="#ff0000" stroke="#ff0000" stroke-width="0.3"/><circle cx="586.3" cy="455.7" r="2.7" fill="#ff0000" stroke="#ff0000" stroke-width="0.3"/><circle cx="591.4" cy="454.3" r="2.7" fill="#ff0000" stroke="#ff0000" stroke-width="0.3"/><circle cx="596.4" cy="452" r="2.7" fill="#ff0000" stroke="#ff0000" stroke-width="0.3"/><circle cx="601.4" cy="449.8" r="2.7" fill="#ff0000" stroke="#ff0000" stroke-width="0.3"/><circle cx="606.4" cy="444.4" r="2.7" fill="#ff0000" stroke="#ff0000" stroke-width="0.3"/><circle cx="611.4" cy="437.3" r="2.7" fill="#ff0000" stroke="#ff0000" stroke-width="0.3"/><circle cx="616.4" cy="429.8" r="2.7" fill="#ff0000" stroke="#ff0000" stroke-width="0.3"/><circle cx="621.5" cy="418.3" r="2.7" fill="#ff0000" stroke="#ff0000" stroke-width="0.3"/></g>
<path d="M385.6 459.4L390.7 459.5L395.7 459.6L400.7 459.7L405.7 459.8L410.7 459.9L415.7 460L420.8 460.1L425.8 460.1L430.8 460.2L435.8 460.3L440.8 460.4L445.9 460.5L450.9 460.5L455.9 460.6L460.9 460.7L465.9 460.8L470.9 460.9L476 460.9L481 461L486 461.1L491 461.2L496 461.2L501 461.3L506.1 461.3L511.1 461.3L516.1 461.3L521.1 461.3L526.1 461.3L531.1 461.2L536.2 461.2L541.2 461.1L546.2 461L551.2 460.9L556.2 460.4L561.3 459.5L566.3 458.6L571.3 457.7L576.3 456.6L581.3 455.4L586.3 453.8L591.4 451.7L596.4 449.1L601.4 445.4L606.4 441.7L611.4 435.6L616.4 427.2L621.5 416.1" fill="none" stroke="#0000ff" stroke-width="0.8" stroke-linejoin="round" stroke-linecap="round"/>
<g><path d="M385.6 456.1L388.9 461.9L382.3 461.9Z" fill="#0000ff" stroke="#0000ff" stroke-width="0.3"/><path d="M390.7 456.2L394 462L387.4 462Z" fill="#0000ff" stroke="#0000ff" stroke-width="0.3"/><path d="M395.7 456.3L399 462.1L392.4 462.1Z" fill="#0000ff" stroke="#0000ff" stroke-width="0.3"/><path d="M400.7 456.4L404 462.2L397.4 462.2Z" fill="#0000ff" stroke="#0000ff" stroke-width="0.3"/><path d="M405.7 456.5L409 462.3L402.4 462.3Z" fill="#0000ff" stroke="#0000ff" stroke-width="0.3"/><path d="M410.7 456.6L414 462.4L407.4 462.4Z" fill="#0000ff" stroke="#0000ff" stroke-width="0.3"/><path d="M415.7 456.7L419 462.4L412.4 462.4Z" fill="#0000ff" stroke="#0000ff" stroke-width="0.3"/><path d="M420.8 456.8L424.1 462.5L417.5 462.5Z" fill="#0000ff" stroke="#0000ff" stroke-width="0.3"/><path d="M425.8 456.8L429.1 462.6L422.5 462.6Z" fill="#0000ff" stroke="#0000ff" stroke-width="0.3"/><path d="M430.8 456.9L434.1 462.7L427.5 462.7Z" fill="#0000ff" stroke="#0000ff" stroke-width="0.3"/><path d="M435.8 457L439.1 462.8L432.5 462.8Z" fill="#0000ff" stroke="#0000ff" stroke-width="0.3"/><path d="M440.8 457.1L444.1 462.9L437.5 462.9Z" fill="#0000ff" stroke="#0000ff" stroke-width="0.3"/><path d="M445.9 457.2L449.2 462.9L442.6 462.9Z" fill="#0000ff" stroke="#0000ff" stroke-width="0.3"/><path d="M450.9 457.2L454.2 463L447.6 463Z" fill="#0000ff" stroke="#0000ff" stroke-width="0.3"/><path d="M455.9 457.3L459.2 463.1L452.6 463.1Z" fill="#0000ff" stroke="#0000ff" stroke-width="0.3"/><path d="M460.9 457.4L464.2 463.2L457.6 463.2Z" fill="#0000ff" stroke="#0000ff" stroke-width="0.3"/><path d="M465.9 457.5L469.2 463.3L462.6 463.3Z" fill="#0000ff" stroke="#0000ff" stroke-width="0.3"/><path d="M470.9 457.6L474.2 463.3L467.6 463.3Z" fill="#0000ff" stroke="#0000ff" stroke-width="0.3"/><path d="M476 457.6L479.3 463.4L472.7 463.4Z" fill="#0000ff" stroke="#0000ff" stroke-width="0.3"/><path d="M481 457.7L484.3 463.5L477.7 463.5Z" fill="#0000ff" stroke="#0000ff" stroke-width="0.3"/><path d="M486 457.8L489.3 463.6L482.7 463.6Z" fill="#0000ff" stroke="#0000ff" stroke-width="0.3"/><path d="M491 457.9L494.3 463.6L487.7 463.6Z" fill="#0000ff" stroke="#0000ff" stroke-width="0.3"/><path d="M496 457.9L499.3 463.7L492.7 463.7Z" fill="#0000ff" stroke="#0000ff" stroke-width="0.3"/><path d="M501 458L504.3 463.7L497.7 463.7Z" fill="#0000ff" stroke="#0000ff" stroke-width="0.3"/><path d="M506.1 458L509.4 463.8L502.8 463.8Z" fill="#0000ff" stroke="#0000ff" stroke-width="0.3"/><path d="M511.1 458L514.4 463.8L507.8 463.8Z" fill="#0000ff" stroke="#0000ff" stroke-width="0.3"/><path d="M516.1 458L519.4 463.8L512.8 463.8Z" fill="#0000ff" stroke="#0000ff" stroke-width="0.3"/><path d="M521.1 458L524.4 463.8L517.8 463.8Z" fill="#0000ff" stroke="#0000ff" stroke-width="0.3"/><path d="M526.1 458L529.4 463.7L522.8 463.7Z" fill="#0000ff" stroke="#0000ff" stroke-width="0.3"/><path d="M531.1 457.9L534.4 463.7L527.8 463.7Z" fill="#0000ff" stroke="#0000ff" stroke-width="0.3"/><path d="M536.2 457.9L539.5 463.6L532.9 463.6Z" fill="#0000ff" stroke="#0000ff" stroke-width="0.3"/><path d="M541.2 457.8L544.5 463.6L537.9 463.6Z" fill="#0000ff" stroke="#0000ff" stroke-width="0.3"/><path d="M546.2 457.7L549.5 463.5L542.9 463.5Z" fill="#0000ff" stroke="#0000ff" stroke-width="0.3"/><path d="M551.2 457.6L554.5 463.4L547.9 463.4Z" fill="#0000ff" stroke="#0000ff" stroke-width="0.3"/><path d="M556.2 457.1L559.5 462.9L552.9 462.9Z" fill="#0000ff" stroke="#0000ff" stroke-width="0.3"/><path d="M561.3 456.2L564.6 462L558 462Z" fill="#0000ff" stroke="#0000ff" stroke-width="0.3"/><path d="M566.3 455.3L569.6 461.1L563 461.1Z" fill="#0000ff" stroke="#0000ff" stroke-width="0.3"/><path d="M571.3 454.4L574.6 460.1L568 460.1Z" fill="#0000ff" stroke="#0000ff" stroke-width="0.3"/><path d="M576.3 453.3L579.6 459.1L573 459.1Z" fill="#0000ff" stroke="#0000ff" stroke-width="0.3"/><path d="M581.3 452.1L584.6 457.9L578 457.9Z" fill="#0000ff" stroke="#0000ff" stroke-width="0.3"/><path d="M586.3 450.5L589.6 456.2L583 456.2Z" fill="#0000ff" stroke="#0000ff" stroke-width="0.3"/><path d="M591.4 448.4L594.7 454.2L588.1 454.2Z" fill="#0000ff" stroke="#0000ff" stroke-width="0.3"/><path d="M596.4 445.8L599.7 451.6L593.1 451.6Z" fill="#0000ff" stroke="#0000ff" stroke-width="0.3"/><path d="M601.4 442.1L604.7 447.9L598.1 447.9Z" fill="#0000ff" stroke="#0000ff" stroke-width="0.3"/><path d="M606.4 438.4L609.7 444.1L603.1 444.1Z" fill="#0000ff" stroke="#0000ff" stroke-width="0.3"/><path d="M611.4 432.3L614.7 438.1L608.1 438.1Z" fill="#0000ff" stroke="#0000ff" stroke-width="0.3"/><path d="M616.4 423.9L619.7 429.7L613.1 429.7Z" fill="#0000ff" stroke="#0000ff" stroke-width="0.3"/><path d="M621.5 412.8L624.8 418.6L618.2 418.6Z" fill="#0000ff" stroke="#0000ff" stroke-width="0.3"/></g>
<path d="M385.6 501.3L390.7 501.8L395.7 502.2L400.7 502.7L405.7 503.2L410.7 503.7L415.7 504.3L420.8 504.8L425.8 505.3L430.8 505.8L435.8 506.4L440.8 506.9L445.9 507.5L450.9 508.1L455.9 508.6L460.9 509.2L465.9 509.8L470.9 510.4L476 511L481 511.6L486 512.3L491 512.9L496 513.6L501 514.2L506.1 514.9L511.1 515.8L516.1 516L521.1 515.6L526.1 515L531.1 514.4L536.2 513.7L541.2 512.8L546.2 511.6L551.2 510L556.2 508.2L561.3 505.9L566.3 503L571.3 499.2L576.3 494.9L581.3 490.1L586.3 485.6L591.4 481L596.4 475.1L601.4 468.2L606.4 461.4L611.4 453.9L616.4 443L621.5 429.6" fill="none" stroke="#ff00ff" stroke-width="0.8" stroke-linejoin="round" stroke-linecap="round"/>
<g><path d="M385.6 504.6L388.9 498.8L382.3 498.8Z" fill="#ff00ff" stroke="#ff00ff" stroke-width="0.3"/><path d="M390.7 505.1L394 499.3L387.4 499.3Z" fill="#ff00ff" stroke="#ff00ff" stroke-width="0.3"/><path d="M395.7 505.5L399 499.8L392.4 499.8Z" fill="#ff00ff" stroke="#ff00ff" stroke-width="0.3"/><path d="M400.7 506L404 500.3L397.4 500.3Z" fill="#ff00ff" stroke="#ff00ff" stroke-width="0.3"/><path d="M405.7 506.5L409 500.8L402.4 500.8Z" fill="#ff00ff" stroke="#ff00ff" stroke-width="0.3"/><path d="M410.7 507L414 501.3L407.4 501.3Z" fill="#ff00ff" stroke="#ff00ff" stroke-width="0.3"/><path d="M415.7 507.6L419 501.8L412.4 501.8Z" fill="#ff00ff" stroke="#ff00ff" stroke-width="0.3"/><path d="M420.8 508.1L424.1 502.3L417.5 502.3Z" fill="#ff00ff" stroke="#ff00ff" stroke-width="0.3"/><path d="M425.8 508.6L429.1 502.8L422.5 502.8Z" fill="#ff00ff" stroke="#ff00ff" stroke-width="0.3"/><path d="M430.8 509.1L434.1 503.4L427.5 503.4Z" fill="#ff00ff" stroke="#ff00ff" stroke-width="0.3"/><path d="M435.8 509.7L439.1 503.9L432.5 503.9Z" fill="#ff00ff" stroke="#ff00ff" stroke-width="0.3"/><path d="M440.8 510.2L444.1 504.5L437.5 504.5Z" fill="#ff00ff" stroke="#ff00ff" stroke-width="0.3"/><path d="M445.9 510.8L449.2 505L442.6 505Z" fill="#ff00ff" stroke="#ff00ff" stroke-width="0.3"/><path d="M450.9 511.4L454.2 505.6L447.6 505.6Z" fill="#ff00ff" stroke="#ff00ff" stroke-width="0.3"/><path d="M455.9 511.9L459.2 506.2L452.6 506.2Z" fill="#ff00ff" stroke="#ff00ff" stroke-width="0.3"/><path d="M460.9 512.5L464.2 506.8L457.6 506.8Z" fill="#ff00ff" stroke="#ff00ff" stroke-width="0.3"/><path d="M465.9 513.1L469.2 507.3L462.6 507.3Z" fill="#ff00ff" stroke="#ff00ff" stroke-width="0.3"/><path d="M470.9 513.7L474.2 507.9L467.6 507.9Z" fill="#ff00ff" stroke="#ff00ff" stroke-width="0.3"/><path d="M476 514.3L479.3 508.6L472.7 508.6Z" fill="#ff00ff" stroke="#ff00ff" stroke-width="0.3"/><path d="M481 514.9L484.3 509.2L477.7 509.2Z" fill="#ff00ff" stroke="#ff00ff" stroke-width="0.3"/><path d="M486 515.6L489.3 509.8L482.7 509.8Z" fill="#ff00ff" stroke="#ff00ff" stroke-width="0.3"/><path d="M491 516.2L494.3 510.4L487.7 510.4Z" fill="#ff00ff" stroke="#ff00ff" stroke-width="0.3"/><path d="M496 516.9L499.3 511.1L492.7 511.1Z" fill="#ff00ff" stroke="#ff00ff" stroke-width="0.3"/><path d="M501 517.5L504.3 511.7L497.7 511.7Z" fill="#ff00ff" stroke="#ff00ff" stroke-width="0.3"/><path d="M506.1 518.2L509.4 512.4L502.8 512.4Z" fill="#ff00ff" stroke="#ff00ff" stroke-width="0.3"/><path d="M511.1 519.1L514.4 513.3L507.8 513.3Z" fill="#ff00ff" stroke="#ff00ff" stroke-width="0.3"/><path d="M516.1 519.3L519.4 513.5L512.8 513.5Z" fill="#ff00ff" stroke="#ff00ff" stroke-width="0.3"/><path d="M521.1 518.9L524.4 513.1L517.8 513.1Z" fill="#ff00ff" stroke="#ff00ff" stroke-width="0.3"/><path d="M526.1 518.3L529.4 512.5L522.8 512.5Z" fill="#ff00ff" stroke="#ff00ff" stroke-width="0.3"/><path d="M531.1 517.7L534.4 511.9L527.8 511.9Z" fill="#ff00ff" stroke="#ff00ff" stroke-width="0.3"/><path d="M536.2 517L539.5 511.2L532.9 511.2Z" fill="#ff00ff" stroke="#ff00ff" stroke-width="0.3"/><path d="M541.2 516.1L544.5 510.3L537.9 510.3Z" fill="#ff00ff" stroke="#ff00ff" stroke-width="0.3"/><path d="M546.2 514.9L549.5 509.1L542.9 509.1Z" fill="#ff00ff" stroke="#ff00ff" stroke-width="0.3"/><path d="M551.2 513.3L554.5 507.6L547.9 507.6Z" fill="#ff00ff" stroke="#ff00ff" stroke-width="0.3"/><path d="M556.2 511.5L559.5 505.7L552.9 505.7Z" fill="#ff00ff" stroke="#ff00ff" stroke-width="0.3"/><path d="M561.3 509.2L564.6 503.4L558 503.4Z" fill="#ff00ff" stroke="#ff00ff" stroke-width="0.3"/><path d="M566.3 506.3L569.6 500.5L563 500.5Z" fill="#ff00ff" stroke="#ff00ff" stroke-width="0.3"/><path d="M571.3 502.5L574.6 496.7L568 496.7Z" fill="#ff00ff" stroke="#ff00ff" stroke-width="0.3"/><path d="M576.3 498.2L579.6 492.4L573 492.4Z" fill="#ff00ff" stroke="#ff00ff" stroke-width="0.3"/><path d="M581.3 493.4L584.6 487.6L578 487.6Z" fill="#ff00ff" stroke="#ff00ff" stroke-width="0.3"/><path d="M586.3 488.9L589.6 483.1L583 483.1Z" fill="#ff00ff" stroke="#ff00ff" stroke-width="0.3"/><path d="M591.4 484.3L594.7 478.5L588.1 478.5Z" fill="#ff00ff" stroke="#ff00ff" stroke-width="0.3"/><path d="M596.4 478.4L599.7 472.7L593.1 472.7Z" fill="#ff00ff" stroke="#ff00ff" stroke-width="0.3"/><path d="M601.4 471.5L604.7 465.7L598.1 465.7Z" fill="#ff00ff" stroke="#ff00ff" stroke-width="0.3"/><path d="M606.4 464.7L609.7 458.9L603.1 458.9Z" fill="#ff00ff" stroke="#ff00ff" stroke-width="0.3"/><path d="M611.4 457.2L614.7 451.4L608.1 451.4Z" fill="#ff00ff" stroke="#ff00ff" stroke-width="0.3"/><path d="M616.4 446.3L619.7 440.5L613.1 440.5Z" fill="#ff00ff" stroke="#ff00ff" stroke-width="0.3"/><path d="M621.5 432.9L624.8 427.1L618.2 427.1Z" fill="#ff00ff" stroke="#ff00ff" stroke-width="0.3"/></g>
<path d="M385.6 591.2L390.7 592.3L395.7 593.3L400.7 594.4L405.7 595.3L410.7 596.3L415.7 597.2L420.8 598.1L425.8 598.9L430.8 599.7L435.8 600.4L440.8 601.1L445.9 601.8L450.9 602.5L455.9 603.2L460.9 604L465.9 604.6L470.9 605.2L476 605.8L481 606.2L486 606.4L491 606.4L496 605.9L501 605.1L506.1 604L511.1 602.1L516.1 599.7L521.1 597.1L526.1 594.1L531.1 590L536.2 584.4L541.2 578.4L546.2 571.8L551.2 565L556.2 558.9L561.3 552.8L566.3 545.6L571.3 537.6L576.3 529.6L581.3 521.7L586.3 513.7L591.4 505.8L596.4 498.3L601.4 489.6L606.4 480.7L611.4 471L616.4 458.7L621.5 443.9" fill="none" stroke="#008000" stroke-width="0.8" stroke-linejoin="round" stroke-linecap="round"/>
<g><path d="M385.6 587.7L389.1 591.2L385.6 594.7L382.1 591.2Z" fill="#008000" stroke="#008000" stroke-width="0.3"/><path d="M390.7 588.8L394.2 592.3L390.7 595.8L387.2 592.3Z" fill="#008000" stroke="#008000" stroke-width="0.3"/><path d="M395.7 589.8L399.2 593.3L395.7 596.8L392.2 593.3Z" fill="#008000" stroke="#008000" stroke-width="0.3"/><path d="M400.7 590.9L404.2 594.4L400.7 597.9L397.2 594.4Z" fill="#008000" stroke="#008000" stroke-width="0.3"/><path d="M405.7 591.8L409.2 595.3L405.7 598.8L402.2 595.3Z" fill="#008000" stroke="#008000" stroke-width="0.3"/><path d="M410.7 592.8L414.2 596.3L410.7 599.8L407.2 596.3Z" fill="#008000" stroke="#008000" stroke-width="0.3"/><path d="M415.7 593.7L419.2 597.2L415.7 600.7L412.2 597.2Z" fill="#008000" stroke="#008000" stroke-width="0.3"/><path d="M420.8 594.6L424.3 598.1L420.8 601.6L417.3 598.1Z" fill="#008000" stroke="#008000" stroke-width="0.3"/><path d="M425.8 595.4L429.3 598.9L425.8 602.4L422.3 598.9Z" fill="#008000" stroke="#008000" stroke-width="0.3"/><path d="M430.8 596.2L434.3 599.7L430.8 603.2L427.3 599.7Z" fill="#008000" stroke="#008000" stroke-width="0.3"/><path d="M435.8 596.9L439.3 600.4L435.8 603.9L432.3 600.4Z" fill="#008000" stroke="#008000" stroke-width="0.3"/><path d="M440.8 597.6L444.3 601.1L440.8 604.6L437.3 601.1Z" fill="#008000" stroke="#008000" stroke-width="0.3"/><path d="M445.9 598.3L449.4 601.8L445.9 605.3L442.4 601.8Z" fill="#008000" stroke="#008000" stroke-width="0.3"/><path d="M450.9 599L454.4 602.5L450.9 606L447.4 602.5Z" fill="#008000" stroke="#008000" stroke-width="0.3"/><path d="M455.9 599.7L459.4 603.2L455.9 606.7L452.4 603.2Z" fill="#008000" stroke="#008000" stroke-width="0.3"/><path d="M460.9 600.5L464.4 604L460.9 607.5L457.4 604Z" fill="#008000" stroke="#008000" stroke-width="0.3"/><path d="M465.9 601.1L469.4 604.6L465.9 608.1L462.4 604.6Z" fill="#008000" stroke="#008000" stroke-width="0.3"/><path d="M470.9 601.7L474.4 605.2L470.9 608.7L467.4 605.2Z" fill="#008000" stroke="#008000" stroke-width="0.3"/><path d="M476 602.3L479.5 605.8L476 609.3L472.5 605.8Z" fill="#008000" stroke="#008000" stroke-width="0.3"/><path d="M481 602.7L484.5 606.2L481 609.7L477.5 606.2Z" fill="#008000" stroke="#008000" stroke-width="0.3"/><path d="M486 602.9L489.5 606.4L486 609.9L482.5 606.4Z" fill="#008000" stroke="#008000" stroke-width="0.3"/><path d="M491 602.9L494.5 606.4L491 609.9L487.5 606.4Z" fill="#008000" stroke="#008000" stroke-width="0.3"/><path d="M496 602.4L499.5 605.9L496 609.4L492.5 605.9Z" fill="#008000" stroke="#008000" stroke-width="0.3"/><path d="M501 601.6L504.5 605.1L501 608.6L497.5 605.1Z" fill="#008000" stroke="#008000" stroke-width="0.3"/><path d="M506.1 600.5L509.6 604L506.1 607.5L502.6 604Z" fill="#008000" stroke="#008000" stroke-width="0.3"/><path d="M511.1 598.6L514.6 602.1L511.1 605.6L507.6 602.1Z" fill="#008000" stroke="#008000" stroke-width="0.3"/><path d="M516.1 596.2L519.6 599.7L516.1 603.2L512.6 599.7Z" fill="#008000" stroke="#008000" stroke-width="0.3"/><path d="M521.1 593.6L524.6 597.1L521.1 600.6L517.6 597.1Z" fill="#008000" stroke="#008000" stroke-width="0.3"/><path d="M526.1 590.6L529.6 594.1L526.1 597.6L522.6 594.1Z" fill="#008000" stroke="#008000" stroke-width="0.3"/><path d="M531.1 586.5L534.6 590L531.1 593.5L527.6 590Z" fill="#008000" stroke="#008000" stroke-width="0.3"/><path d="M536.2 580.9L539.7 584.4L536.2 587.9L532.7 584.4Z" fill="#008000" stroke="#008000" stroke-width="0.3"/><path d="M541.2 574.9L544.7 578.4L541.2 581.9L537.7 578.4Z" fill="#008000" stroke="#008000" stroke-width="0.3"/><path d="M546.2 568.3L549.7 571.8L546.2 575.3L542.7 571.8Z" fill="#008000" stroke="#008000" stroke-width="0.3"/><path d="M551.2 561.5L554.7 565L551.2 568.5L547.7 565Z" fill="#008000" stroke="#008000" stroke-width="0.3"/><path d="M556.2 555.4L559.7 558.9L556.2 562.4L552.7 558.9Z" fill="#008000" stroke="#008000" stroke-width="0.3"/><path d="M561.3 549.3L564.8 552.8L561.3 556.3L557.8 552.8Z" fill="#008000" stroke="#008000" stroke-width="0.3"/><path d="M566.3 542.1L569.8 545.6L566.3 549.1L562.8 545.6Z" fill="#008000" stroke="#008000" stroke-width="0.3"/><path d="M571.3 534.1L574.8 537.6L571.3 541.1L567.8 537.6Z" fill="#008000" stroke="#008000" stroke-width="0.3"/><path d="M576.3 526.1L579.8 529.6L576.3 533.1L572.8 529.6Z" fill="#008000" stroke="#008000" stroke-width="0.3"/><path d="M581.3 518.2L584.8 521.7L581.3 525.2L577.8 521.7Z" fill="#008000" stroke="#008000" stroke-width="0.3"/><path d="M586.3 510.2L589.8 513.7L586.3 517.2L582.8 513.7Z" fill="#008000" stroke="#008000" stroke-width="0.3"/><path d="M591.4 502.3L594.9 505.8L591.4 509.3L587.9 505.8Z" fill="#008000" stroke="#008000" stroke-width="0.3"/><path d="M596.4 494.8L599.9 498.3L596.4 501.8L592.9 498.3Z" fill="#008000" stroke="#008000" stroke-width="0.3"/><path d="M601.4 486.1L604.9 489.6L601.4 493.1L597.9 489.6Z" fill="#008000" stroke="#008000" stroke-width="0.3"/><path d="M606.4 477.2L609.9 480.7L606.4 484.2L602.9 480.7Z" fill="#008000" stroke="#008000" stroke-width="0.3"/><path d="M611.4 467.5L614.9 471L611.4 474.5L607.9 471Z" fill="#008000" stroke="#008000" stroke-width="0.3"/><path d="M616.4 455.2L619.9 458.7L616.4 462.2L612.9 458.7Z" fill="#008000" stroke="#008000" stroke-width="0.3"/><path d="M621.5 440.4L625 443.9L621.5 447.4L618 443.9Z" fill="#008000" stroke="#008000" stroke-width="0.3"/></g>
<defs><clipPath id="clc"><rect x="581.3" y="545.3" width="56.4" height="65.9"/></clipPath></defs>
<rect x="581.3" y="545.3" width="56.4" height="65.9" fill="#fff" stroke="#222" stroke-width="1"/>
<g clip-path="url(#clc)">
<path d="M583.1 552.8L606.8 552.8" fill="none" stroke="#aaaaaa" stroke-width="1.1" stroke-linejoin="round" stroke-linecap="round"/>
<rect x="592.4" y="550.3" width="5" height="5" fill="#000000" stroke="#000000" stroke-width="0.3"/>
<text x="609.8" y="556.7" font-family="'Liberation Sans', sans-serif" font-size="11">313 K</text>
<path d="M583.1 565.9L606.8 565.9" fill="none" stroke="#ff8080" stroke-width="1.1" stroke-linejoin="round" stroke-linecap="round"/>
<circle cx="594.9" cy="565.9" r="2.7" fill="#ff0000" stroke="#ff0000" stroke-width="0.3"/>
<text x="609.8" y="569.8" font-family="'Liberation Sans', sans-serif" font-size="11">315 K</text>
<path d="M583.1 579.1L606.8 579.1" fill="none" stroke="#6060ff" stroke-width="1.1" stroke-linejoin="round" stroke-linecap="round"/>
<path d="M594.9 575.8L598.2 581.6L591.6 581.6Z" fill="#0000ff" stroke="#0000ff" stroke-width="0.3"/>
<text x="609.8" y="583" font-family="'Liberation Sans', sans-serif" font-size="11">317 K</text>
<path d="M583.1 592.2L606.8 592.2" fill="none" stroke="#ff60ff" stroke-width="1.1" stroke-linejoin="round" stroke-linecap="round"/>
<path d="M594.9 595.5L598.2 589.8L591.6 589.8Z" fill="#ff00ff" stroke="#ff00ff" stroke-width="0.3"/>
<text x="609.8" y="596.1" font-family="'Liberation Sans', sans-serif" font-size="11">319 K</text>
<path d="M583.1 605.4L606.8 605.4" fill="none" stroke="#40a040" stroke-width="1.1" stroke-linejoin="round" stroke-linecap="round"/>
<path d="M594.9 601.9L598.4 605.4L594.9 608.9L591.4 605.4Z" fill="#008000" stroke="#008000" stroke-width="0.3"/>
<text x="609.8" y="609.3" font-family="'Liberation Sans', sans-serif" font-size="11">321 K</text>
</g>
<g><rect x="62.4" y="811.2" width="4.4" height="4.4" fill="#fff" stroke="#222" stroke-width="0.9"/><rect x="67.2" y="810.9" width="4.4" height="4.4" fill="#fff" stroke="#222" stroke-width="0.9"/><rect x="72" y="810.5" width="4.4" height="4.4" fill="#fff" stroke="#222" stroke-width="0.9"/><rect x="76.8" y="810" width="4.4" height="4.4" fill="#fff" stroke="#222" stroke-width="0.9"/><rect x="81.6" y="809.3" width="4.4" height="4.4" fill="#fff" stroke="#222" stroke-width="0.9"/><rect x="86.4" y="808.6" width="4.4" height="4.4" fill="#fff" stroke="#222" stroke-width="0.9"/><rect x="91.2" y="807.7" width="4.4" height="4.4" fill="#fff" stroke="#222" stroke-width="0.9"/><rect x="96" y="806.8" width="4.4" height="4.4" fill="#fff" stroke="#222" stroke-width="0.9"/><rect x="100.8" y="805.8" width="4.4" height="4.4" fill="#fff" stroke="#222" stroke-width="0.9"/><rect x="105.6" y="804.8" width="4.4" height="4.4" fill="#fff" stroke="#222" stroke-width="0.9"/><rect x="110.4" y="803.7" width="4.4" height="4.4" fill="#fff" stroke="#222" stroke-width="0.9"/><rect x="115.2" y="802.5" width="4.4" height="4.4" fill="#fff" stroke="#222" stroke-width="0.9"/><rect x="120" y="801.1" width="4.4" height="4.4" fill="#fff" stroke="#222" stroke-width="0.9"/><rect x="124.8" y="799.4" width="4.4" height="4.4" fill="#fff" stroke="#222" stroke-width="0.9"/><rect x="129.6" y="797.6" width="4.4" height="4.4" fill="#fff" stroke="#222" stroke-width="0.9"/><rect x="134.4" y="795.6" width="4.4" height="4.4" fill="#fff" stroke="#222" stroke-width="0.9"/><rect x="139.2" y="793.6" width="4.4" height="4.4" fill="#fff" stroke="#222" stroke-width="0.9"/><rect x="144" y="791.5" width="4.4" height="4.4" fill="#fff" stroke="#222" stroke-width="0.9"/><rect x="148.8" y="789.4" width="4.4" height="4.4" fill="#fff" stroke="#222" stroke-width="0.9"/><rect x="153.6" y="787.2" width="4.4" height="4.4" fill="#fff" stroke="#222" stroke-width="0.9"/><rect x="158.4" y="784.8" width="4.4" height="4.4" fill="#fff" stroke="#222" stroke-width="0.9"/><rect x="163.2" y="782.2" width="4.4" height="4.4" fill="#fff" stroke="#222" stroke-width="0.9"/><rect x="168" y="779.6" width="4.4" height="4.4" fill="#fff" stroke="#222" stroke-width="0.9"/><rect x="172.8" y="776.8" width="4.4" height="4.4" fill="#fff" stroke="#222" stroke-width="0.9"/><rect x="177.6" y="774" width="4.4" height="4.4" fill="#fff" stroke="#222" stroke-width="0.9"/><rect x="182.4" y="771.1" width="4.4" height="4.4" fill="#fff" stroke="#222" stroke-width="0.9"/><rect x="187.2" y="768.2" width="4.4" height="4.4" fill="#fff" stroke="#222" stroke-width="0.9"/><rect x="192" y="765.2" width="4.4" height="4.4" fill="#fff" stroke="#222" stroke-width="0.9"/><rect x="196.8" y="762.1" width="4.4" height="4.4" fill="#fff" stroke="#222" stroke-width="0.9"/><rect x="201.6" y="758.8" width="4.4" height="4.4" fill="#fff" stroke="#222" stroke-width="0.9"/><rect x="206.4" y="755.5" width="4.4" height="4.4" fill="#fff" stroke="#222" stroke-width="0.9"/><rect x="211.2" y="752.1" width="4.4" height="4.4" fill="#fff" stroke="#222" stroke-width="0.9"/><rect x="216" y="748.7" width="4.4" height="4.4" fill="#fff" stroke="#222" stroke-width="0.9"/><rect x="220.8" y="745.3" width="4.4" height="4.4" fill="#fff" stroke="#222" stroke-width="0.9"/><rect x="225.6" y="741.8" width="4.4" height="4.4" fill="#fff" stroke="#222" stroke-width="0.9"/><rect x="230.4" y="738.2" width="4.4" height="4.4" fill="#fff" stroke="#222" stroke-width="0.9"/><rect x="235.2" y="734.6" width="4.4" height="4.4" fill="#fff" stroke="#222" stroke-width="0.9"/><rect x="240" y="730.9" width="4.4" height="4.4" fill="#fff" stroke="#222" stroke-width="0.9"/><rect x="244.8" y="727.2" width="4.4" height="4.4" fill="#fff" stroke="#222" stroke-width="0.9"/><rect x="249.6" y="723.4" width="4.4" height="4.4" fill="#fff" stroke="#222" stroke-width="0.9"/><rect x="254.4" y="719.6" width="4.4" height="4.4" fill="#fff" stroke="#222" stroke-width="0.9"/><rect x="259.2" y="715.8" width="4.4" height="4.4" fill="#fff" stroke="#222" stroke-width="0.9"/><rect x="264" y="712.1" width="4.4" height="4.4" fill="#fff" stroke="#222" stroke-width="0.9"/><rect x="268.8" y="708.4" width="4.4" height="4.4" fill="#fff" stroke="#222" stroke-width="0.9"/><rect x="273.6" y="704.5" width="4.4" height="4.4" fill="#fff" stroke="#222" stroke-width="0.9"/><rect x="278.4" y="699.9" width="4.4" height="4.4" fill="#fff" stroke="#222" stroke-width="0.9"/><rect x="283.2" y="695.1" width="4.4" height="4.4" fill="#fff" stroke="#222" stroke-width="0.9"/><rect x="288" y="690.2" width="4.4" height="4.4" fill="#fff" stroke="#222" stroke-width="0.9"/></g>
<g><circle cx="64.6" cy="834.3" r="2.6" fill="#fff" stroke="#ff8c1a" stroke-width="0.9"/><circle cx="69.4" cy="833.2" r="2.6" fill="#fff" stroke="#ff8c1a" stroke-width="0.9"/><circle cx="74.2" cy="832.1" r="2.6" fill="#fff" stroke="#ff8c1a" stroke-width="0.9"/><circle cx="79" cy="830.9" r="2.6" fill="#fff" stroke="#ff8c1a" stroke-width="0.9"/><circle cx="83.8" cy="829.6" r="2.6" fill="#fff" stroke="#ff8c1a" stroke-width="0.9"/><circle cx="88.6" cy="828.2" r="2.6" fill="#fff" stroke="#ff8c1a" stroke-width="0.9"/><circle cx="93.4" cy="826.8" r="2.6" fill="#fff" stroke="#ff8c1a" stroke-width="0.9"/><circle cx="98.2" cy="825.2" r="2.6" fill="#fff" stroke="#ff8c1a" stroke-width="0.9"/><circle cx="103" cy="823.7" r="2.6" fill="#fff" stroke="#ff8c1a" stroke-width="0.9"/><circle cx="107.8" cy="822" r="2.6" fill="#fff" stroke="#ff8c1a" stroke-width="0.9"/><circle cx="112.6" cy="820.3" r="2.6" fill="#fff" stroke="#ff8c1a" stroke-width="0.9"/><circle cx="117.4" cy="818.6" r="2.6" fill="#fff" stroke="#ff8c1a" stroke-width="0.9"/><circle cx="122.2" cy="816.7" r="2.6" fill="#fff" stroke="#ff8c1a" stroke-width="0.9"/><circle cx="127" cy="814.7" r="2.6" fill="#fff" stroke="#ff8c1a" stroke-width="0.9"/><circle cx="131.8" cy="812.6" r="2.6" fill="#fff" stroke="#ff8c1a" stroke-width="0.9"/><circle cx="136.6" cy="810.4" r="2.6" fill="#fff" stroke="#ff8c1a" stroke-width="0.9"/><circle cx="141.4" cy="808.1" r="2.6" fill="#fff" stroke="#ff8c1a" stroke-width="0.9"/><circle cx="146.2" cy="805.6" r="2.6" fill="#fff" stroke="#ff8c1a" stroke-width="0.9"/><circle cx="151" cy="803.1" r="2.6" fill="#fff" stroke="#ff8c1a" stroke-width="0.9"/><circle cx="155.8" cy="800.4" r="2.6" fill="#fff" stroke="#ff8c1a" stroke-width="0.9"/><circle cx="160.6" cy="797.4" r="2.6" fill="#fff" stroke="#ff8c1a" stroke-width="0.9"/><circle cx="165.4" cy="794.3" r="2.6" fill="#fff" stroke="#ff8c1a" stroke-width="0.9"/><circle cx="170.2" cy="791.1" r="2.6" fill="#fff" stroke="#ff8c1a" stroke-width="0.9"/><circle cx="175" cy="787.7" r="2.6" fill="#fff" stroke="#ff8c1a" stroke-width="0.9"/><circle cx="179.8" cy="784.3" r="2.6" fill="#fff" stroke="#ff8c1a" stroke-width="0.9"/><circle cx="184.6" cy="780.9" r="2.6" fill="#fff" stroke="#ff8c1a" stroke-width="0.9"/><circle cx="189.4" cy="777.5" r="2.6" fill="#fff" stroke="#ff8c1a" stroke-width="0.9"/><circle cx="194.2" cy="774" r="2.6" fill="#fff" stroke="#ff8c1a" stroke-width="0.9"/><circle cx="199" cy="770.4" r="2.6" fill="#fff" stroke="#ff8c1a" stroke-width="0.9"/><circle cx="203.8" cy="766.6" r="2.6" fill="#fff" stroke="#ff8c1a" stroke-width="0.9"/><circle cx="208.6" cy="762.8" r="2.6" fill="#fff" stroke="#ff8c1a" stroke-width="0.9"/><circle cx="213.4" cy="759.1" r="2.6" fill="#fff" stroke="#ff8c1a" stroke-width="0.9"/><circle cx="218.2" cy="755.4" r="2.6" fill="#fff" stroke="#ff8c1a" stroke-width="0.9"/><circle cx="223" cy="751.9" r="2.6" fill="#fff" stroke="#ff8c1a" stroke-width="0.9"/><circle cx="227.8" cy="748.5" r="2.6" fill="#fff" stroke="#ff8c1a" stroke-width="0.9"/><circle cx="232.6" cy="745.5" r="2.6" fill="#fff" stroke="#ff8c1a" stroke-width="0.9"/><circle cx="237.4" cy="742.8" r="2.6" fill="#fff" stroke="#ff8c1a" stroke-width="0.9"/><circle cx="242.2" cy="740.1" r="2.6" fill="#fff" stroke="#ff8c1a" stroke-width="0.9"/><circle cx="247" cy="737.4" r="2.6" fill="#fff" stroke="#ff8c1a" stroke-width="0.9"/><circle cx="251.8" cy="734.3" r="2.6" fill="#fff" stroke="#ff8c1a" stroke-width="0.9"/><circle cx="256.6" cy="730.7" r="2.6" fill="#fff" stroke="#ff8c1a" stroke-width="0.9"/><circle cx="261.4" cy="726.5" r="2.6" fill="#fff" stroke="#ff8c1a" stroke-width="0.9"/><circle cx="266.2" cy="722.2" r="2.6" fill="#fff" stroke="#ff8c1a" stroke-width="0.9"/><circle cx="271" cy="717.6" r="2.6" fill="#fff" stroke="#ff8c1a" stroke-width="0.9"/><circle cx="275.8" cy="713.5" r="2.6" fill="#fff" stroke="#ff8c1a" stroke-width="0.9"/><circle cx="280.6" cy="709.5" r="2.6" fill="#fff" stroke="#ff8c1a" stroke-width="0.9"/><circle cx="285.4" cy="703.5" r="2.6" fill="#fff" stroke="#ff8c1a" stroke-width="0.9"/><circle cx="290.2" cy="695.4" r="2.6" fill="#fff" stroke="#ff8c1a" stroke-width="0.9"/></g>
<g><path d="M64.6 845.6L67.6 850.8L61.6 850.8Z" fill="#0000ff" stroke="#0000ff" stroke-width="0.3"/><path d="M69.4 844.3L72.4 849.5L66.4 849.5Z" fill="#0000ff" stroke="#0000ff" stroke-width="0.3"/><path d="M74.2 842.8L77.2 848.1L71.2 848.1Z" fill="#0000ff" stroke="#0000ff" stroke-width="0.3"/><path d="M79 841.3L82 846.6L76 846.6Z" fill="#0000ff" stroke="#0000ff" stroke-width="0.3"/><path d="M83.8 839.7L86.8 844.9L80.8 844.9Z" fill="#0000ff" stroke="#0000ff" stroke-width="0.3"/><path d="M88.6 837.9L91.6 843.2L85.6 843.2Z" fill="#0000ff" stroke="#0000ff" stroke-width="0.3"/><path d="M93.4 836.1L96.4 841.3L90.4 841.3Z" fill="#0000ff" stroke="#0000ff" stroke-width="0.3"/><path d="M98.2 834.2L101.2 839.4L95.2 839.4Z" fill="#0000ff" stroke="#0000ff" stroke-width="0.3"/><path d="M103 832.2L106 837.4L100 837.4Z" fill="#0000ff" stroke="#0000ff" stroke-width="0.3"/><path d="M107.8 830.1L110.8 835.4L104.8 835.4Z" fill="#0000ff" stroke="#0000ff" stroke-width="0.3"/><path d="M112.6 828L115.6 833.3L109.6 833.3Z" fill="#0000ff" stroke="#0000ff" stroke-width="0.3"/><path d="M117.4 825.8L120.4 831L114.4 831Z" fill="#0000ff" stroke="#0000ff" stroke-width="0.3"/><path d="M122.2 823.3L125.2 828.6L119.2 828.6Z" fill="#0000ff" stroke="#0000ff" stroke-width="0.3"/><path d="M127 820.7L130 826L124 826Z" fill="#0000ff" stroke="#0000ff" stroke-width="0.3"/><path d="M131.8 818L134.8 823.3L128.8 823.3Z" fill="#0000ff" stroke="#0000ff" stroke-width="0.3"/><path d="M136.6 815.2L139.6 820.5L133.6 820.5Z" fill="#0000ff" stroke="#0000ff" stroke-width="0.3"/><path d="M141.4 812.3L144.4 817.6L138.4 817.6Z" fill="#0000ff" stroke="#0000ff" stroke-width="0.3"/><path d="M146.2 809.4L149.2 814.6L143.2 814.6Z" fill="#0000ff" stroke="#0000ff" stroke-width="0.3"/><path d="M151 806.5L154 811.7L148 811.7Z" fill="#0000ff" stroke="#0000ff" stroke-width="0.3"/><path d="M155.8 803.5L158.8 808.7L152.8 808.7Z" fill="#0000ff" stroke="#0000ff" stroke-width="0.3"/><path d="M160.6 800.4L163.6 805.6L157.6 805.6Z" fill="#0000ff" stroke="#0000ff" stroke-width="0.3"/><path d="M165.4 797.3L168.4 802.5L162.4 802.5Z" fill="#0000ff" stroke="#0000ff" stroke-width="0.3"/><path d="M170.2 794L173.2 799.3L167.2 799.3Z" fill="#0000ff" stroke="#0000ff" stroke-width="0.3"/><path d="M175 790.7L178 796L172 796Z" fill="#0000ff" stroke="#0000ff" stroke-width="0.3"/><path d="M179.8 787.4L182.8 792.6L176.8 792.6Z" fill="#0000ff" stroke="#0000ff" stroke-width="0.3"/><path d="M184.6 783.9L187.6 789.2L181.6 789.2Z" fill="#0000ff" stroke="#0000ff" stroke-width="0.3"/><path d="M189.4 780.4L192.4 785.7L186.4 785.7Z" fill="#0000ff" stroke="#0000ff" stroke-width="0.3"/><path d="M194.2 776.7L197.2 782L191.2 782Z" fill="#0000ff" stroke="#0000ff" stroke-width="0.3"/><path d="M199 772.9L202 778.1L196 778.1Z" fill="#0000ff" stroke="#0000ff" stroke-width="0.3"/><path d="M203.8 768.9L206.8 774.2L200.8 774.2Z" fill="#0000ff" stroke="#0000ff" stroke-width="0.3"/><path d="M208.6 764.9L211.6 770.1L205.6 770.1Z" fill="#0000ff" stroke="#0000ff" stroke-width="0.3"/><path d="M213.4 760.8L216.4 766.1L210.4 766.1Z" fill="#0000ff" stroke="#0000ff" stroke-width="0.3"/><path d="M218.2 756.8L221.2 762L215.2 762Z" fill="#0000ff" stroke="#0000ff" stroke-width="0.3"/><path d="M223 752.9L226 758.1L220 758.1Z" fill="#0000ff" stroke="#0000ff" stroke-width="0.3"/><path d="M227.8 749.1L230.8 754.4L224.8 754.4Z" fill="#0000ff" stroke="#0000ff" stroke-width="0.3"/><path d="M232.6 745.6L235.6 750.8L229.6 750.8Z" fill="#0000ff" stroke="#0000ff" stroke-width="0.3"/><path d="M237.4 742.2L240.4 747.5L234.4 747.5Z" fill="#0000ff" stroke="#0000ff" stroke-width="0.3"/><path d="M242.2 738.9L245.2 744.1L239.2 744.1Z" fill="#0000ff" stroke="#0000ff" stroke-width="0.3"/><path d="M247 735.5L250 740.7L244 740.7Z" fill="#0000ff" stroke="#0000ff" stroke-width="0.3"/><path d="M251.8 731.9L254.8 737.2L248.8 737.2Z" fill="#0000ff" stroke="#0000ff" stroke-width="0.3"/><path d="M256.6 728.1L259.6 733.4L253.6 733.4Z" fill="#0000ff" stroke="#0000ff" stroke-width="0.3"/><path d="M261.4 724L264.4 729.3L258.4 729.3Z" fill="#0000ff" stroke="#0000ff" stroke-width="0.3"/><path d="M266.2 719.7L269.2 724.9L263.2 724.9Z" fill="#0000ff" stroke="#0000ff" stroke-width="0.3"/><path d="M271 715.1L274 720.3L268 720.3Z" fill="#0000ff" stroke="#0000ff" stroke-width="0.3"/><path d="M275.8 711.1L278.8 716.3L272.8 716.3Z" fill="#0000ff" stroke="#0000ff" stroke-width="0.3"/><path d="M280.6 707.1L283.6 712.3L277.6 712.3Z" fill="#0000ff" stroke="#0000ff" stroke-width="0.3"/><path d="M285.4 701L288.4 706.3L282.4 706.3Z" fill="#0000ff" stroke="#0000ff" stroke-width="0.3"/><path d="M290.2 693L293.2 698.2L287.2 698.2Z" fill="#0000ff" stroke="#0000ff" stroke-width="0.3"/></g>
<g><path d="M64.6 862.5L67.6 857.2L61.6 857.2Z" fill="#ff00ff" stroke="#ff00ff" stroke-width="0.3"/><path d="M69.4 860.9L72.4 855.6L66.4 855.6Z" fill="#ff00ff" stroke="#ff00ff" stroke-width="0.3"/><path d="M74.2 859.2L77.2 853.9L71.2 853.9Z" fill="#ff00ff" stroke="#ff00ff" stroke-width="0.3"/><path d="M79 857.3L82 852.1L76 852.1Z" fill="#ff00ff" stroke="#ff00ff" stroke-width="0.3"/><path d="M83.8 855.4L86.8 850.2L80.8 850.2Z" fill="#ff00ff" stroke="#ff00ff" stroke-width="0.3"/><path d="M88.6 853.4L91.6 848.1L85.6 848.1Z" fill="#ff00ff" stroke="#ff00ff" stroke-width="0.3"/><path d="M93.4 851.3L96.4 846L90.4 846Z" fill="#ff00ff" stroke="#ff00ff" stroke-width="0.3"/><path d="M98.2 849.1L101.2 843.8L95.2 843.8Z" fill="#ff00ff" stroke="#ff00ff" stroke-width="0.3"/><path d="M103 846.8L106 841.5L100 841.5Z" fill="#ff00ff" stroke="#ff00ff" stroke-width="0.3"/><path d="M107.8 844.4L110.8 839.2L104.8 839.2Z" fill="#ff00ff" stroke="#ff00ff" stroke-width="0.3"/><path d="M112.6 842L115.6 836.8L109.6 836.8Z" fill="#ff00ff" stroke="#ff00ff" stroke-width="0.3"/><path d="M117.4 839.5L120.4 834.2L114.4 834.2Z" fill="#ff00ff" stroke="#ff00ff" stroke-width="0.3"/><path d="M122.2 836.8L125.2 831.5L119.2 831.5Z" fill="#ff00ff" stroke="#ff00ff" stroke-width="0.3"/><path d="M127 833.9L130 828.7L124 828.7Z" fill="#ff00ff" stroke="#ff00ff" stroke-width="0.3"/><path d="M131.8 830.9L134.8 825.7L128.8 825.7Z" fill="#ff00ff" stroke="#ff00ff" stroke-width="0.3"/><path d="M136.6 827.8L139.6 822.6L133.6 822.6Z" fill="#ff00ff" stroke="#ff00ff" stroke-width="0.3"/><path d="M141.4 824.7L144.4 819.4L138.4 819.4Z" fill="#ff00ff" stroke="#ff00ff" stroke-width="0.3"/><path d="M146.2 821.5L149.2 816.3L143.2 816.3Z" fill="#ff00ff" stroke="#ff00ff" stroke-width="0.3"/><path d="M151 818.3L154 813L148 813Z" fill="#ff00ff" stroke="#ff00ff" stroke-width="0.3"/><path d="M155.8 815L158.8 809.8L152.8 809.8Z" fill="#ff00ff" stroke="#ff00ff" stroke-width="0.3"/><path d="M160.6 811.7L163.6 806.4L157.6 806.4Z" fill="#ff00ff" stroke="#ff00ff" stroke-width="0.3"/><path d="M165.4 808.2L168.4 803L162.4 803Z" fill="#ff00ff" stroke="#ff00ff" stroke-width="0.3"/><path d="M170.2 804.7L173.2 799.4L167.2 799.4Z" fill="#ff00ff" stroke="#ff00ff" stroke-width="0.3"/><path d="M175 801.1L178 795.9L172 795.9Z" fill="#ff00ff" stroke="#ff00ff" stroke-width="0.3"/><path d="M179.8 797.5L182.8 792.2L176.8 792.2Z" fill="#ff00ff" stroke="#ff00ff" stroke-width="0.3"/><path d="M184.6 793.7L187.6 788.5L181.6 788.5Z" fill="#ff00ff" stroke="#ff00ff" stroke-width="0.3"/><path d="M189.4 790L192.4 784.7L186.4 784.7Z" fill="#ff00ff" stroke="#ff00ff" stroke-width="0.3"/><path d="M194.2 786.1L197.2 780.9L191.2 780.9Z" fill="#ff00ff" stroke="#ff00ff" stroke-width="0.3"/><path d="M199 782.1L202 776.8L196 776.8Z" fill="#ff00ff" stroke="#ff00ff" stroke-width="0.3"/><path d="M203.8 777.9L206.8 772.7L200.8 772.7Z" fill="#ff00ff" stroke="#ff00ff" stroke-width="0.3"/><path d="M208.6 773.8L211.6 768.5L205.6 768.5Z" fill="#ff00ff" stroke="#ff00ff" stroke-width="0.3"/><path d="M213.4 769.6L216.4 764.3L210.4 764.3Z" fill="#ff00ff" stroke="#ff00ff" stroke-width="0.3"/><path d="M218.2 765.4L221.2 760.1L215.2 760.1Z" fill="#ff00ff" stroke="#ff00ff" stroke-width="0.3"/><path d="M223 761.3L226 756L220 756Z" fill="#ff00ff" stroke="#ff00ff" stroke-width="0.3"/><path d="M227.8 757.3L230.8 752L224.8 752Z" fill="#ff00ff" stroke="#ff00ff" stroke-width="0.3"/><path d="M232.6 753.4L235.6 748.2L229.6 748.2Z" fill="#ff00ff" stroke="#ff00ff" stroke-width="0.3"/><path d="M237.4 749.7L240.4 744.4L234.4 744.4Z" fill="#ff00ff" stroke="#ff00ff" stroke-width="0.3"/><path d="M242.2 745.9L245.2 740.7L239.2 740.7Z" fill="#ff00ff" stroke="#ff00ff" stroke-width="0.3"/><path d="M247 742.2L250 736.9L244 736.9Z" fill="#ff00ff" stroke="#ff00ff" stroke-width="0.3"/><path d="M251.8 738.4L254.8 733.1L248.8 733.1Z" fill="#ff00ff" stroke="#ff00ff" stroke-width="0.3"/><path d="M256.6 734.4L259.6 729.2L253.6 729.2Z" fill="#ff00ff" stroke="#ff00ff" stroke-width="0.3"/><path d="M261.4 730.4L264.4 725.1L258.4 725.1Z" fill="#ff00ff" stroke="#ff00ff" stroke-width="0.3"/><path d="M266.2 726L269.2 720.8L263.2 720.8Z" fill="#ff00ff" stroke="#ff00ff" stroke-width="0.3"/><path d="M271 721.4L274 716.2L268 716.2Z" fill="#ff00ff" stroke="#ff00ff" stroke-width="0.3"/><path d="M275.8 717.4L278.8 712.2L272.8 712.2Z" fill="#ff00ff" stroke="#ff00ff" stroke-width="0.3"/><path d="M280.6 713.4L283.6 708.2L277.6 708.2Z" fill="#ff00ff" stroke="#ff00ff" stroke-width="0.3"/><path d="M285.4 707.4L288.4 702.1L282.4 702.1Z" fill="#ff00ff" stroke="#ff00ff" stroke-width="0.3"/><path d="M290.2 699.3L293.2 694.1L287.2 694.1Z" fill="#ff00ff" stroke="#ff00ff" stroke-width="0.3"/></g>
<g><path d="M64.6 866.7L67.7 869.8L64.6 872.9L61.5 869.8Z" fill="#008000" stroke="#008000" stroke-width="0.3"/><path d="M69.4 864.2L72.5 867.3L69.4 870.4L66.3 867.3Z" fill="#008000" stroke="#008000" stroke-width="0.3"/><path d="M74.2 861.7L77.3 864.8L74.2 867.9L71.1 864.8Z" fill="#008000" stroke="#008000" stroke-width="0.3"/><path d="M79 859.1L82.1 862.2L79 865.3L75.9 862.2Z" fill="#008000" stroke="#008000" stroke-width="0.3"/><path d="M83.8 856.4L86.9 859.5L83.8 862.6L80.7 859.5Z" fill="#008000" stroke="#008000" stroke-width="0.3"/><path d="M88.6 853.8L91.7 856.9L88.6 860L85.5 856.9Z" fill="#008000" stroke="#008000" stroke-width="0.3"/><path d="M93.4 851L96.5 854.1L93.4 857.2L90.3 854.1Z" fill="#008000" stroke="#008000" stroke-width="0.3"/><path d="M98.2 848.3L101.3 851.4L98.2 854.5L95.1 851.4Z" fill="#008000" stroke="#008000" stroke-width="0.3"/><path d="M103 845.5L106.1 848.6L103 851.7L99.9 848.6Z" fill="#008000" stroke="#008000" stroke-width="0.3"/><path d="M107.8 842.7L110.9 845.8L107.8 848.9L104.7 845.8Z" fill="#008000" stroke="#008000" stroke-width="0.3"/><path d="M112.6 839.8L115.7 842.9L112.6 846L109.5 842.9Z" fill="#008000" stroke="#008000" stroke-width="0.3"/><path d="M117.4 836.9L120.5 840L117.4 843.1L114.3 840Z" fill="#008000" stroke="#008000" stroke-width="0.3"/><path d="M122.2 834L125.3 837.1L122.2 840.2L119.1 837.1Z" fill="#008000" stroke="#008000" stroke-width="0.3"/><path d="M127 831L130.1 834.1L127 837.2L123.9 834.1Z" fill="#008000" stroke="#008000" stroke-width="0.3"/><path d="M131.8 828L134.9 831.1L131.8 834.2L128.7 831.1Z" fill="#008000" stroke="#008000" stroke-width="0.3"/><path d="M136.6 824.9L139.7 828L136.6 831.1L133.5 828Z" fill="#008000" stroke="#008000" stroke-width="0.3"/><path d="M141.4 821.7L144.5 824.8L141.4 827.9L138.3 824.8Z" fill="#008000" stroke="#008000" stroke-width="0.3"/><path d="M146.2 818.5L149.3 821.6L146.2 824.7L143.1 821.6Z" fill="#008000" stroke="#008000" stroke-width="0.3"/><path d="M151 815.2L154.1 818.3L151 821.4L147.9 818.3Z" fill="#008000" stroke="#008000" stroke-width="0.3"/><path d="M155.8 811.9L158.9 815L155.8 818.1L152.7 815Z" fill="#008000" stroke="#008000" stroke-width="0.3"/><path d="M160.6 808.5L163.7 811.6L160.6 814.7L157.5 811.6Z" fill="#008000" stroke="#008000" stroke-width="0.3"/><path d="M165.4 805L168.5 808.1L165.4 811.2L162.3 808.1Z" fill="#008000" stroke="#008000" stroke-width="0.3"/><path d="M170.2 801.5L173.3 804.6L170.2 807.7L167.1 804.6Z" fill="#008000" stroke="#008000" stroke-width="0.3"/><path d="M175 797.9L178.1 801L175 804.1L171.9 801Z" fill="#008000" stroke="#008000" stroke-width="0.3"/><path d="M179.8 794.2L182.9 797.3L179.8 800.4L176.7 797.3Z" fill="#008000" stroke="#008000" stroke-width="0.3"/><path d="M184.6 790.4L187.7 793.5L184.6 796.6L181.5 793.5Z" fill="#008000" stroke="#008000" stroke-width="0.3"/><path d="M189.4 786.6L192.5 789.7L189.4 792.8L186.3 789.7Z" fill="#008000" stroke="#008000" stroke-width="0.3"/><path d="M194.2 782.6L197.3 785.7L194.2 788.8L191.1 785.7Z" fill="#008000" stroke="#008000" stroke-width="0.3"/><path d="M199 778.4L202.1 781.5L199 784.6L195.9 781.5Z" fill="#008000" stroke="#008000" stroke-width="0.3"/><path d="M203.8 774.1L206.9 777.2L203.8 780.3L200.7 777.2Z" fill="#008000" stroke="#008000" stroke-width="0.3"/><path d="M208.6 769.7L211.7 772.8L208.6 775.9L205.5 772.8Z" fill="#008000" stroke="#008000" stroke-width="0.3"/><path d="M213.4 765.3L216.5 768.4L213.4 771.5L210.3 768.4Z" fill="#008000" stroke="#008000" stroke-width="0.3"/><path d="M218.2 760.9L221.3 764L218.2 767.1L215.1 764Z" fill="#008000" stroke="#008000" stroke-width="0.3"/><path d="M223 756.6L226.1 759.7L223 762.8L219.9 759.7Z" fill="#008000" stroke="#008000" stroke-width="0.3"/><path d="M227.8 752.4L230.9 755.5L227.8 758.6L224.7 755.5Z" fill="#008000" stroke="#008000" stroke-width="0.3"/><path d="M232.6 748.4L235.7 751.5L232.6 754.6L229.5 751.5Z" fill="#008000" stroke="#008000" stroke-width="0.3"/><path d="M237.4 744.4L240.5 747.5L237.4 750.6L234.3 747.5Z" fill="#008000" stroke="#008000" stroke-width="0.3"/><path d="M242.2 740.5L245.3 743.6L242.2 746.7L239.1 743.6Z" fill="#008000" stroke="#008000" stroke-width="0.3"/><path d="M247 736.6L250.1 739.7L247 742.8L243.9 739.7Z" fill="#008000" stroke="#008000" stroke-width="0.3"/><path d="M251.8 732.7L254.9 735.8L251.8 738.9L248.7 735.8Z" fill="#008000" stroke="#008000" stroke-width="0.3"/><path d="M256.6 728.7L259.7 731.8L256.6 734.9L253.5 731.8Z" fill="#008000" stroke="#008000" stroke-width="0.3"/><path d="M261.4 724.6L264.5 727.7L261.4 730.8L258.3 727.7Z" fill="#008000" stroke="#008000" stroke-width="0.3"/><path d="M266.2 720.3L269.3 723.4L266.2 726.5L263.1 723.4Z" fill="#008000" stroke="#008000" stroke-width="0.3"/><path d="M271 715.7L274.1 718.8L271 721.9L267.9 718.8Z" fill="#008000" stroke="#008000" stroke-width="0.3"/><path d="M275.8 711.7L278.9 714.8L275.8 717.9L272.7 714.8Z" fill="#008000" stroke="#008000" stroke-width="0.3"/><path d="M280.6 707.7L283.7 710.8L280.6 713.9L277.5 710.8Z" fill="#008000" stroke="#008000" stroke-width="0.3"/><path d="M285.4 701.6L288.5 704.7L285.4 707.8L282.3 704.7Z" fill="#008000" stroke="#008000" stroke-width="0.3"/><path d="M290.2 693.6L293.3 696.7L290.2 699.8L287.1 696.7Z" fill="#008000" stroke="#008000" stroke-width="0.3"/></g>
<g><path d="M67.6 877.5L62.3 874.5L62.3 880.5Z" fill="#8000ff" stroke="#8000ff" stroke-width="0.3"/><path d="M72.4 875L67.1 872L67.1 878Z" fill="#8000ff" stroke="#8000ff" stroke-width="0.3"/><path d="M77.2 872.3L71.9 869.3L71.9 875.3Z" fill="#8000ff" stroke="#8000ff" stroke-width="0.3"/><path d="M82 869.6L76.7 866.6L76.7 872.6Z" fill="#8000ff" stroke="#8000ff" stroke-width="0.3"/><path d="M86.8 866.9L81.5 863.9L81.5 869.9Z" fill="#8000ff" stroke="#8000ff" stroke-width="0.3"/><path d="M91.6 864.1L86.3 861.1L86.3 867.1Z" fill="#8000ff" stroke="#8000ff" stroke-width="0.3"/><path d="M96.4 861.2L91.1 858.2L91.1 864.2Z" fill="#8000ff" stroke="#8000ff" stroke-width="0.3"/><path d="M101.2 858.3L95.9 855.3L95.9 861.3Z" fill="#8000ff" stroke="#8000ff" stroke-width="0.3"/><path d="M106 855.3L100.7 852.3L100.7 858.3Z" fill="#8000ff" stroke="#8000ff" stroke-width="0.3"/><path d="M110.8 852.2L105.5 849.2L105.5 855.2Z" fill="#8000ff" stroke="#8000ff" stroke-width="0.3"/><path d="M115.6 849.1L110.3 846.1L110.3 852.1Z" fill="#8000ff" stroke="#8000ff" stroke-width="0.3"/><path d="M120.4 846L115.1 843L115.1 849Z" fill="#8000ff" stroke="#8000ff" stroke-width="0.3"/><path d="M125.2 842.7L119.9 839.7L119.9 845.7Z" fill="#8000ff" stroke="#8000ff" stroke-width="0.3"/><path d="M130 839.3L124.7 836.3L124.7 842.3Z" fill="#8000ff" stroke="#8000ff" stroke-width="0.3"/><path d="M134.8 835.9L129.5 832.9L129.5 838.9Z" fill="#8000ff" stroke="#8000ff" stroke-width="0.3"/><path d="M139.6 832.4L134.3 829.4L134.3 835.4Z" fill="#8000ff" stroke="#8000ff" stroke-width="0.3"/><path d="M144.4 828.9L139.1 825.9L139.1 831.9Z" fill="#8000ff" stroke="#8000ff" stroke-width="0.3"/><path d="M149.2 825.4L143.9 822.4L143.9 828.4Z" fill="#8000ff" stroke="#8000ff" stroke-width="0.3"/><path d="M154 821.8L148.7 818.8L148.7 824.8Z" fill="#8000ff" stroke="#8000ff" stroke-width="0.3"/><path d="M158.8 818.3L153.5 815.3L153.5 821.3Z" fill="#8000ff" stroke="#8000ff" stroke-width="0.3"/><path d="M163.6 814.8L158.3 811.8L158.3 817.8Z" fill="#8000ff" stroke="#8000ff" stroke-width="0.3"/><path d="M168.4 811.2L163.1 808.2L163.1 814.2Z" fill="#8000ff" stroke="#8000ff" stroke-width="0.3"/><path d="M173.2 807.6L167.9 804.6L167.9 810.6Z" fill="#8000ff" stroke="#8000ff" stroke-width="0.3"/><path d="M178 803.9L172.7 800.9L172.7 806.9Z" fill="#8000ff" stroke="#8000ff" stroke-width="0.3"/><path d="M182.8 800.2L177.5 797.2L177.5 803.2Z" fill="#8000ff" stroke="#8000ff" stroke-width="0.3"/><path d="M187.6 796.3L182.3 793.3L182.3 799.3Z" fill="#8000ff" stroke="#8000ff" stroke-width="0.3"/><path d="M192.4 792.3L187.1 789.3L187.1 795.3Z" fill="#8000ff" stroke="#8000ff" stroke-width="0.3"/><path d="M197.2 788.2L191.9 785.2L191.9 791.2Z" fill="#8000ff" stroke="#8000ff" stroke-width="0.3"/><path d="M202 783.8L196.7 780.8L196.7 786.8Z" fill="#8000ff" stroke="#8000ff" stroke-width="0.3"/><path d="M206.8 779.3L201.5 776.3L201.5 782.3Z" fill="#8000ff" stroke="#8000ff" stroke-width="0.3"/><path d="M211.6 774.7L206.3 771.7L206.3 777.7Z" fill="#8000ff" stroke="#8000ff" stroke-width="0.3"/><path d="M216.4 770.1L211.1 767.1L211.1 773.1Z" fill="#8000ff" stroke="#8000ff" stroke-width="0.3"/><path d="M221.2 765.5L215.9 762.5L215.9 768.5Z" fill="#8000ff" stroke="#8000ff" stroke-width="0.3"/><path d="M226 761L220.7 758L220.7 764Z" fill="#8000ff" stroke="#8000ff" stroke-width="0.3"/><path d="M230.8 756.6L225.5 753.6L225.5 759.6Z" fill="#8000ff" stroke="#8000ff" stroke-width="0.3"/><path d="M235.6 752.4L230.3 749.4L230.3 755.4Z" fill="#8000ff" stroke="#8000ff" stroke-width="0.3"/><path d="M240.4 748.2L235.1 745.2L235.1 751.2Z" fill="#8000ff" stroke="#8000ff" stroke-width="0.3"/><path d="M245.2 744.1L239.9 741.1L239.9 747.1Z" fill="#8000ff" stroke="#8000ff" stroke-width="0.3"/><path d="M250 740L244.7 737L244.7 743Z" fill="#8000ff" stroke="#8000ff" stroke-width="0.3"/><path d="M254.8 736L249.5 733L249.5 739Z" fill="#8000ff" stroke="#8000ff" stroke-width="0.3"/><path d="M259.6 731.9L254.3 728.9L254.3 734.9Z" fill="#8000ff" stroke="#8000ff" stroke-width="0.3"/><path d="M264.4 727.9L259.1 724.9L259.1 730.9Z" fill="#8000ff" stroke="#8000ff" stroke-width="0.3"/><path d="M269.2 723.6L263.9 720.6L263.9 726.6Z" fill="#8000ff" stroke="#8000ff" stroke-width="0.3"/><path d="M274 719L268.7 716L268.7 722Z" fill="#8000ff" stroke="#8000ff" stroke-width="0.3"/><path d="M278.8 715L273.5 712L273.5 718Z" fill="#8000ff" stroke="#8000ff" stroke-width="0.3"/><path d="M283.6 710.9L278.3 707.9L278.3 713.9Z" fill="#8000ff" stroke="#8000ff" stroke-width="0.3"/><path d="M288.4 704.9L283.1 701.9L283.1 707.9Z" fill="#8000ff" stroke="#8000ff" stroke-width="0.3"/><path d="M293.2 696.9L287.9 693.9L287.9 699.9Z" fill="#8000ff" stroke="#8000ff" stroke-width="0.3"/></g>
<g><circle cx="64.6" cy="884.1" r="2.5" fill="#2e5fa8" stroke="none"/><circle cx="63.8" cy="883.4" r="0.9" fill="#9fc0e8" stroke="none"/><circle cx="69.4" cy="881.2" r="2.5" fill="#2e5fa8" stroke="none"/><circle cx="68.6" cy="880.4" r="0.9" fill="#9fc0e8" stroke="none"/><circle cx="74.2" cy="878.2" r="2.5" fill="#2e5fa8" stroke="none"/><circle cx="73.4" cy="877.4" r="0.9" fill="#9fc0e8" stroke="none"/><circle cx="79" cy="875.1" r="2.5" fill="#2e5fa8" stroke="none"/><circle cx="78.2" cy="874.4" r="0.9" fill="#9fc0e8" stroke="none"/><circle cx="83.8" cy="872" r="2.5" fill="#2e5fa8" stroke="none"/><circle cx="83" cy="871.3" r="0.9" fill="#9fc0e8" stroke="none"/><circle cx="88.6" cy="868.9" r="2.5" fill="#2e5fa8" stroke="none"/><circle cx="87.8" cy="868.2" r="0.9" fill="#9fc0e8" stroke="none"/><circle cx="93.4" cy="865.7" r="2.5" fill="#2e5fa8" stroke="none"/><circle cx="92.6" cy="865" r="0.9" fill="#9fc0e8" stroke="none"/><circle cx="98.2" cy="862.5" r="2.5" fill="#2e5fa8" stroke="none"/><circle cx="97.4" cy="861.8" r="0.9" fill="#9fc0e8" stroke="none"/><circle cx="103" cy="859.3" r="2.5" fill="#2e5fa8" stroke="none"/><circle cx="102.2" cy="858.5" r="0.9" fill="#9fc0e8" stroke="none"/><circle cx="107.8" cy="856" r="2.5" fill="#2e5fa8" stroke="none"/><circle cx="107" cy="855.3" r="0.9" fill="#9fc0e8" stroke="none"/><circle cx="112.6" cy="852.7" r="2.5" fill="#2e5fa8" stroke="none"/><circle cx="111.8" cy="851.9" r="0.9" fill="#9fc0e8" stroke="none"/><circle cx="117.4" cy="849.3" r="2.5" fill="#2e5fa8" stroke="none"/><circle cx="116.6" cy="848.6" r="0.9" fill="#9fc0e8" stroke="none"/><circle cx="122.2" cy="845.9" r="2.5" fill="#2e5fa8" stroke="none"/><circle cx="121.4" cy="845.1" r="0.9" fill="#9fc0e8" stroke="none"/><circle cx="127" cy="842.4" r="2.5" fill="#2e5fa8" stroke="none"/><circle cx="126.2" cy="841.6" r="0.9" fill="#9fc0e8" stroke="none"/><circle cx="131.8" cy="838.9" r="2.5" fill="#2e5fa8" stroke="none"/><circle cx="131" cy="838.1" r="0.9" fill="#9fc0e8" stroke="none"/><circle cx="136.6" cy="835.3" r="2.5" fill="#2e5fa8" stroke="none"/><circle cx="135.8" cy="834.5" r="0.9" fill="#9fc0e8" stroke="none"/><circle cx="141.4" cy="831.7" r="2.5" fill="#2e5fa8" stroke="none"/><circle cx="140.6" cy="830.9" r="0.9" fill="#9fc0e8" stroke="none"/><circle cx="146.2" cy="828.1" r="2.5" fill="#2e5fa8" stroke="none"/><circle cx="145.4" cy="827.3" r="0.9" fill="#9fc0e8" stroke="none"/><circle cx="151" cy="824.5" r="2.5" fill="#2e5fa8" stroke="none"/><circle cx="150.2" cy="823.8" r="0.9" fill="#9fc0e8" stroke="none"/><circle cx="155.8" cy="820.9" r="2.5" fill="#2e5fa8" stroke="none"/><circle cx="155" cy="820.2" r="0.9" fill="#9fc0e8" stroke="none"/><circle cx="160.6" cy="817.4" r="2.5" fill="#2e5fa8" stroke="none"/><circle cx="159.8" cy="816.7" r="0.9" fill="#9fc0e8" stroke="none"/><circle cx="165.4" cy="813.9" r="2.5" fill="#2e5fa8" stroke="none"/><circle cx="164.6" cy="813.1" r="0.9" fill="#9fc0e8" stroke="none"/><circle cx="170.2" cy="810.3" r="2.5" fill="#2e5fa8" stroke="none"/><circle cx="169.4" cy="809.6" r="0.9" fill="#9fc0e8" stroke="none"/><circle cx="175" cy="806.7" r="2.5" fill="#2e5fa8" stroke="none"/><circle cx="174.2" cy="805.9" r="0.9" fill="#9fc0e8" stroke="none"/><circle cx="179.8" cy="802.9" r="2.5" fill="#2e5fa8" stroke="none"/><circle cx="179" cy="802.2" r="0.9" fill="#9fc0e8" stroke="none"/><circle cx="184.6" cy="799.1" r="2.5" fill="#2e5fa8" stroke="none"/><circle cx="183.8" cy="798.3" r="0.9" fill="#9fc0e8" stroke="none"/><circle cx="189.4" cy="795" r="2.5" fill="#2e5fa8" stroke="none"/><circle cx="188.6" cy="794.3" r="0.9" fill="#9fc0e8" stroke="none"/><circle cx="194.2" cy="790.8" r="2.5" fill="#2e5fa8" stroke="none"/><circle cx="193.4" cy="790" r="0.9" fill="#9fc0e8" stroke="none"/><circle cx="199" cy="786.2" r="2.5" fill="#2e5fa8" stroke="none"/><circle cx="198.2" cy="785.5" r="0.9" fill="#9fc0e8" stroke="none"/><circle cx="203.8" cy="781.5" r="2.5" fill="#2e5fa8" stroke="none"/><circle cx="203" cy="780.7" r="0.9" fill="#9fc0e8" stroke="none"/><circle cx="208.6" cy="776.7" r="2.5" fill="#2e5fa8" stroke="none"/><circle cx="207.8" cy="775.9" r="0.9" fill="#9fc0e8" stroke="none"/><circle cx="213.4" cy="771.8" r="2.5" fill="#2e5fa8" stroke="none"/><circle cx="212.6" cy="771" r="0.9" fill="#9fc0e8" stroke="none"/><circle cx="218.2" cy="766.9" r="2.5" fill="#2e5fa8" stroke="none"/><circle cx="217.4" cy="766.1" r="0.9" fill="#9fc0e8" stroke="none"/><circle cx="223" cy="762.1" r="2.5" fill="#2e5fa8" stroke="none"/><circle cx="222.2" cy="761.4" r="0.9" fill="#9fc0e8" stroke="none"/><circle cx="227.8" cy="757.5" r="2.5" fill="#2e5fa8" stroke="none"/><circle cx="227" cy="756.7" r="0.9" fill="#9fc0e8" stroke="none"/><circle cx="232.6" cy="753" r="2.5" fill="#2e5fa8" stroke="none"/><circle cx="231.8" cy="752.2" r="0.9" fill="#9fc0e8" stroke="none"/><circle cx="237.4" cy="748.6" r="2.5" fill="#2e5fa8" stroke="none"/><circle cx="236.6" cy="747.8" r="0.9" fill="#9fc0e8" stroke="none"/><circle cx="242.2" cy="744.3" r="2.5" fill="#2e5fa8" stroke="none"/><circle cx="241.4" cy="743.5" r="0.9" fill="#9fc0e8" stroke="none"/><circle cx="247" cy="740.2" r="2.5" fill="#2e5fa8" stroke="none"/><circle cx="246.2" cy="739.5" r="0.9" fill="#9fc0e8" stroke="none"/><circle cx="251.8" cy="736.3" r="2.5" fill="#2e5fa8" stroke="none"/><circle cx="251" cy="735.5" r="0.9" fill="#9fc0e8" stroke="none"/><circle cx="256.6" cy="732.3" r="2.5" fill="#2e5fa8" stroke="none"/><circle cx="255.8" cy="731.5" r="0.9" fill="#9fc0e8" stroke="none"/><circle cx="261.4" cy="728.3" r="2.5" fill="#2e5fa8" stroke="none"/><circle cx="260.6" cy="727.5" r="0.9" fill="#9fc0e8" stroke="none"/><circle cx="266.2" cy="723.9" r="2.5" fill="#2e5fa8" stroke="none"/><circle cx="265.4" cy="723.2" r="0.9" fill="#9fc0e8" stroke="none"/><circle cx="271" cy="719.3" r="2.5" fill="#2e5fa8" stroke="none"/><circle cx="270.2" cy="718.6" r="0.9" fill="#9fc0e8" stroke="none"/><circle cx="275.8" cy="715.3" r="2.5" fill="#2e5fa8" stroke="none"/><circle cx="275" cy="714.6" r="0.9" fill="#9fc0e8" stroke="none"/><circle cx="280.6" cy="711.3" r="2.5" fill="#2e5fa8" stroke="none"/><circle cx="279.8" cy="710.6" r="0.9" fill="#9fc0e8" stroke="none"/><circle cx="285.4" cy="705.3" r="2.5" fill="#2e5fa8" stroke="none"/><circle cx="284.6" cy="704.5" r="0.9" fill="#9fc0e8" stroke="none"/><circle cx="290.2" cy="697.2" r="2.5" fill="#2e5fa8" stroke="none"/><circle cx="289.4" cy="696.5" r="0.9" fill="#9fc0e8" stroke="none"/></g>
<path d="M65.4 812.8L68.2 812.7L71.1 812.5L73.9 812.3L76.8 812L79.6 811.7L82.4 811.3L85.3 810.9L88.1 810.4L91 810L93.8 809.4L96.7 808.9L99.5 808.3L102.4 807.8L105.2 807.2L108.1 806.6L110.9 805.9L113.7 805.3L116.6 804.6L119.4 803.8L122.3 802.9L125.1 801.9L128 800.9L130.8 799.8L133.7 798.7L136.5 797.5L139.4 796.3L142.2 795.1L145 793.8L147.9 792.6L150.7 791.4L153.6 790.1L156.4 788.7L159.3 787.4L162.1 785.9L165 784.5L167.8 783L170.7 781.4L173.5 779.9L176.3 778.3L179.2 776.6L182 775L184.9 773.3L187.7 771.6L190.6 769.8L193.4 768L196.3 766.1L199.1 764.2L202 762.2L204.8 760.2L207.6 758.2L210.5 756.1L213.3 754.1L216.2 752L219 749.9L221.9 747.9L224.7 745.8L227.6 743.8L230.4 741.7L233.3 739.7L236.1 737.6L238.9 735.5L241.8 733.4L244.6 731.4L247.5 729.3L250.3 727.2L253.2 725.1L256 723L258.9 720.9L261.7 718.8L264.6 716.7L267.4 714.6L270.2 712.6L273.1 710.5L275.9 708.5L278.8 706.4L281.6 704.4L284.5 702.4L287.3 700.5L290.2 698.5" fill="none" stroke="#ff0000" stroke-width="1.6" stroke-linejoin="round" stroke-linecap="round"/>
<path d="M65.4 834.1L68.2 833.5L71.1 832.9L73.9 832.2L76.8 831.5L79.6 830.7L82.4 830L85.3 829.2L88.1 828.3L91 827.5L93.8 826.6L96.7 825.7L99.5 824.8L102.4 823.9L105.2 822.9L108.1 821.9L110.9 820.9L113.7 819.9L116.6 818.9L119.4 817.8L122.3 816.6L125.1 815.5L128 814.3L130.8 813L133.7 811.7L136.5 810.4L139.4 809L142.2 807.6L145 806.2L147.9 804.7L150.7 803.2L153.6 801.7L156.4 800L159.3 798.3L162.1 796.5L165 794.6L167.8 792.7L170.7 790.7L173.5 788.8L176.3 786.8L179.2 784.7L182 782.7L184.9 780.7L187.7 778.7L190.6 776.6L193.4 774.5L196.3 772.4L199.1 770.1L202 767.9L204.8 765.6L207.6 763.3L210.5 761L213.3 758.7L216.2 756.5L219 754.4L221.9 752.4L224.7 750.4L227.6 748.7L230.4 747L233.3 745.6L236.1 744.2L238.9 742.9L241.8 741.7L244.6 740.4L247.5 738.9L250.3 737.4L253.2 735.6L256 733.5L258.9 731.1L261.7 728.4L264.6 725.5L267.4 722.5L270.2 719.5L273.1 716.7L275.9 714L278.8 711.3L281.6 708.7L284.5 706.1L287.3 703.5L290.2 701" fill="none" stroke="#ff0000" stroke-width="1.6" stroke-linejoin="round" stroke-linecap="round"/>
<path d="M65.4 848.4L68.2 847.6L71.1 846.8L73.9 845.9L76.8 845L79.6 844.1L82.4 843.1L85.3 842.1L88.1 841.1L91 840L93.8 838.9L96.7 837.8L99.5 836.6L102.4 835.4L105.2 834.2L108.1 833L110.9 831.8L113.7 830.5L116.6 829.1L119.4 827.7L122.3 826.3L125.1 824.7L128 823.2L130.8 821.6L133.7 819.9L136.5 818.2L139.4 816.5L142.2 814.8L145 813.1L147.9 811.3L150.7 809.6L153.6 807.8L156.4 806L159.3 804.2L162.1 802.4L165 800.5L167.8 798.6L170.7 796.7L173.5 794.7L176.3 792.8L179.2 790.8L182 788.7L184.9 786.7L187.7 784.6L190.6 782.5L193.4 780.3L196.3 778L199.1 775.7L202 773.3L204.8 770.9L207.6 768.4L210.5 766L213.3 763.6L216.2 761.2L219 758.8L221.9 756.6L224.7 754.4L227.6 752.3L230.4 750.3L233.3 748.4L236.1 746.7L238.9 745L241.8 743.2L244.6 741.5L247.5 739.7L250.3 737.7L253.2 735.6L256 733.3L258.9 730.8L261.7 728L264.6 725.2L267.4 722.3L270.2 719.5L273.1 716.7L275.9 714L278.8 711.3L281.6 708.7L284.5 706.1L287.3 703.5L290.2 701" fill="none" stroke="#ff0000" stroke-width="1.6" stroke-linejoin="round" stroke-linecap="round"/>
<path d="M65.4 859.2L68.2 858.3L71.1 857.3L73.9 856.3L76.8 855.2L79.6 854.1L82.4 852.9L85.3 851.8L88.1 850.6L91 849.3L93.8 848L96.7 846.7L99.5 845.4L102.4 844.1L105.2 842.7L108.1 841.3L110.9 839.9L113.7 838.4L116.6 836.9L119.4 835.3L122.3 833.7L125.1 832L128 830.3L130.8 828.5L133.7 826.7L136.5 824.9L139.4 823L142.2 821.1L145 819.3L147.9 817.4L150.7 815.4L153.6 813.5L156.4 811.6L159.3 809.6L162.1 807.5L165 805.5L167.8 803.4L170.7 801.3L173.5 799.2L176.3 797.1L179.2 794.9L182 792.7L184.9 790.5L187.7 788.3L190.6 786L193.4 783.7L196.3 781.3L199.1 778.9L202 776.4L204.8 773.9L207.6 771.4L210.5 768.9L213.3 766.4L216.2 763.9L219 761.5L221.9 759L224.7 756.7L227.6 754.4L230.4 752.2L233.3 750.2L236.1 748.1L238.9 746.1L241.8 744.2L244.6 742.2L247.5 740.1L250.3 737.9L253.2 735.6L256 733.2L258.9 730.6L261.7 727.9L264.6 725.1L267.4 722.2L270.2 719.4L273.1 716.6L275.9 714L278.8 711.3L281.6 708.7L284.5 706.1L287.3 703.5L290.2 701" fill="none" stroke="#ff0000" stroke-width="1.6" stroke-linejoin="round" stroke-linecap="round"/>
<path d="M65.4 869.4L68.2 867.9L71.1 866.4L73.9 864.9L76.8 863.4L79.6 861.8L82.4 860.3L85.3 858.7L88.1 857.1L91 855.5L93.8 853.9L96.7 852.3L99.5 850.6L102.4 848.9L105.2 847.3L108.1 845.6L110.9 843.9L113.7 842.2L116.6 840.5L119.4 838.8L122.3 837L125.1 835.2L128 833.5L130.8 831.7L133.7 829.8L136.5 828L139.4 826.1L142.2 824.2L145 822.3L147.9 820.4L150.7 818.5L153.6 816.5L156.4 814.5L159.3 812.5L162.1 810.5L165 808.4L167.8 806.3L170.7 804.2L173.5 802.1L176.3 799.9L179.2 797.7L182 795.5L184.9 793.3L187.7 791L190.6 788.7L193.4 786.3L196.3 783.8L199.1 781.3L202 778.7L204.8 776.2L207.6 773.5L210.5 770.9L213.3 768.3L216.2 765.7L219 763.1L221.9 760.6L224.7 758.1L227.6 755.7L230.4 753.4L233.3 751.1L236.1 749L238.9 746.8L241.8 744.7L244.6 742.5L247.5 740.3L250.3 738L253.2 735.7L256 733.1L258.9 730.5L261.7 727.8L264.6 725L267.4 722.2L270.2 719.4L273.1 716.6L275.9 714L278.8 711.3L281.6 708.7L284.5 706.1L287.3 703.5L290.2 701" fill="none" stroke="#ff0000" stroke-width="1.6" stroke-linejoin="round" stroke-linecap="round"/>
<path d="M65.4 877.1L68.2 875.6L71.1 874L73.9 872.5L76.8 870.9L79.6 869.3L82.4 867.7L85.3 866L88.1 864.3L91 862.6L93.8 860.9L96.7 859.2L99.5 857.4L102.4 855.6L105.2 853.9L108.1 852L110.9 850.2L113.7 848.4L116.6 846.5L119.4 844.6L122.3 842.6L125.1 840.6L128 838.6L130.8 836.6L133.7 834.5L136.5 832.5L139.4 830.4L142.2 828.3L145 826.2L147.9 824.1L150.7 822L153.6 819.9L156.4 817.8L159.3 815.7L162.1 813.6L165 811.5L167.8 809.4L170.7 807.2L173.5 805L176.3 802.8L179.2 800.6L182 798.4L184.9 796.1L187.7 793.7L190.6 791.3L193.4 788.8L196.3 786.3L199.1 783.7L202 781L204.8 778.2L207.6 775.5L210.5 772.7L213.3 770L216.2 767.3L219 764.6L221.9 761.9L224.7 759.3L227.6 756.8L230.4 754.3L233.3 752L236.1 749.7L238.9 747.4L241.8 745.1L244.6 742.8L247.5 740.5L250.3 738.1L253.2 735.7L256 733.1L258.9 730.4L261.7 727.7L264.6 724.9L267.4 722.1L270.2 719.4L273.1 716.6L275.9 714L278.8 711.3L281.6 708.7L284.5 706.1L287.3 703.5L290.2 701" fill="none" stroke="#ff0000" stroke-width="1.6" stroke-linejoin="round" stroke-linecap="round"/>
<path d="M65.4 883.6L68.2 881.9L71.1 880.1L73.9 878.3L76.8 876.5L79.6 874.7L82.4 872.9L85.3 871L88.1 869.2L91 867.3L93.8 865.4L96.7 863.5L99.5 861.6L102.4 859.7L105.2 857.8L108.1 855.8L110.9 853.8L113.7 851.9L116.6 849.9L119.4 847.8L122.3 845.8L125.1 843.7L128 841.7L130.8 839.6L133.7 837.4L136.5 835.3L139.4 833.2L142.2 831.1L145 828.9L147.9 826.8L150.7 824.7L153.6 822.6L156.4 820.5L159.3 818.4L162.1 816.3L165 814.2L167.8 812.1L170.7 809.9L173.5 807.8L176.3 805.6L179.2 803.4L182 801.1L184.9 798.8L187.7 796.4L190.6 794L193.4 791.4L196.3 788.8L199.1 786L202 783.2L204.8 780.3L207.6 777.4L210.5 774.5L213.3 771.6L216.2 768.7L219 765.9L221.9 763.1L224.7 760.3L227.6 757.7L230.4 755.1L233.3 752.6L236.1 750.2L238.9 747.8L241.8 745.4L244.6 743.1L247.5 740.7L250.3 738.2L253.2 735.7L256 733.1L258.9 730.4L261.7 727.6L264.6 724.9L267.4 722.1L270.2 719.4L273.1 716.6L275.9 714L278.8 711.3L281.6 708.7L284.5 706.1L287.3 703.5L290.2 701" fill="none" stroke="#ff0000" stroke-width="1.6" stroke-linejoin="round" stroke-linecap="round"/>
<rect x="257.4" y="785.3" width="52.3" height="87.1" fill="#fff" stroke="#222" stroke-width="1"/>
<rect x="267.3" y="790.3" width="4.4" height="4.4" fill="#fff" stroke="#222" stroke-width="0.9"/>
<text x="283.6" y="795.9" font-family="'Liberation Sans', sans-serif" font-weight="bold" font-size="9.4">323 K</text>
<circle cx="269.5" cy="804.6" r="2.6" fill="#fff" stroke="#ff8c1a" stroke-width="0.9"/>
<text x="283.6" y="808" font-family="'Liberation Sans', sans-serif" font-weight="bold" font-size="9.4">325 K</text>
<path d="M269.5 813.7L272.5 818.9L266.5 818.9Z" fill="#0000ff" stroke="#0000ff" stroke-width="0.3"/>
<text x="283.6" y="820.1" font-family="'Liberation Sans', sans-serif" font-weight="bold" font-size="9.4">327 K</text>
<path d="M269.5 831.7L272.5 826.5L266.5 826.5Z" fill="#ff00ff" stroke="#ff00ff" stroke-width="0.3"/>
<text x="283.6" y="832.1" font-family="'Liberation Sans', sans-serif" font-weight="bold" font-size="9.4">329 K</text>
<path d="M269.5 837.7L272.6 840.8L269.5 843.9L266.4 840.8Z" fill="#008000" stroke="#008000" stroke-width="0.3"/>
<text x="283.6" y="844.2" font-family="'Liberation Sans', sans-serif" font-weight="bold" font-size="9.4">331 K</text>
<path d="M272.5 852.9L267.2 849.9L267.2 855.9Z" fill="#8000ff" stroke="#8000ff" stroke-width="0.3"/>
<text x="283.6" y="856.3" font-family="'Liberation Sans', sans-serif" font-weight="bold" font-size="9.4">335 K</text>
<circle cx="269.5" cy="865" r="2.5" fill="#2e5fa8" stroke="none"/><circle cx="268.8" cy="864.2" r="0.9" fill="#9fc0e8" stroke="none"/>
<text x="283.6" y="868.4" font-family="'Liberation Sans', sans-serif" font-weight="bold" font-size="9.4">343 K</text>
<g><rect x="393.4" y="880.4" width="4.4" height="4.4" fill="#000" stroke="#000" stroke-width="0.3"/><rect x="398.2" y="878.4" width="4.4" height="4.4" fill="#000" stroke="#000" stroke-width="0.3"/><rect x="403" y="876.4" width="4.4" height="4.4" fill="#000" stroke="#000" stroke-width="0.3"/><rect x="407.8" y="874.1" width="4.4" height="4.4" fill="#000" stroke="#000" stroke-width="0.3"/><rect x="412.6" y="871.8" width="4.4" height="4.4" fill="#000" stroke="#000" stroke-width="0.3"/><rect x="417.4" y="869.4" width="4.4" height="4.4" fill="#000" stroke="#000" stroke-width="0.3"/><rect x="422.2" y="866.8" width="4.4" height="4.4" fill="#000" stroke="#000" stroke-width="0.3"/><rect x="427" y="864.1" width="4.4" height="4.4" fill="#000" stroke="#000" stroke-width="0.3"/><rect x="431.8" y="861.2" width="4.4" height="4.4" fill="#000" stroke="#000" stroke-width="0.3"/><rect x="436.6" y="858.2" width="4.4" height="4.4" fill="#000" stroke="#000" stroke-width="0.3"/><rect x="441.4" y="855.1" width="4.4" height="4.4" fill="#000" stroke="#000" stroke-width="0.3"/><rect x="446.2" y="851.8" width="4.4" height="4.4" fill="#000" stroke="#000" stroke-width="0.3"/><rect x="451" y="848.3" width="4.4" height="4.4" fill="#000" stroke="#000" stroke-width="0.3"/><rect x="455.8" y="844.6" width="4.4" height="4.4" fill="#000" stroke="#000" stroke-width="0.3"/><rect x="460.6" y="840.5" width="4.4" height="4.4" fill="#000" stroke="#000" stroke-width="0.3"/><rect x="465.4" y="836.4" width="4.4" height="4.4" fill="#000" stroke="#000" stroke-width="0.3"/><rect x="470.2" y="832.1" width="4.4" height="4.4" fill="#000" stroke="#000" stroke-width="0.3"/><rect x="475" y="827.8" width="4.4" height="4.4" fill="#000" stroke="#000" stroke-width="0.3"/><rect x="479.8" y="823.5" width="4.4" height="4.4" fill="#000" stroke="#000" stroke-width="0.3"/><rect x="484.6" y="819.4" width="4.4" height="4.4" fill="#000" stroke="#000" stroke-width="0.3"/><rect x="489.4" y="815.2" width="4.4" height="4.4" fill="#000" stroke="#000" stroke-width="0.3"/><rect x="494.2" y="811" width="4.4" height="4.4" fill="#000" stroke="#000" stroke-width="0.3"/><rect x="499" y="806.8" width="4.4" height="4.4" fill="#000" stroke="#000" stroke-width="0.3"/><rect x="503.8" y="802.6" width="4.4" height="4.4" fill="#000" stroke="#000" stroke-width="0.3"/><rect x="508.6" y="798.4" width="4.4" height="4.4" fill="#000" stroke="#000" stroke-width="0.3"/><rect x="513.4" y="794.2" width="4.4" height="4.4" fill="#000" stroke="#000" stroke-width="0.3"/><rect x="518.2" y="789.9" width="4.4" height="4.4" fill="#000" stroke="#000" stroke-width="0.3"/><rect x="523" y="785.7" width="4.4" height="4.4" fill="#000" stroke="#000" stroke-width="0.3"/><rect x="527.8" y="781.5" width="4.4" height="4.4" fill="#000" stroke="#000" stroke-width="0.3"/><rect x="532.6" y="777.3" width="4.4" height="4.4" fill="#000" stroke="#000" stroke-width="0.3"/><rect x="537.4" y="773.1" width="4.4" height="4.4" fill="#000" stroke="#000" stroke-width="0.3"/><rect x="542.2" y="769" width="4.4" height="4.4" fill="#000" stroke="#000" stroke-width="0.3"/><rect x="547" y="764.8" width="4.4" height="4.4" fill="#000" stroke="#000" stroke-width="0.3"/><rect x="551.8" y="760.7" width="4.4" height="4.4" fill="#000" stroke="#000" stroke-width="0.3"/><rect x="556.6" y="756.6" width="4.4" height="4.4" fill="#000" stroke="#000" stroke-width="0.3"/><rect x="561.4" y="752.5" width="4.4" height="4.4" fill="#000" stroke="#000" stroke-width="0.3"/><rect x="566.2" y="748.4" width="4.4" height="4.4" fill="#000" stroke="#000" stroke-width="0.3"/><rect x="571" y="744.5" width="4.4" height="4.4" fill="#000" stroke="#000" stroke-width="0.3"/><rect x="575.8" y="740.6" width="4.4" height="4.4" fill="#000" stroke="#000" stroke-width="0.3"/><rect x="580.6" y="736.4" width="4.4" height="4.4" fill="#000" stroke="#000" stroke-width="0.3"/><rect x="585.4" y="732.1" width="4.4" height="4.4" fill="#000" stroke="#000" stroke-width="0.3"/><rect x="590.2" y="727.9" width="4.4" height="4.4" fill="#000" stroke="#000" stroke-width="0.3"/><rect x="595" y="723.7" width="4.4" height="4.4" fill="#000" stroke="#000" stroke-width="0.3"/><rect x="599.8" y="719.9" width="4.4" height="4.4" fill="#000" stroke="#000" stroke-width="0.3"/><rect x="604.6" y="716" width="4.4" height="4.4" fill="#000" stroke="#000" stroke-width="0.3"/><rect x="609.4" y="711" width="4.4" height="4.4" fill="#000" stroke="#000" stroke-width="0.3"/><rect x="614.2" y="705" width="4.4" height="4.4" fill="#000" stroke="#000" stroke-width="0.3"/></g>
<g><path d="M395.6 877.2L398.8 880.4L395.6 883.6L392.4 880.4Z" fill="#008000" stroke="#008000" stroke-width="0.3"/><path d="M400.4 875.9L403.6 879.1L400.4 882.3L397.2 879.1Z" fill="#008000" stroke="#008000" stroke-width="0.3"/><path d="M405.2 874.3L408.4 877.5L405.2 880.7L402 877.5Z" fill="#008000" stroke="#008000" stroke-width="0.3"/><path d="M410 872.5L413.2 875.7L410 878.9L406.8 875.7Z" fill="#008000" stroke="#008000" stroke-width="0.3"/><path d="M414.8 870.6L418 873.8L414.8 877L411.6 873.8Z" fill="#008000" stroke="#008000" stroke-width="0.3"/><path d="M419.6 868.5L422.8 871.7L419.6 874.9L416.4 871.7Z" fill="#008000" stroke="#008000" stroke-width="0.3"/><path d="M424.4 866L427.6 869.2L424.4 872.4L421.2 869.2Z" fill="#008000" stroke="#008000" stroke-width="0.3"/><path d="M429.2 863.3L432.4 866.5L429.2 869.7L426 866.5Z" fill="#008000" stroke="#008000" stroke-width="0.3"/><path d="M434 860.3L437.2 863.5L434 866.7L430.8 863.5Z" fill="#008000" stroke="#008000" stroke-width="0.3"/><path d="M438.8 857.2L442 860.4L438.8 863.6L435.6 860.4Z" fill="#008000" stroke="#008000" stroke-width="0.3"/><path d="M443.6 853.9L446.8 857.1L443.6 860.3L440.4 857.1Z" fill="#008000" stroke="#008000" stroke-width="0.3"/><path d="M448.4 850.5L451.6 853.7L448.4 856.9L445.2 853.7Z" fill="#008000" stroke="#008000" stroke-width="0.3"/><path d="M453.2 847L456.4 850.2L453.2 853.4L450 850.2Z" fill="#008000" stroke="#008000" stroke-width="0.3"/><path d="M458 843.2L461.2 846.4L458 849.6L454.8 846.4Z" fill="#008000" stroke="#008000" stroke-width="0.3"/><path d="M462.8 839.3L466 842.5L462.8 845.7L459.6 842.5Z" fill="#008000" stroke="#008000" stroke-width="0.3"/><path d="M467.6 835.2L470.8 838.4L467.6 841.6L464.4 838.4Z" fill="#008000" stroke="#008000" stroke-width="0.3"/><path d="M472.4 830.9L475.6 834.1L472.4 837.3L469.2 834.1Z" fill="#008000" stroke="#008000" stroke-width="0.3"/><path d="M477.2 826.7L480.4 829.9L477.2 833.1L474 829.9Z" fill="#008000" stroke="#008000" stroke-width="0.3"/><path d="M482 822.5L485.2 825.7L482 828.9L478.8 825.7Z" fill="#008000" stroke="#008000" stroke-width="0.3"/><path d="M486.8 818.4L490 821.6L486.8 824.8L483.6 821.6Z" fill="#008000" stroke="#008000" stroke-width="0.3"/><path d="M491.6 814.2L494.8 817.4L491.6 820.6L488.4 817.4Z" fill="#008000" stroke="#008000" stroke-width="0.3"/><path d="M496.4 810.1L499.6 813.3L496.4 816.5L493.2 813.3Z" fill="#008000" stroke="#008000" stroke-width="0.3"/><path d="M501.2 805.9L504.4 809.1L501.2 812.3L498 809.1Z" fill="#008000" stroke="#008000" stroke-width="0.3"/><path d="M506 801.7L509.2 804.9L506 808.1L502.8 804.9Z" fill="#008000" stroke="#008000" stroke-width="0.3"/><path d="M510.8 797.4L514 800.6L510.8 803.8L507.6 800.6Z" fill="#008000" stroke="#008000" stroke-width="0.3"/><path d="M515.6 793.2L518.8 796.4L515.6 799.6L512.4 796.4Z" fill="#008000" stroke="#008000" stroke-width="0.3"/><path d="M520.4 789L523.6 792.2L520.4 795.4L517.2 792.2Z" fill="#008000" stroke="#008000" stroke-width="0.3"/><path d="M525.2 784.7L528.4 787.9L525.2 791.1L522 787.9Z" fill="#008000" stroke="#008000" stroke-width="0.3"/><path d="M530 780.5L533.2 783.7L530 786.9L526.8 783.7Z" fill="#008000" stroke="#008000" stroke-width="0.3"/><path d="M534.8 776.3L538 779.5L534.8 782.7L531.6 779.5Z" fill="#008000" stroke="#008000" stroke-width="0.3"/><path d="M539.6 772.1L542.8 775.3L539.6 778.5L536.4 775.3Z" fill="#008000" stroke="#008000" stroke-width="0.3"/><path d="M544.4 768L547.6 771.2L544.4 774.4L541.2 771.2Z" fill="#008000" stroke="#008000" stroke-width="0.3"/><path d="M549.2 763.8L552.4 767L549.2 770.2L546 767Z" fill="#008000" stroke="#008000" stroke-width="0.3"/><path d="M554 759.7L557.2 762.9L554 766.1L550.8 762.9Z" fill="#008000" stroke="#008000" stroke-width="0.3"/><path d="M558.8 755.6L562 758.8L558.8 762L555.6 758.8Z" fill="#008000" stroke="#008000" stroke-width="0.3"/><path d="M563.6 751.5L566.8 754.7L563.6 757.9L560.4 754.7Z" fill="#008000" stroke="#008000" stroke-width="0.3"/><path d="M568.4 747.4L571.6 750.6L568.4 753.8L565.2 750.6Z" fill="#008000" stroke="#008000" stroke-width="0.3"/><path d="M573.2 743.5L576.4 746.7L573.2 749.9L570 746.7Z" fill="#008000" stroke="#008000" stroke-width="0.3"/><path d="M578 739.6L581.2 742.8L578 746L574.8 742.8Z" fill="#008000" stroke="#008000" stroke-width="0.3"/><path d="M582.8 735.4L586 738.6L582.8 741.8L579.6 738.6Z" fill="#008000" stroke="#008000" stroke-width="0.3"/><path d="M587.6 731.1L590.8 734.3L587.6 737.5L584.4 734.3Z" fill="#008000" stroke="#008000" stroke-width="0.3"/><path d="M592.4 726.9L595.6 730.1L592.4 733.3L589.2 730.1Z" fill="#008000" stroke="#008000" stroke-width="0.3"/><path d="M597.2 722.7L600.4 725.9L597.2 729.1L594 725.9Z" fill="#008000" stroke="#008000" stroke-width="0.3"/><path d="M602 718.9L605.2 722.1L602 725.3L598.8 722.1Z" fill="#008000" stroke="#008000" stroke-width="0.3"/><path d="M606.8 715L610 718.2L606.8 721.4L603.6 718.2Z" fill="#008000" stroke="#008000" stroke-width="0.3"/><path d="M611.6 710L614.8 713.2L611.6 716.4L608.4 713.2Z" fill="#008000" stroke="#008000" stroke-width="0.3"/><path d="M616.4 704L619.6 707.2L616.4 710.4L613.2 707.2Z" fill="#008000" stroke="#008000" stroke-width="0.3"/></g>
<g><path d="M395.6 878.4L396.4 880.5L398.6 880.6L396.9 882L397.5 884.2L395.6 882.9L393.7 884.2L394.3 882L392.5 880.6L394.8 880.5Z" fill="#800000" stroke="#800000" stroke-width="0.2"/><path d="M400.4 876.1L401.2 878.2L403.4 878.3L401.7 879.7L402.3 881.9L400.4 880.6L398.5 881.9L399.1 879.7L397.3 878.3L399.6 878.2Z" fill="#800000" stroke="#800000" stroke-width="0.2"/><path d="M405.2 873.7L406 875.8L408.2 875.9L406.5 877.3L407.1 879.5L405.2 878.3L403.3 879.5L403.9 877.3L402.1 875.9L404.4 875.8Z" fill="#800000" stroke="#800000" stroke-width="0.2"/><path d="M410 871.3L410.8 873.4L413 873.5L411.3 874.9L411.9 877.1L410 875.8L408.1 877.1L408.7 874.9L406.9 873.5L409.2 873.4Z" fill="#800000" stroke="#800000" stroke-width="0.2"/><path d="M414.8 868.8L415.6 870.9L417.8 871L416.1 872.4L416.7 874.5L414.8 873.3L412.9 874.5L413.5 872.4L411.7 871L414 870.9Z" fill="#800000" stroke="#800000" stroke-width="0.2"/><path d="M419.6 866.1L420.4 868.3L422.6 868.3L420.9 869.8L421.5 871.9L419.6 870.7L417.7 871.9L418.3 869.8L416.5 868.3L418.8 868.3Z" fill="#800000" stroke="#800000" stroke-width="0.2"/><path d="M424.4 863.5L425.2 865.6L427.4 865.7L425.7 867.1L426.3 869.3L424.4 868L422.5 869.3L423.1 867.1L421.3 865.7L423.6 865.6Z" fill="#800000" stroke="#800000" stroke-width="0.2"/><path d="M429.2 860.7L430 862.8L432.2 862.9L430.5 864.4L431.1 866.5L429.2 865.3L427.3 866.5L427.9 864.4L426.1 862.9L428.4 862.8Z" fill="#800000" stroke="#800000" stroke-width="0.2"/><path d="M434 857.9L434.8 860L437 860.1L435.3 861.5L435.9 863.7L434 862.5L432.1 863.7L432.7 861.5L430.9 860.1L433.2 860Z" fill="#800000" stroke="#800000" stroke-width="0.2"/><path d="M438.8 855L439.6 857.1L441.8 857.2L440.1 858.6L440.7 860.8L438.8 859.6L436.9 860.8L437.5 858.6L435.7 857.2L438 857.1Z" fill="#800000" stroke="#800000" stroke-width="0.2"/><path d="M443.6 852L444.4 854.1L446.6 854.2L444.9 855.6L445.5 857.8L443.6 856.5L441.7 857.8L442.3 855.6L440.5 854.2L442.8 854.1Z" fill="#800000" stroke="#800000" stroke-width="0.2"/><path d="M448.4 848.8L449.2 850.9L451.4 851L449.7 852.4L450.3 854.6L448.4 853.3L446.5 854.6L447.1 852.4L445.3 851L447.6 850.9Z" fill="#800000" stroke="#800000" stroke-width="0.2"/><path d="M453.2 845.4L454 847.5L456.2 847.6L454.5 849L455.1 851.2L453.2 850L451.3 851.2L451.9 849L450.2 847.6L452.4 847.5Z" fill="#800000" stroke="#800000" stroke-width="0.2"/><path d="M458 841.8L458.8 844L461 844.1L459.3 845.5L459.9 847.6L458 846.4L456.1 847.6L456.7 845.5L455 844.1L457.2 844Z" fill="#800000" stroke="#800000" stroke-width="0.2"/><path d="M462.8 838.1L463.6 840.2L465.8 840.3L464.1 841.7L464.7 843.9L462.8 842.6L460.9 843.9L461.5 841.7L459.8 840.3L462 840.2Z" fill="#800000" stroke="#800000" stroke-width="0.2"/><path d="M467.6 834.2L468.4 836.3L470.6 836.4L468.9 837.8L469.5 840L467.6 838.7L465.7 840L466.3 837.8L464.6 836.4L466.8 836.3Z" fill="#800000" stroke="#800000" stroke-width="0.2"/><path d="M472.4 830.2L473.2 832.3L475.4 832.4L473.7 833.8L474.3 836L472.4 834.7L470.5 836L471.1 833.8L469.4 832.4L471.6 832.3Z" fill="#800000" stroke="#800000" stroke-width="0.2"/><path d="M477.2 826.1L478 828.2L480.2 828.3L478.5 829.7L479.1 831.9L477.2 830.7L475.3 831.9L475.9 829.7L474.2 828.3L476.4 828.2Z" fill="#800000" stroke="#800000" stroke-width="0.2"/><path d="M482 822.1L482.8 824.2L485 824.3L483.3 825.7L483.9 827.9L482 826.6L480.1 827.9L480.7 825.7L479 824.3L481.2 824.2Z" fill="#800000" stroke="#800000" stroke-width="0.2"/><path d="M486.8 818.1L487.6 820.2L489.8 820.3L488.1 821.7L488.7 823.9L486.8 822.6L484.9 823.9L485.5 821.7L483.8 820.3L486 820.2Z" fill="#800000" stroke="#800000" stroke-width="0.2"/><path d="M491.6 814L492.4 816.1L494.6 816.2L492.9 817.6L493.5 819.8L491.6 818.6L489.7 819.8L490.3 817.6L488.6 816.2L490.8 816.1Z" fill="#800000" stroke="#800000" stroke-width="0.2"/><path d="M496.4 809.9L497.2 812L499.4 812.1L497.7 813.6L498.3 815.7L496.4 814.5L494.5 815.7L495.1 813.6L493.4 812.1L495.6 812Z" fill="#800000" stroke="#800000" stroke-width="0.2"/><path d="M501.2 805.8L502 807.9L504.2 808L502.5 809.4L503.1 811.6L501.2 810.3L499.3 811.6L499.9 809.4L498.2 808L500.4 807.9Z" fill="#800000" stroke="#800000" stroke-width="0.2"/><path d="M506 801.6L506.8 803.7L509 803.8L507.3 805.2L507.9 807.4L506 806.2L504.1 807.4L504.7 805.2L503 803.8L505.2 803.7Z" fill="#800000" stroke="#800000" stroke-width="0.2"/><path d="M510.8 797.4L511.6 799.5L513.8 799.6L512.1 801L512.7 803.2L510.8 802L508.9 803.2L509.5 801L507.8 799.6L510 799.5Z" fill="#800000" stroke="#800000" stroke-width="0.2"/><path d="M515.6 793.2L516.4 795.3L518.6 795.4L516.9 796.8L517.5 799L515.6 797.7L513.7 799L514.3 796.8L512.6 795.4L514.8 795.3Z" fill="#800000" stroke="#800000" stroke-width="0.2"/><path d="M520.4 789L521.2 791.1L523.5 791.2L521.7 792.6L522.3 794.8L520.4 793.5L518.5 794.8L519.1 792.6L517.4 791.2L519.6 791.1Z" fill="#800000" stroke="#800000" stroke-width="0.2"/><path d="M525.2 784.7L526 786.9L528.3 787L526.5 788.4L527.1 790.5L525.2 789.3L523.3 790.5L523.9 788.4L522.2 787L524.4 786.9Z" fill="#800000" stroke="#800000" stroke-width="0.2"/><path d="M530 780.5L530.8 782.6L533.1 782.7L531.3 784.1L531.9 786.3L530 785.1L528.1 786.3L528.7 784.1L527 782.7L529.2 782.6Z" fill="#800000" stroke="#800000" stroke-width="0.2"/><path d="M534.8 776.3L535.6 778.4L537.9 778.5L536.1 779.9L536.7 782.1L534.8 780.9L532.9 782.1L533.5 779.9L531.8 778.5L534 778.4Z" fill="#800000" stroke="#800000" stroke-width="0.2"/><path d="M539.6 772.1L540.4 774.2L542.7 774.3L540.9 775.7L541.5 777.9L539.6 776.7L537.7 777.9L538.3 775.7L536.6 774.3L538.8 774.2Z" fill="#800000" stroke="#800000" stroke-width="0.2"/><path d="M544.4 768L545.2 770.1L547.5 770.2L545.7 771.6L546.3 773.8L544.4 772.5L542.5 773.8L543.1 771.6L541.4 770.2L543.6 770.1Z" fill="#800000" stroke="#800000" stroke-width="0.2"/><path d="M549.2 763.8L550 766L552.3 766.1L550.5 767.5L551.1 769.6L549.2 768.4L547.3 769.6L547.9 767.5L546.2 766.1L548.4 766Z" fill="#800000" stroke="#800000" stroke-width="0.2"/><path d="M554 759.7L554.8 761.8L557.1 761.9L555.3 763.3L555.9 765.5L554 764.2L552.1 765.5L552.7 763.3L551 761.9L553.2 761.8Z" fill="#800000" stroke="#800000" stroke-width="0.2"/><path d="M558.8 755.6L559.6 757.7L561.9 757.8L560.1 759.2L560.7 761.4L558.8 760.1L556.9 761.4L557.5 759.2L555.8 757.8L558 757.7Z" fill="#800000" stroke="#800000" stroke-width="0.2"/><path d="M563.6 751.5L564.4 753.6L566.7 753.7L564.9 755.1L565.5 757.3L563.6 756L561.7 757.3L562.3 755.1L560.6 753.7L562.8 753.6Z" fill="#800000" stroke="#800000" stroke-width="0.2"/><path d="M568.4 747.4L569.2 749.5L571.5 749.6L569.7 751.1L570.3 753.2L568.4 752L566.5 753.2L567.1 751.1L565.4 749.6L567.6 749.5Z" fill="#800000" stroke="#800000" stroke-width="0.2"/><path d="M573.2 743.5L574 745.6L576.3 745.7L574.5 747.1L575.1 749.3L573.2 748L571.3 749.3L571.9 747.1L570.2 745.7L572.4 745.6Z" fill="#800000" stroke="#800000" stroke-width="0.2"/><path d="M578 739.6L578.8 741.7L581.1 741.8L579.3 743.2L579.9 745.4L578 744.1L576.1 745.4L576.7 743.2L575 741.8L577.2 741.7Z" fill="#800000" stroke="#800000" stroke-width="0.2"/><path d="M582.8 735.4L583.6 737.6L585.9 737.7L584.1 739.1L584.7 741.2L582.8 740L580.9 741.2L581.5 739.1L579.8 737.7L582 737.6Z" fill="#800000" stroke="#800000" stroke-width="0.2"/><path d="M587.6 731.1L588.4 733.3L590.7 733.4L588.9 734.8L589.5 736.9L587.6 735.7L585.7 736.9L586.3 734.8L584.6 733.4L586.8 733.3Z" fill="#800000" stroke="#800000" stroke-width="0.2"/><path d="M592.4 726.9L593.2 729L595.5 729.1L593.7 730.5L594.3 732.7L592.4 731.5L590.5 732.7L591.1 730.5L589.4 729.1L591.6 729Z" fill="#800000" stroke="#800000" stroke-width="0.2"/><path d="M597.2 722.7L598 724.9L600.3 725L598.5 726.4L599.1 728.5L597.2 727.3L595.3 728.5L595.9 726.4L594.2 725L596.4 724.9Z" fill="#800000" stroke="#800000" stroke-width="0.2"/><path d="M602 718.9L602.8 721L605.1 721.1L603.3 722.5L603.9 724.6L602 723.4L600.1 724.6L600.7 722.5L599 721.1L601.2 721Z" fill="#800000" stroke="#800000" stroke-width="0.2"/><path d="M606.8 715L607.6 717.1L609.9 717.2L608.1 718.6L608.7 720.8L606.8 719.5L604.9 720.8L605.5 718.6L603.8 717.2L606 717.1Z" fill="#800000" stroke="#800000" stroke-width="0.2"/><path d="M611.6 710L612.4 712.1L614.7 712.2L612.9 713.6L613.5 715.8L611.6 714.6L609.7 715.8L610.3 713.6L608.6 712.2L610.8 712.1Z" fill="#800000" stroke="#800000" stroke-width="0.2"/><path d="M616.4 704L617.2 706.1L619.5 706.2L617.7 707.6L618.3 709.8L616.4 708.6L614.5 709.8L615.1 707.6L613.4 706.2L615.6 706.1Z" fill="#800000" stroke="#800000" stroke-width="0.2"/></g>
<g><path d="M392.9 875.5L398.3 880.9M392.9 880.9L398.3 875.5M395.6 875.5L395.6 880.9M392.9 878.2L398.3 878.2" stroke="#22dd55" stroke-width="0.8" fill="none"/><path d="M397.7 873.5L403.1 878.9M397.7 878.9L403.1 873.5M400.4 873.5L400.4 878.9M397.7 876.2L403.1 876.2" stroke="#22dd55" stroke-width="0.8" fill="none"/><path d="M402.5 871.4L407.9 876.8M402.5 876.8L407.9 871.4M405.2 871.4L405.2 876.8M402.5 874.1L407.9 874.1" stroke="#22dd55" stroke-width="0.8" fill="none"/><path d="M407.3 869.1L412.7 874.5M407.3 874.5L412.7 869.1M410 869.1L410 874.5M407.3 871.8L412.7 871.8" stroke="#22dd55" stroke-width="0.8" fill="none"/><path d="M412.1 866.8L417.5 872.2M412.1 872.2L417.5 866.8M414.8 866.8L414.8 872.2M412.1 869.5L417.5 869.5" stroke="#22dd55" stroke-width="0.8" fill="none"/><path d="M416.9 864.4L422.3 869.8M416.9 869.8L422.3 864.4M419.6 864.4L419.6 869.8M416.9 867.1L422.3 867.1" stroke="#22dd55" stroke-width="0.8" fill="none"/><path d="M421.7 861.8L427.1 867.2M421.7 867.2L427.1 861.8M424.4 861.8L424.4 867.2M421.7 864.5L427.1 864.5" stroke="#22dd55" stroke-width="0.8" fill="none"/><path d="M426.5 859.2L431.9 864.6M426.5 864.6L431.9 859.2M429.2 859.2L429.2 864.6M426.5 861.9L431.9 861.9" stroke="#22dd55" stroke-width="0.8" fill="none"/><path d="M431.3 856.5L436.7 861.9M431.3 861.9L436.7 856.5M434 856.5L434 861.9M431.3 859.2L436.7 859.2" stroke="#22dd55" stroke-width="0.8" fill="none"/><path d="M436.1 853.6L441.5 859M436.1 859L441.5 853.6M438.8 853.6L438.8 859M436.1 856.3L441.5 856.3" stroke="#22dd55" stroke-width="0.8" fill="none"/><path d="M440.9 850.7L446.3 856.1M440.9 856.1L446.3 850.7M443.6 850.7L443.6 856.1M440.9 853.4L446.3 853.4" stroke="#22dd55" stroke-width="0.8" fill="none"/><path d="M445.7 847.6L451.1 853M445.7 853L451.1 847.6M448.4 847.6L448.4 853M445.7 850.3L451.1 850.3" stroke="#22dd55" stroke-width="0.8" fill="none"/><path d="M450.5 844.4L455.9 849.8M450.5 849.8L455.9 844.4M453.2 844.4L453.2 849.8M450.5 847.1L455.9 847.1" stroke="#22dd55" stroke-width="0.8" fill="none"/><path d="M455.3 841L460.7 846.4M455.3 846.4L460.7 841M458 841L458 846.4M455.3 843.7L460.7 843.7" stroke="#22dd55" stroke-width="0.8" fill="none"/><path d="M460.1 837.5L465.5 842.9M460.1 842.9L465.5 837.5M462.8 837.5L462.8 842.9M460.1 840.2L465.5 840.2" stroke="#22dd55" stroke-width="0.8" fill="none"/><path d="M464.9 833.8L470.3 839.2M464.9 839.2L470.3 833.8M467.6 833.8L467.6 839.2M464.9 836.5L470.3 836.5" stroke="#22dd55" stroke-width="0.8" fill="none"/><path d="M469.7 830L475.1 835.4M469.7 835.4L475.1 830M472.4 830L472.4 835.4M469.7 832.7L475.1 832.7" stroke="#22dd55" stroke-width="0.8" fill="none"/><path d="M474.5 826.2L479.9 831.6M474.5 831.6L479.9 826.2M477.2 826.2L477.2 831.6M474.5 828.9L479.9 828.9" stroke="#22dd55" stroke-width="0.8" fill="none"/><path d="M479.3 822.3L484.7 827.7M479.3 827.7L484.7 822.3M482 822.3L482 827.7M479.3 825L484.7 825" stroke="#22dd55" stroke-width="0.8" fill="none"/><path d="M484.1 818.5L489.5 823.9M484.1 823.9L489.5 818.5M486.8 818.5L486.8 823.9M484.1 821.2L489.5 821.2" stroke="#22dd55" stroke-width="0.8" fill="none"/><path d="M488.9 814.5L494.3 819.9M488.9 819.9L494.3 814.5M491.6 814.5L491.6 819.9M488.9 817.2L494.3 817.2" stroke="#22dd55" stroke-width="0.8" fill="none"/><path d="M493.7 810.5L499.1 815.9M493.7 815.9L499.1 810.5M496.4 810.5L496.4 815.9M493.7 813.2L499.1 813.2" stroke="#22dd55" stroke-width="0.8" fill="none"/><path d="M498.5 806.3L503.9 811.7M498.5 811.7L503.9 806.3M501.2 806.3L501.2 811.7M498.5 809L503.9 809" stroke="#22dd55" stroke-width="0.8" fill="none"/><path d="M503.3 802.2L508.7 807.6M503.3 807.6L508.7 802.2M506 802.2L506 807.6M503.3 804.9L508.7 804.9" stroke="#22dd55" stroke-width="0.8" fill="none"/><path d="M508.1 797.9L513.5 803.3M508.1 803.3L513.5 797.9M510.8 797.9L510.8 803.3M508.1 800.6L513.5 800.6" stroke="#22dd55" stroke-width="0.8" fill="none"/><path d="M512.9 793.7L518.3 799.1M512.9 799.1L518.3 793.7M515.6 793.7L515.6 799.1M512.9 796.4L518.3 796.4" stroke="#22dd55" stroke-width="0.8" fill="none"/><path d="M517.7 789.4L523.1 794.8M517.7 794.8L523.1 789.4M520.4 789.4L520.4 794.8M517.7 792.1L523.1 792.1" stroke="#22dd55" stroke-width="0.8" fill="none"/><path d="M522.5 785.2L527.9 790.6M522.5 790.6L527.9 785.2M525.2 785.2L525.2 790.6M522.5 787.9L527.9 787.9" stroke="#22dd55" stroke-width="0.8" fill="none"/><path d="M527.3 780.9L532.7 786.3M527.3 786.3L532.7 780.9M530 780.9L530 786.3M527.3 783.6L532.7 783.6" stroke="#22dd55" stroke-width="0.8" fill="none"/><path d="M532.1 776.7L537.5 782.1M532.1 782.1L537.5 776.7M534.8 776.7L534.8 782.1M532.1 779.4L537.5 779.4" stroke="#22dd55" stroke-width="0.8" fill="none"/><path d="M536.9 772.5L542.3 777.9M536.9 777.9L542.3 772.5M539.6 772.5L539.6 777.9M536.9 775.2L542.3 775.2" stroke="#22dd55" stroke-width="0.8" fill="none"/><path d="M541.7 768.3L547.1 773.7M541.7 773.7L547.1 768.3M544.4 768.3L544.4 773.7M541.7 771L547.1 771" stroke="#22dd55" stroke-width="0.8" fill="none"/><path d="M546.5 764.2L551.9 769.6M546.5 769.6L551.9 764.2M549.2 764.2L549.2 769.6M546.5 766.9L551.9 766.9" stroke="#22dd55" stroke-width="0.8" fill="none"/><path d="M551.3 760.1L556.7 765.5M551.3 765.5L556.7 760.1M554 760.1L554 765.5M551.3 762.8L556.7 762.8" stroke="#22dd55" stroke-width="0.8" fill="none"/><path d="M556.1 756L561.5 761.4M556.1 761.4L561.5 756M558.8 756L558.8 761.4M556.1 758.7L561.5 758.7" stroke="#22dd55" stroke-width="0.8" fill="none"/><path d="M560.9 752L566.3 757.4M560.9 757.4L566.3 752M563.6 752L563.6 757.4M560.9 754.7L566.3 754.7" stroke="#22dd55" stroke-width="0.8" fill="none"/><path d="M565.7 747.9L571.1 753.3M565.7 753.3L571.1 747.9M568.4 747.9L568.4 753.3M565.7 750.6L571.1 750.6" stroke="#22dd55" stroke-width="0.8" fill="none"/><path d="M570.5 744L575.9 749.4M570.5 749.4L575.9 744M573.2 744L573.2 749.4M570.5 746.7L575.9 746.7" stroke="#22dd55" stroke-width="0.8" fill="none"/><path d="M575.3 740.1L580.7 745.5M575.3 745.5L580.7 740.1M578 740.1L578 745.5M575.3 742.8L580.7 742.8" stroke="#22dd55" stroke-width="0.8" fill="none"/><path d="M580.1 735.9L585.5 741.3M580.1 741.3L585.5 735.9M582.8 735.9L582.8 741.3M580.1 738.6L585.5 738.6" stroke="#22dd55" stroke-width="0.8" fill="none"/><path d="M584.9 731.6L590.3 737M584.9 737L590.3 731.6M587.6 731.6L587.6 737M584.9 734.3L590.3 734.3" stroke="#22dd55" stroke-width="0.8" fill="none"/><path d="M589.7 727.4L595.1 732.8M589.7 732.8L595.1 727.4M592.4 727.4L592.4 732.8M589.7 730.1L595.1 730.1" stroke="#22dd55" stroke-width="0.8" fill="none"/><path d="M594.5 723.2L599.9 728.6M594.5 728.6L599.9 723.2M597.2 723.2L597.2 728.6M594.5 725.9L599.9 725.9" stroke="#22dd55" stroke-width="0.8" fill="none"/><path d="M599.3 719.4L604.7 724.8M599.3 724.8L604.7 719.4M602 719.4L602 724.8M599.3 722.1L604.7 722.1" stroke="#22dd55" stroke-width="0.8" fill="none"/><path d="M604.1 715.5L609.5 720.9M604.1 720.9L609.5 715.5M606.8 715.5L606.8 720.9M604.1 718.2L609.5 718.2" stroke="#22dd55" stroke-width="0.8" fill="none"/><path d="M608.9 710.5L614.3 715.9M608.9 715.9L614.3 710.5M611.6 710.5L611.6 715.9M608.9 713.2L614.3 713.2" stroke="#22dd55" stroke-width="0.8" fill="none"/><path d="M613.7 704.5L619.1 709.9M613.7 709.9L619.1 704.5M616.4 704.5L616.4 709.9M613.7 707.2L619.1 707.2" stroke="#22dd55" stroke-width="0.8" fill="none"/></g>
<g><rect x="393.2" y="873.2" width="4.8" height="4.8" fill="#3f3f9f" stroke="#3f3f9f" stroke-width="0.3"/><rect x="398" y="871.3" width="4.8" height="4.8" fill="#3f3f9f" stroke="#3f3f9f" stroke-width="0.3"/><rect x="402.8" y="869.2" width="4.8" height="4.8" fill="#3f3f9f" stroke="#3f3f9f" stroke-width="0.3"/><rect x="407.6" y="867.1" width="4.8" height="4.8" fill="#3f3f9f" stroke="#3f3f9f" stroke-width="0.3"/><rect x="412.4" y="864.9" width="4.8" height="4.8" fill="#3f3f9f" stroke="#3f3f9f" stroke-width="0.3"/><rect x="417.2" y="862.5" width="4.8" height="4.8" fill="#3f3f9f" stroke="#3f3f9f" stroke-width="0.3"/><rect x="422" y="860.1" width="4.8" height="4.8" fill="#3f3f9f" stroke="#3f3f9f" stroke-width="0.3"/><rect x="426.8" y="857.5" width="4.8" height="4.8" fill="#3f3f9f" stroke="#3f3f9f" stroke-width="0.3"/><rect x="431.6" y="854.8" width="4.8" height="4.8" fill="#3f3f9f" stroke="#3f3f9f" stroke-width="0.3"/><rect x="436.4" y="852" width="4.8" height="4.8" fill="#3f3f9f" stroke="#3f3f9f" stroke-width="0.3"/><rect x="441.2" y="849.2" width="4.8" height="4.8" fill="#3f3f9f" stroke="#3f3f9f" stroke-width="0.3"/><rect x="446" y="846.2" width="4.8" height="4.8" fill="#3f3f9f" stroke="#3f3f9f" stroke-width="0.3"/><rect x="450.8" y="843.1" width="4.8" height="4.8" fill="#3f3f9f" stroke="#3f3f9f" stroke-width="0.3"/><rect x="455.6" y="839.9" width="4.8" height="4.8" fill="#3f3f9f" stroke="#3f3f9f" stroke-width="0.3"/><rect x="460.4" y="836.6" width="4.8" height="4.8" fill="#3f3f9f" stroke="#3f3f9f" stroke-width="0.3"/><rect x="465.2" y="833.2" width="4.8" height="4.8" fill="#3f3f9f" stroke="#3f3f9f" stroke-width="0.3"/><rect x="470" y="829.7" width="4.8" height="4.8" fill="#3f3f9f" stroke="#3f3f9f" stroke-width="0.3"/><rect x="474.8" y="826.1" width="4.8" height="4.8" fill="#3f3f9f" stroke="#3f3f9f" stroke-width="0.3"/><rect x="479.6" y="822.4" width="4.8" height="4.8" fill="#3f3f9f" stroke="#3f3f9f" stroke-width="0.3"/><rect x="484.4" y="818.6" width="4.8" height="4.8" fill="#3f3f9f" stroke="#3f3f9f" stroke-width="0.3"/><rect x="489.2" y="814.8" width="4.8" height="4.8" fill="#3f3f9f" stroke="#3f3f9f" stroke-width="0.3"/><rect x="494" y="810.8" width="4.8" height="4.8" fill="#3f3f9f" stroke="#3f3f9f" stroke-width="0.3"/><rect x="498.8" y="806.7" width="4.8" height="4.8" fill="#3f3f9f" stroke="#3f3f9f" stroke-width="0.3"/><rect x="503.6" y="802.5" width="4.8" height="4.8" fill="#3f3f9f" stroke="#3f3f9f" stroke-width="0.3"/><rect x="508.4" y="798.3" width="4.8" height="4.8" fill="#3f3f9f" stroke="#3f3f9f" stroke-width="0.3"/><rect x="513.2" y="794" width="4.8" height="4.8" fill="#3f3f9f" stroke="#3f3f9f" stroke-width="0.3"/><rect x="518" y="789.7" width="4.8" height="4.8" fill="#3f3f9f" stroke="#3f3f9f" stroke-width="0.3"/><rect x="522.8" y="785.4" width="4.8" height="4.8" fill="#3f3f9f" stroke="#3f3f9f" stroke-width="0.3"/><rect x="527.6" y="781.1" width="4.8" height="4.8" fill="#3f3f9f" stroke="#3f3f9f" stroke-width="0.3"/><rect x="532.4" y="776.8" width="4.8" height="4.8" fill="#3f3f9f" stroke="#3f3f9f" stroke-width="0.3"/><rect x="537.2" y="772.6" width="4.8" height="4.8" fill="#3f3f9f" stroke="#3f3f9f" stroke-width="0.3"/><rect x="542" y="768.4" width="4.8" height="4.8" fill="#3f3f9f" stroke="#3f3f9f" stroke-width="0.3"/><rect x="546.8" y="764.4" width="4.8" height="4.8" fill="#3f3f9f" stroke="#3f3f9f" stroke-width="0.3"/><rect x="551.6" y="760.3" width="4.8" height="4.8" fill="#3f3f9f" stroke="#3f3f9f" stroke-width="0.3"/><rect x="556.4" y="756.2" width="4.8" height="4.8" fill="#3f3f9f" stroke="#3f3f9f" stroke-width="0.3"/><rect x="561.2" y="752.2" width="4.8" height="4.8" fill="#3f3f9f" stroke="#3f3f9f" stroke-width="0.3"/><rect x="566" y="748.2" width="4.8" height="4.8" fill="#3f3f9f" stroke="#3f3f9f" stroke-width="0.3"/><rect x="570.8" y="744.3" width="4.8" height="4.8" fill="#3f3f9f" stroke="#3f3f9f" stroke-width="0.3"/><rect x="575.6" y="740.4" width="4.8" height="4.8" fill="#3f3f9f" stroke="#3f3f9f" stroke-width="0.3"/><rect x="580.4" y="736.2" width="4.8" height="4.8" fill="#3f3f9f" stroke="#3f3f9f" stroke-width="0.3"/><rect x="585.2" y="731.9" width="4.8" height="4.8" fill="#3f3f9f" stroke="#3f3f9f" stroke-width="0.3"/><rect x="590" y="727.7" width="4.8" height="4.8" fill="#3f3f9f" stroke="#3f3f9f" stroke-width="0.3"/><rect x="594.8" y="723.5" width="4.8" height="4.8" fill="#3f3f9f" stroke="#3f3f9f" stroke-width="0.3"/><rect x="599.6" y="719.7" width="4.8" height="4.8" fill="#3f3f9f" stroke="#3f3f9f" stroke-width="0.3"/><rect x="604.4" y="715.8" width="4.8" height="4.8" fill="#3f3f9f" stroke="#3f3f9f" stroke-width="0.3"/><rect x="609.2" y="710.8" width="4.8" height="4.8" fill="#3f3f9f" stroke="#3f3f9f" stroke-width="0.3"/><rect x="614" y="704.8" width="4.8" height="4.8" fill="#3f3f9f" stroke="#3f3f9f" stroke-width="0.3"/></g>
<g><path d="M395.6 873.9L398.8 868.3L392.4 868.3Z" fill="#a06060" stroke="#a06060" stroke-width="0.3"/><path d="M400.4 872.4L403.6 866.8L397.2 866.8Z" fill="#a06060" stroke="#a06060" stroke-width="0.3"/><path d="M405.2 870.7L408.4 865.1L402 865.1Z" fill="#a06060" stroke="#a06060" stroke-width="0.3"/><path d="M410 868.9L413.2 863.3L406.8 863.3Z" fill="#a06060" stroke="#a06060" stroke-width="0.3"/><path d="M414.8 866.9L418 861.3L411.6 861.3Z" fill="#a06060" stroke="#a06060" stroke-width="0.3"/><path d="M419.6 864.9L422.8 859.3L416.4 859.3Z" fill="#a06060" stroke="#a06060" stroke-width="0.3"/><path d="M424.4 862.7L427.6 857.1L421.2 857.1Z" fill="#a06060" stroke="#a06060" stroke-width="0.3"/><path d="M429.2 860.3L432.4 854.7L426 854.7Z" fill="#a06060" stroke="#a06060" stroke-width="0.3"/><path d="M434 857.8L437.2 852.2L430.8 852.2Z" fill="#a06060" stroke="#a06060" stroke-width="0.3"/><path d="M438.8 855.2L442 849.6L435.6 849.6Z" fill="#a06060" stroke="#a06060" stroke-width="0.3"/><path d="M443.6 852.5L446.8 846.9L440.4 846.9Z" fill="#a06060" stroke="#a06060" stroke-width="0.3"/><path d="M448.4 849.7L451.6 844.1L445.2 844.1Z" fill="#a06060" stroke="#a06060" stroke-width="0.3"/><path d="M453.2 846.9L456.4 841.3L450 841.3Z" fill="#a06060" stroke="#a06060" stroke-width="0.3"/><path d="M458 843.9L461.2 838.3L454.8 838.3Z" fill="#a06060" stroke="#a06060" stroke-width="0.3"/><path d="M462.8 840.9L466 835.3L459.6 835.3Z" fill="#a06060" stroke="#a06060" stroke-width="0.3"/><path d="M467.6 837.7L470.8 832.1L464.4 832.1Z" fill="#a06060" stroke="#a06060" stroke-width="0.3"/><path d="M472.4 834.4L475.6 828.8L469.2 828.8Z" fill="#a06060" stroke="#a06060" stroke-width="0.3"/><path d="M477.2 831L480.4 825.4L474 825.4Z" fill="#a06060" stroke="#a06060" stroke-width="0.3"/><path d="M482 827.5L485.2 821.9L478.8 821.9Z" fill="#a06060" stroke="#a06060" stroke-width="0.3"/><path d="M486.8 824L490 818.4L483.6 818.4Z" fill="#a06060" stroke="#a06060" stroke-width="0.3"/><path d="M491.6 820.2L494.8 814.6L488.4 814.6Z" fill="#a06060" stroke="#a06060" stroke-width="0.3"/><path d="M496.4 816.3L499.6 810.7L493.2 810.7Z" fill="#a06060" stroke="#a06060" stroke-width="0.3"/><path d="M501.2 812.2L504.4 806.6L498 806.6Z" fill="#a06060" stroke="#a06060" stroke-width="0.3"/><path d="M506 808.1L509.2 802.5L502.8 802.5Z" fill="#a06060" stroke="#a06060" stroke-width="0.3"/><path d="M510.8 803.8L514 798.2L507.6 798.2Z" fill="#a06060" stroke="#a06060" stroke-width="0.3"/><path d="M515.6 799.5L518.8 793.9L512.4 793.9Z" fill="#a06060" stroke="#a06060" stroke-width="0.3"/><path d="M520.4 795.2L523.6 789.6L517.2 789.6Z" fill="#a06060" stroke="#a06060" stroke-width="0.3"/><path d="M525.2 790.8L528.4 785.2L522 785.2Z" fill="#a06060" stroke="#a06060" stroke-width="0.3"/><path d="M530 786.5L533.2 780.9L526.8 780.9Z" fill="#a06060" stroke="#a06060" stroke-width="0.3"/><path d="M534.8 782.2L538 776.6L531.6 776.6Z" fill="#a06060" stroke="#a06060" stroke-width="0.3"/><path d="M539.6 778L542.8 772.4L536.4 772.4Z" fill="#a06060" stroke="#a06060" stroke-width="0.3"/><path d="M544.4 773.9L547.6 768.3L541.2 768.3Z" fill="#a06060" stroke="#a06060" stroke-width="0.3"/><path d="M549.2 769.8L552.4 764.2L546 764.2Z" fill="#a06060" stroke="#a06060" stroke-width="0.3"/><path d="M554 765.8L557.2 760.2L550.8 760.2Z" fill="#a06060" stroke="#a06060" stroke-width="0.3"/><path d="M558.8 761.8L562 756.2L555.6 756.2Z" fill="#a06060" stroke="#a06060" stroke-width="0.3"/><path d="M563.6 757.8L566.8 752.2L560.4 752.2Z" fill="#a06060" stroke="#a06060" stroke-width="0.3"/><path d="M568.4 753.8L571.6 748.2L565.2 748.2Z" fill="#a06060" stroke="#a06060" stroke-width="0.3"/><path d="M573.2 749.9L576.4 744.3L570 744.3Z" fill="#a06060" stroke="#a06060" stroke-width="0.3"/><path d="M578 746L581.2 740.4L574.8 740.4Z" fill="#a06060" stroke="#a06060" stroke-width="0.3"/><path d="M582.8 741.8L586 736.2L579.6 736.2Z" fill="#a06060" stroke="#a06060" stroke-width="0.3"/><path d="M587.6 737.5L590.8 731.9L584.4 731.9Z" fill="#a06060" stroke="#a06060" stroke-width="0.3"/><path d="M592.4 733.3L595.6 727.7L589.2 727.7Z" fill="#a06060" stroke="#a06060" stroke-width="0.3"/><path d="M597.2 729.1L600.4 723.5L594 723.5Z" fill="#a06060" stroke="#a06060" stroke-width="0.3"/><path d="M602 725.3L605.2 719.7L598.8 719.7Z" fill="#a06060" stroke="#a06060" stroke-width="0.3"/><path d="M606.8 721.4L610 715.8L603.6 715.8Z" fill="#a06060" stroke="#a06060" stroke-width="0.3"/><path d="M611.6 716.4L614.8 710.8L608.4 710.8Z" fill="#a06060" stroke="#a06060" stroke-width="0.3"/><path d="M616.4 710.4L619.6 704.8L613.2 704.8Z" fill="#a06060" stroke="#a06060" stroke-width="0.3"/></g>
<g><circle cx="395.6" cy="865.6" r="2.8" fill="#fff" stroke="#111" stroke-width="0.8"/><circle cx="400.4" cy="864.2" r="2.8" fill="#fff" stroke="#111" stroke-width="0.8"/><circle cx="405.2" cy="862.8" r="2.8" fill="#fff" stroke="#111" stroke-width="0.8"/><circle cx="410" cy="861.2" r="2.8" fill="#fff" stroke="#111" stroke-width="0.8"/><circle cx="414.8" cy="859.5" r="2.8" fill="#fff" stroke="#111" stroke-width="0.8"/><circle cx="419.6" cy="857.7" r="2.8" fill="#fff" stroke="#111" stroke-width="0.8"/><circle cx="424.4" cy="855.7" r="2.8" fill="#fff" stroke="#111" stroke-width="0.8"/><circle cx="429.2" cy="853.6" r="2.8" fill="#fff" stroke="#111" stroke-width="0.8"/><circle cx="434" cy="851.3" r="2.8" fill="#fff" stroke="#111" stroke-width="0.8"/><circle cx="438.8" cy="848.9" r="2.8" fill="#fff" stroke="#111" stroke-width="0.8"/><circle cx="443.6" cy="846.2" r="2.8" fill="#fff" stroke="#111" stroke-width="0.8"/><circle cx="448.4" cy="843.5" r="2.8" fill="#fff" stroke="#111" stroke-width="0.8"/><circle cx="453.2" cy="840.6" r="2.8" fill="#fff" stroke="#111" stroke-width="0.8"/><circle cx="458" cy="837.8" r="2.8" fill="#fff" stroke="#111" stroke-width="0.8"/><circle cx="462.8" cy="835.1" r="2.8" fill="#fff" stroke="#111" stroke-width="0.8"/><circle cx="467.6" cy="832.4" r="2.8" fill="#fff" stroke="#111" stroke-width="0.8"/><circle cx="472.4" cy="829.7" r="2.8" fill="#fff" stroke="#111" stroke-width="0.8"/><circle cx="477.2" cy="826.8" r="2.8" fill="#fff" stroke="#111" stroke-width="0.8"/><circle cx="482" cy="823.8" r="2.8" fill="#fff" stroke="#111" stroke-width="0.8"/><circle cx="486.8" cy="820.5" r="2.8" fill="#fff" stroke="#111" stroke-width="0.8"/><circle cx="491.6" cy="817" r="2.8" fill="#fff" stroke="#111" stroke-width="0.8"/><circle cx="496.4" cy="813.2" r="2.8" fill="#fff" stroke="#111" stroke-width="0.8"/><circle cx="501.2" cy="809.3" r="2.8" fill="#fff" stroke="#111" stroke-width="0.8"/><circle cx="506" cy="805.1" r="2.8" fill="#fff" stroke="#111" stroke-width="0.8"/><circle cx="510.8" cy="800.9" r="2.8" fill="#fff" stroke="#111" stroke-width="0.8"/><circle cx="515.6" cy="796.5" r="2.8" fill="#fff" stroke="#111" stroke-width="0.8"/><circle cx="520.4" cy="792.1" r="2.8" fill="#fff" stroke="#111" stroke-width="0.8"/><circle cx="525.2" cy="787.7" r="2.8" fill="#fff" stroke="#111" stroke-width="0.8"/><circle cx="530" cy="783.3" r="2.8" fill="#fff" stroke="#111" stroke-width="0.8"/><circle cx="534.8" cy="778.9" r="2.8" fill="#fff" stroke="#111" stroke-width="0.8"/><circle cx="539.6" cy="774.7" r="2.8" fill="#fff" stroke="#111" stroke-width="0.8"/><circle cx="544.4" cy="770.5" r="2.8" fill="#fff" stroke="#111" stroke-width="0.8"/><circle cx="549.2" cy="766.4" r="2.8" fill="#fff" stroke="#111" stroke-width="0.8"/><circle cx="554" cy="762.3" r="2.8" fill="#fff" stroke="#111" stroke-width="0.8"/><circle cx="558.8" cy="758.3" r="2.8" fill="#fff" stroke="#111" stroke-width="0.8"/><circle cx="563.6" cy="754.3" r="2.8" fill="#fff" stroke="#111" stroke-width="0.8"/><circle cx="568.4" cy="750.3" r="2.8" fill="#fff" stroke="#111" stroke-width="0.8"/><circle cx="573.2" cy="746.4" r="2.8" fill="#fff" stroke="#111" stroke-width="0.8"/><circle cx="578" cy="742.6" r="2.8" fill="#fff" stroke="#111" stroke-width="0.8"/><circle cx="582.8" cy="738.5" r="2.8" fill="#fff" stroke="#111" stroke-width="0.8"/><circle cx="587.6" cy="734.1" r="2.8" fill="#fff" stroke="#111" stroke-width="0.8"/><circle cx="592.4" cy="729.4" r="2.8" fill="#fff" stroke="#111" stroke-width="0.8"/><circle cx="597.2" cy="723.9" r="2.8" fill="#fff" stroke="#111" stroke-width="0.8"/><circle cx="602" cy="722.7" r="2.8" fill="#fff" stroke="#111" stroke-width="0.8"/><circle cx="606.8" cy="719.1" r="2.8" fill="#fff" stroke="#111" stroke-width="0.8"/><circle cx="611.6" cy="712.6" r="2.8" fill="#fff" stroke="#111" stroke-width="0.8"/><circle cx="616.4" cy="706.4" r="2.8" fill="#fff" stroke="#111" stroke-width="0.8"/></g>
<path d="M396 883L398.8 881.9L401.6 880.7L404.4 879.5L407.2 878.3L410 877L412.8 875.6L415.6 874.2L418.3 872.8L421.1 871.3L423.9 869.8L426.7 868.3L429.5 866.7L432.3 865L435.1 863.3L437.9 861.6L440.7 859.8L443.5 858L446.3 856.1L449.1 854.1L451.9 852.1L454.7 850L457.5 847.8L460.3 845.5L463.1 843.1L465.9 840.7L468.7 838.2L471.5 835.7L474.3 833.2L477.1 830.7L479.8 828.2L482.6 825.8L485.4 823.3L488.2 820.9L491 818.5L493.8 816.1L496.6 813.6L499.4 811.2L502.2 808.7L505 806.3L507.8 803.8L510.6 801.3L513.4 798.9L516.2 796.4L519 793.9L521.8 791.5L524.6 789L527.4 786.6L530.2 784.1L533 781.7L535.8 779.2L538.6 776.8L541.3 774.4L544.1 772L546.9 769.6L549.7 767.2L552.5 764.9L555.3 762.5L558.1 760.2L560.9 757.8L563.7 755.5L566.5 753.2L569.3 750.8L572.1 748.5L574.9 746.2L577.7 743.8L580.5 741.5L583.3 739.2L586.1 736.9L588.9 734.5L591.7 732.2L594.5 729.8L597.3 727.4L600.1 725L602.8 722.6L605.6 720.1L608.4 717.7L611.2 715.3L614 712.8L616.8 710.3" fill="none" stroke="#ff0000" stroke-width="1.4" stroke-linejoin="round" stroke-linecap="round"/>
<path d="M396 880.9L398.8 880.2L401.6 879.3L404.4 878.4L407.2 877.4L410 876.4L412.8 875.2L415.6 874.1L418.3 872.8L421.1 871.5L423.9 870.1L426.7 868.5L429.5 866.9L432.3 865.2L435.1 863.4L437.9 861.6L440.7 859.7L443.5 857.7L446.3 855.8L449.1 853.8L451.9 851.8L454.7 849.7L457.5 847.5L460.3 845.2L463.1 842.8L465.9 840.4L468.7 838L471.5 835.6L474.3 833.1L477.1 830.6L479.8 828.2L482.6 825.7L485.4 823.3L488.2 820.9L491 818.5L493.8 816.1L496.6 813.7L499.4 811.2L502.2 808.8L505 806.3L507.8 803.8L510.6 801.4L513.4 798.9L516.2 796.4L519 794L521.8 791.5L524.6 789L527.4 786.6L530.2 784.1L533 781.7L535.8 779.2L538.6 776.8L541.3 774.4L544.1 772L546.9 769.6L549.7 767.2L552.5 764.9L555.3 762.5L558.1 760.2L560.9 757.8L563.7 755.5L566.5 753.2L569.3 750.8L572.1 748.5L574.9 746.2L577.7 743.8L580.5 741.5L583.3 739.2L586.1 736.9L588.9 734.5L591.7 732.2L594.5 729.8L597.3 727.4L600.1 725L602.8 722.6L605.6 720.1L608.4 717.7L611.2 715.3L614 712.8L616.8 710.3" fill="none" stroke="#ff0000" stroke-width="1.4" stroke-linejoin="round" stroke-linecap="round"/>
<path d="M396 882L398.8 880.7L401.6 879.3L404.4 877.9L407.2 876.5L410 875.1L412.8 873.6L415.6 872.1L418.3 870.6L421.1 869.1L423.9 867.5L426.7 865.9L429.5 864.3L432.3 862.7L435.1 861L437.9 859.3L440.7 857.6L443.5 855.8L446.3 854L449.1 852.1L451.9 850.2L454.7 848.1L457.5 846L460.3 843.9L463.1 841.6L465.9 839.4L468.7 837.1L471.5 834.8L474.3 832.4L477.1 830L479.8 827.7L482.6 825.3L485.4 823L488.2 820.7L491 818.3L493.8 815.9L496.6 813.5L499.4 811.1L502.2 808.7L505 806.3L507.8 803.8L510.6 801.4L513.4 798.9L516.2 796.4L519 794L521.8 791.5L524.6 789L527.4 786.6L530.2 784.1L533 781.7L535.8 779.2L538.6 776.8L541.3 774.4L544.1 772L546.9 769.6L549.7 767.3L552.5 764.9L555.3 762.5L558.1 760.2L560.9 757.9L563.7 755.5L566.5 753.2L569.3 750.8L572.1 748.5L574.9 746.2L577.7 743.8L580.5 741.5L583.3 739.2L586.1 736.9L588.9 734.5L591.7 732.2L594.5 729.8L597.3 727.4L600.1 725L602.8 722.6L605.6 720.1L608.4 717.7L611.2 715.3L614 712.8L616.8 710.3" fill="none" stroke="#ff0000" stroke-width="1.4" stroke-linejoin="round" stroke-linecap="round"/>
<path d="M396 878.7L398.8 877.5L401.6 876.3L404.4 875L407.2 873.8L410 872.4L412.8 871.1L415.6 869.7L418.3 868.3L421.1 866.8L423.9 865.4L426.7 863.8L429.5 862.3L432.3 860.7L435.1 859.1L437.9 857.4L440.7 855.7L443.5 854L446.3 852.2L449.1 850.4L451.9 848.6L454.7 846.6L457.5 844.7L460.3 842.6L463.1 840.5L465.9 838.4L468.7 836.3L471.5 834.1L474.3 831.8L477.1 829.6L479.8 827.4L482.6 825.1L485.4 822.9L488.2 820.6L491 818.3L493.8 815.9L496.6 813.6L499.4 811.2L502.2 808.7L505 806.3L507.8 803.8L510.6 801.4L513.4 798.9L516.2 796.4L519 793.9L521.8 791.4L524.6 788.9L527.4 786.5L530.2 784L533 781.5L535.8 779.1L538.6 776.6L541.3 774.2L544.1 771.8L546.9 769.5L549.7 767.1L552.5 764.8L555.3 762.4L558.1 760.1L560.9 757.8L563.7 755.5L566.5 753.2L569.3 750.8L572.1 748.5L574.9 746.2L577.7 743.9L580.5 741.5L583.3 739.2L586.1 736.9L588.9 734.5L591.7 732.2L594.5 729.8L597.3 727.4L600.1 725L602.8 722.6L605.6 720.1L608.4 717.7L611.2 715.3L614 712.8L616.8 710.3" fill="none" stroke="#ff0000" stroke-width="1.4" stroke-linejoin="round" stroke-linecap="round"/>
<path d="M396 876L398.8 874.9L401.6 873.8L404.4 872.6L407.2 871.4L410 870.1L412.8 868.8L415.6 867.5L418.3 866.1L421.1 864.7L423.9 863.3L426.7 861.8L429.5 860.3L432.3 858.8L435.1 857.2L437.9 855.5L440.7 853.9L443.5 852.2L446.3 850.5L449.1 848.8L451.9 847L454.7 845.1L457.5 843.3L460.3 841.4L463.1 839.4L465.9 837.4L468.7 835.4L471.5 833.4L474.3 831.3L477.1 829.2L479.8 827L482.6 824.9L485.4 822.7L488.2 820.5L491 818.2L493.8 815.9L496.6 813.6L499.4 811.2L502.2 808.8L505 806.3L507.8 803.9L510.6 801.4L513.4 798.9L516.2 796.4L519 793.9L521.8 791.4L524.6 788.9L527.4 786.4L530.2 783.9L533 781.4L535.8 778.9L538.6 776.5L541.3 774.1L544.1 771.7L546.9 769.3L549.7 767L552.5 764.7L555.3 762.4L558.1 760.1L560.9 757.8L563.7 755.5L566.5 753.1L569.3 750.8L572.1 748.5L574.9 746.2L577.7 743.9L580.5 741.5L583.3 739.2L586.1 736.9L588.9 734.5L591.7 732.2L594.5 729.8L597.3 727.4L600.1 725L602.8 722.6L605.6 720.1L608.4 717.7L611.2 715.3L614 712.8L616.8 710.3" fill="none" stroke="#ff0000" stroke-width="1.4" stroke-linejoin="round" stroke-linecap="round"/>
<path d="M396 871.2L398.8 870.3L401.6 869.4L404.4 868.4L407.2 867.3L410 866.3L412.8 865.2L415.6 864L418.3 862.8L421.1 861.6L423.9 860.3L426.7 858.9L429.5 857.5L432.3 856.1L435.1 854.6L437.9 853.1L440.7 851.5L443.5 850L446.3 848.4L449.1 846.7L451.9 845.1L454.7 843.4L457.5 841.7L460.3 839.9L463.1 838.1L465.9 836.2L468.7 834.4L471.5 832.5L474.3 830.5L477.1 828.5L479.8 826.5L482.6 824.5L485.4 822.4L488.2 820.3L491 818.1L493.8 815.8L496.6 813.5L499.4 811.1L502.2 808.7L505 806.3L507.8 803.9L510.6 801.4L513.4 798.9L516.2 796.3L519 793.8L521.8 791.3L524.6 788.7L527.4 786.2L530.2 783.7L533 781.2L535.8 778.7L538.6 776.3L541.3 773.9L544.1 771.5L546.9 769.2L549.7 766.8L552.5 764.5L555.3 762.3L558.1 760L560.9 757.7L563.7 755.4L566.5 753.1L569.3 750.8L572.1 748.5L574.9 746.2L577.7 743.9L580.5 741.6L583.3 739.2L586.1 736.9L588.9 734.5L591.7 732.2L594.5 729.8L597.3 727.4L600.1 725L602.8 722.6L605.6 720.1L608.4 717.7L611.2 715.3L614 712.8L616.8 710.3" fill="none" stroke="#ff0000" stroke-width="1.4" stroke-linejoin="round" stroke-linecap="round"/>
<path d="M396 866.1L398.8 865.3L401.6 864.5L404.4 863.6L407.2 862.7L410 861.8L412.8 860.8L415.6 859.8L418.3 858.7L421.1 857.6L423.9 856.5L426.7 855.3L429.5 854L432.3 852.7L435.1 851.4L437.9 849.9L440.7 848.5L443.5 846.9L446.3 845.3L449.1 843.7L451.9 842L454.7 840.4L457.5 838.7L460.3 837.1L463.1 835.5L465.9 834L468.7 832.4L471.5 830.8L474.3 829.2L477.1 827.5L479.8 825.8L482.6 824L485.4 822.1L488.2 820.1L491 818L493.8 815.9L496.6 813.6L499.4 811.3L502.2 809L505 806.5L507.8 804.1L510.6 801.6L513.4 799L516.2 796.5L519 793.9L521.8 791.3L524.6 788.8L527.4 786.2L530.2 783.6L533 781.1L535.8 778.6L538.6 776.1L541.3 773.7L544.1 771.3L546.9 769L549.7 766.7L552.5 764.4L555.3 762.2L558.1 759.9L560.9 757.7L563.7 755.4L566.5 753.1L569.3 750.8L572.1 748.5L574.9 746.2L577.7 743.9L580.5 741.6L583.3 739.2L586.1 736.9L588.9 734.5L591.7 732.2L594.5 729.8L597.3 727.4L600.1 725L602.8 722.6L605.6 720.1L608.4 717.7L611.2 715.3L614 712.8L616.8 710.3" fill="none" stroke="#ff0000" stroke-width="1.4" stroke-linejoin="round" stroke-linecap="round"/>
<rect x="582.3" y="764.8" width="52.8" height="86.5" fill="#fff" stroke="#222" stroke-width="1"/>
<rect x="592.6" y="769.4" width="4.4" height="4.4" fill="#000" stroke="#000" stroke-width="0.3"/>
<text x="608.5" y="775" font-family="'Liberation Sans', sans-serif" font-weight="bold" font-size="9.4">345 K</text>
<path d="M594.8 780.5L598 783.8L594.8 787L591.6 783.8Z" fill="#008000" stroke="#008000" stroke-width="0.3"/>
<text x="608.5" y="787.1" font-family="'Liberation Sans', sans-serif" font-weight="bold" font-size="9.4">353 K</text>
<path d="M594.8 792.7L595.6 794.8L597.8 794.9L596.1 796.3L596.7 798.5L594.8 797.2L592.9 798.5L593.5 796.3L591.8 794.9L594 794.8Z" fill="#800000" stroke="#800000" stroke-width="0.2"/>
<text x="608.5" y="799.3" font-family="'Liberation Sans', sans-serif" font-weight="bold" font-size="9.4">361K</text>
<path d="M592.1 805.4L597.5 810.8M592.1 810.8L597.5 805.4M594.8 805.4L594.8 810.8M592.1 808.1L597.5 808.1" stroke="#22dd55" stroke-width="0.8" fill="none"/>
<text x="608.5" y="811.5" font-family="'Liberation Sans', sans-serif" font-weight="bold" font-size="9.4">371 K</text>
<rect x="592.4" y="817.8" width="4.8" height="4.8" fill="#3f3f9f" stroke="#3f3f9f" stroke-width="0.3"/>
<text x="608.5" y="823.6" font-family="'Liberation Sans', sans-serif" font-weight="bold" font-size="9.4">377 K</text>
<path d="M594.8 835.6L598 830L591.6 830Z" fill="#a06060" stroke="#a06060" stroke-width="0.3"/>
<text x="608.5" y="835.8" font-family="'Liberation Sans', sans-serif" font-weight="bold" font-size="9.4">383 K</text>
<circle cx="594.8" cy="844.5" r="2.8" fill="#fff" stroke="#111" stroke-width="0.8"/>
<text x="608.5" y="847.9" font-family="'Liberation Sans', sans-serif" font-weight="bold" font-size="9.4">391 K</text>
<path d="M67.4 617.5v3.8M67.4 389.4v-3.8M105.9 617.5v3.8M105.9 389.4v-3.8M144.4 617.5v3.8M144.4 389.4v-3.8M182.9 617.5v3.8M182.9 389.4v-3.8M221.3 617.5v3.8M221.3 389.4v-3.8M259.8 617.5v3.8M259.8 389.4v-3.8M298.3 617.5v3.8M298.3 389.4v-3.8M48.2 617.5v2M48.2 389.4v-2M86.7 617.5v2M86.7 389.4v-2M125.1 617.5v2M125.1 389.4v-2M163.6 617.5v2M163.6 389.4v-2M202.1 617.5v2M202.1 389.4v-2M240.6 617.5v2M240.6 389.4v-2M279 617.5v2M279 389.4v-2M317.5 617.5v2M317.5 389.4v-2M48.2 598.5h-3.8M317.5 598.5h3.8M48.2 560.5h-3.8M317.5 560.5h3.8M48.2 522.5h-3.8M317.5 522.5h3.8M48.2 484.4h-3.8M317.5 484.4h3.8M48.2 446.4h-3.8M317.5 446.4h3.8M48.2 408.4h-3.8M317.5 408.4h3.8M48.2 617.5h-2M317.5 617.5h2M48.2 579.5h-2M317.5 579.5h2M48.2 541.5h-2M317.5 541.5h2M48.2 503.4h-2M317.5 503.4h2M48.2 465.4h-2M317.5 465.4h2M48.2 427.4h-2M317.5 427.4h2M48.2 389.4h-2M317.5 389.4h2" stroke="#111" stroke-width="1.3" fill="none"/>
<rect x="48.2" y="389.4" width="269.3" height="228.1" fill="none" stroke="#111" stroke-width="1.3"/>
<text x="67.4" y="631.7" text-anchor="middle" font-family="'Liberation Sans', sans-serif" font-weight="bold" font-size="9.2">6</text>
<text x="105.9" y="631.7" text-anchor="middle" font-family="'Liberation Sans', sans-serif" font-weight="bold" font-size="9.2">8</text>
<text x="144.4" y="631.7" text-anchor="middle" font-family="'Liberation Sans', sans-serif" font-weight="bold" font-size="9.2">10</text>
<text x="182.9" y="631.7" text-anchor="middle" font-family="'Liberation Sans', sans-serif" font-weight="bold" font-size="9.2">12</text>
<text x="221.3" y="631.7" text-anchor="middle" font-family="'Liberation Sans', sans-serif" font-weight="bold" font-size="9.2">14</text>
<text x="259.8" y="631.7" text-anchor="middle" font-family="'Liberation Sans', sans-serif" font-weight="bold" font-size="9.2">16</text>
<text x="298.3" y="631.7" text-anchor="middle" font-family="'Liberation Sans', sans-serif" font-weight="bold" font-size="9.2">18</text>
<text x="41.4" y="601.8" text-anchor="end" font-family="'Liberation Sans', sans-serif" font-weight="bold" font-size="9.2">-16</text>
<text x="41.4" y="563.8" text-anchor="end" font-family="'Liberation Sans', sans-serif" font-weight="bold" font-size="9.2">-14</text>
<text x="41.4" y="525.8" text-anchor="end" font-family="'Liberation Sans', sans-serif" font-weight="bold" font-size="9.2">-12</text>
<text x="41.4" y="487.7" text-anchor="end" font-family="'Liberation Sans', sans-serif" font-weight="bold" font-size="9.2">-10</text>
<text x="41.4" y="449.7" text-anchor="end" font-family="'Liberation Sans', sans-serif" font-weight="bold" font-size="9.2">-8</text>
<text x="41.4" y="411.7" text-anchor="end" font-family="'Liberation Sans', sans-serif" font-weight="bold" font-size="9.2">-6</text>
<text x="182.9" y="648.6" text-anchor="middle" font-family="'Liberation Sans', sans-serif" font-weight="bold" font-size="10.3">ln[<tspan font-weight="normal">ω</tspan>(Hz)]</text>
<text transform="translate(21 490.5) rotate(-90)" text-anchor="middle" font-family="'Liberation Sans', sans-serif" font-weight="bold" font-size="10.8">ln[<tspan font-weight="normal">σ</tspan>(Ω<tspan font-size="6.7" dy="-4.1">-1</tspan><tspan dy="4.1">.cm</tspan><tspan font-size="6.7" dy="-4.1">-1</tspan><tspan dy="4.1">)]</tspan></text>
<rect x="70.8" y="400.4" width="16.1" height="25.1" fill="#fff" stroke="#777" stroke-width="1"/>
<text x="78.8" y="419.3" text-anchor="middle" font-family="'Liberation Sans', sans-serif" font-weight="bold" font-size="17">b</text>
<path d="M381.6 619v3.8M381.6 386.1v-3.8M424.2 619v3.8M424.2 386.1v-3.8M466.7 619v3.8M466.7 386.1v-3.8M509.3 619v3.8M509.3 386.1v-3.8M551.9 619v3.8M551.9 386.1v-3.8M594.4 619v3.8M594.4 386.1v-3.8M637 619v3.8M637 386.1v-3.8M402.9 619v2M402.9 386.1v-2M445.5 619v2M445.5 386.1v-2M488 619v2M488 386.1v-2M530.6 619v2M530.6 386.1v-2M573.1 619v2M573.1 386.1v-2M615.7 619v2M615.7 386.1v-2M369 420.9h-3.8M645.5 420.9h3.8M369 464.4h-3.8M645.5 464.4h3.8M369 507.8h-3.8M645.5 507.8h3.8M369 551.2h-3.8M645.5 551.2h3.8M369 594.7h-3.8M645.5 594.7h3.8M369 399.2h-2M645.5 399.2h2M369 442.6h-2M645.5 442.6h2M369 486.1h-2M645.5 486.1h2M369 529.5h-2M645.5 529.5h2M369 573h-2M645.5 573h2M369 616.4h-2M645.5 616.4h2" stroke="#111" stroke-width="1.3" fill="none"/>
<rect x="369" y="386.1" width="276.5" height="232.9" fill="none" stroke="#111" stroke-width="1.3"/>
<text x="381.6" y="633.2" text-anchor="middle" font-family="'Liberation Sans', sans-serif" font-weight="bold" font-size="9.2">6</text>
<text x="424.2" y="633.2" text-anchor="middle" font-family="'Liberation Sans', sans-serif" font-weight="bold" font-size="9.2">8</text>
<text x="466.7" y="633.2" text-anchor="middle" font-family="'Liberation Sans', sans-serif" font-weight="bold" font-size="9.2">10</text>
<text x="509.3" y="633.2" text-anchor="middle" font-family="'Liberation Sans', sans-serif" font-weight="bold" font-size="9.2">12</text>
<text x="551.9" y="633.2" text-anchor="middle" font-family="'Liberation Sans', sans-serif" font-weight="bold" font-size="9.2">14</text>
<text x="594.4" y="633.2" text-anchor="middle" font-family="'Liberation Sans', sans-serif" font-weight="bold" font-size="9.2">16</text>
<text x="637" y="633.2" text-anchor="middle" font-family="'Liberation Sans', sans-serif" font-weight="bold" font-size="9.2">18</text>
<text x="362.2" y="424.2" text-anchor="end" font-family="'Liberation Sans', sans-serif" font-weight="bold" font-size="9.2">-5</text>
<text x="362.2" y="467.7" text-anchor="end" font-family="'Liberation Sans', sans-serif" font-weight="bold" font-size="9.2">-6</text>
<text x="362.2" y="511.1" text-anchor="end" font-family="'Liberation Sans', sans-serif" font-weight="bold" font-size="9.2">-7</text>
<text x="362.2" y="554.5" text-anchor="end" font-family="'Liberation Sans', sans-serif" font-weight="bold" font-size="9.2">-8</text>
<text x="362.2" y="598" text-anchor="end" font-family="'Liberation Sans', sans-serif" font-weight="bold" font-size="9.2">-9</text>
<text x="503" y="652" text-anchor="middle" font-family="'Liberation Sans', sans-serif" font-weight="bold" font-size="10.3">ln[<tspan font-weight="normal">ω</tspan>(Hz)]</text>
<text transform="translate(350.9 502.6) rotate(-90)" text-anchor="middle" font-family="'Liberation Sans', sans-serif" font-weight="normal" font-size="11.2">ln[<tspan font-weight="normal">σ</tspan>(Ω<tspan font-size="6.9" dy="-4.3">-1</tspan><tspan dy="4.3">.cm</tspan><tspan font-size="6.9" dy="-4.3">-1</tspan><tspan dy="4.3">)]</tspan></text>
<rect x="390.3" y="400.2" width="13.5" height="21.8" fill="#fff" stroke="#777" stroke-width="1"/>
<text x="397.1" y="416.6" text-anchor="middle" font-family="'Liberation Sans', sans-serif" font-weight="bold" font-size="15">c</text>
<path d="M61.3 912v3.8M61.3 679.7v-3.8M101.9 912v3.8M101.9 679.7v-3.8M142.5 912v3.8M142.5 679.7v-3.8M183.2 912v3.8M183.2 679.7v-3.8M223.8 912v3.8M223.8 679.7v-3.8M264.4 912v3.8M264.4 679.7v-3.8M305 912v3.8M305 679.7v-3.8M41 912v2M41 679.7v-2M81.6 912v2M81.6 679.7v-2M122.2 912v2M122.2 679.7v-2M162.8 912v2M162.8 679.7v-2M203.5 912v2M203.5 679.7v-2M244.1 912v2M244.1 679.7v-2M284.7 912v2M284.7 679.7v-2M325.3 912v2M325.3 679.7v-2M41 912h-3.8M325.3 912h3.8M41 876.3h-3.8M325.3 876.3h3.8M41 840.5h-3.8M325.3 840.5h3.8M41 804.8h-3.8M325.3 804.8h3.8M41 769h-3.8M325.3 769h3.8M41 733.3h-3.8M325.3 733.3h3.8M41 697.6h-3.8M325.3 697.6h3.8M41 894.1h-2M325.3 894.1h2M41 858.4h-2M325.3 858.4h2M41 822.7h-2M325.3 822.7h2M41 786.9h-2M325.3 786.9h2M41 751.2h-2M325.3 751.2h2M41 715.4h-2M325.3 715.4h2M41 679.7h-2M325.3 679.7h2" stroke="#111" stroke-width="1.3" fill="none"/>
<rect x="41" y="679.7" width="284.3" height="232.3" fill="none" stroke="#111" stroke-width="1.3"/>
<text x="61.3" y="926.2" text-anchor="middle" font-family="'Liberation Sans', sans-serif" font-weight="bold" font-size="9.2">6</text>
<text x="101.9" y="926.2" text-anchor="middle" font-family="'Liberation Sans', sans-serif" font-weight="bold" font-size="9.2">8</text>
<text x="142.5" y="926.2" text-anchor="middle" font-family="'Liberation Sans', sans-serif" font-weight="bold" font-size="9.2">10</text>
<text x="183.2" y="926.2" text-anchor="middle" font-family="'Liberation Sans', sans-serif" font-weight="bold" font-size="9.2">12</text>
<text x="223.8" y="926.2" text-anchor="middle" font-family="'Liberation Sans', sans-serif" font-weight="bold" font-size="9.2">14</text>
<text x="264.4" y="926.2" text-anchor="middle" font-family="'Liberation Sans', sans-serif" font-weight="bold" font-size="9.2">16</text>
<text x="305" y="926.2" text-anchor="middle" font-family="'Liberation Sans', sans-serif" font-weight="bold" font-size="9.2">18</text>
<text x="34.2" y="915.3" text-anchor="end" font-family="'Liberation Sans', sans-serif" font-weight="bold" font-size="9.2">-18</text>
<text x="34.2" y="879.6" text-anchor="end" font-family="'Liberation Sans', sans-serif" font-weight="bold" font-size="9.2">-16</text>
<text x="34.2" y="843.8" text-anchor="end" font-family="'Liberation Sans', sans-serif" font-weight="bold" font-size="9.2">-14</text>
<text x="34.2" y="808.1" text-anchor="end" font-family="'Liberation Sans', sans-serif" font-weight="bold" font-size="9.2">-12</text>
<text x="34.2" y="772.3" text-anchor="end" font-family="'Liberation Sans', sans-serif" font-weight="bold" font-size="9.2">-10</text>
<text x="34.2" y="736.6" text-anchor="end" font-family="'Liberation Sans', sans-serif" font-weight="bold" font-size="9.2">-8</text>
<text x="34.2" y="700.9" text-anchor="end" font-family="'Liberation Sans', sans-serif" font-weight="bold" font-size="9.2">-6</text>
<text x="183" y="944.5" text-anchor="middle" font-family="'Liberation Sans', sans-serif" font-weight="bold" font-size="10.3">ln[<tspan font-weight="normal">ω</tspan>(Hz)]</text>
<text transform="translate(14.7 796) rotate(-90)" text-anchor="middle" font-family="'Liberation Sans', sans-serif" font-weight="bold" font-size="10.8">ln[<tspan font-weight="normal">σ</tspan>(Ω<tspan font-size="6.7" dy="-4.1">-1</tspan><tspan dy="4.1">.cm</tspan><tspan font-size="6.7" dy="-4.1">-1</tspan><tspan dy="4.1">)]</tspan></text>
<rect x="63.4" y="694.7" width="11.5" height="17.9" fill="#fff" stroke="#777" stroke-width="1"/>
<text x="69.2" y="708" text-anchor="middle" font-family="'Liberation Sans', sans-serif" font-weight="bold" font-size="13">d</text>
<path d="M392 906.6v3.8M392 689.7v-3.8M432 906.6v3.8M432 689.7v-3.8M471.9 906.6v3.8M471.9 689.7v-3.8M511.9 906.6v3.8M511.9 689.7v-3.8M551.9 906.6v3.8M551.9 689.7v-3.8M591.8 906.6v3.8M591.8 689.7v-3.8M631.8 906.6v3.8M631.8 689.7v-3.8M372 906.6v2M372 689.7v-2M412 906.6v2M412 689.7v-2M451.9 906.6v2M451.9 689.7v-2M491.9 906.6v2M491.9 689.7v-2M531.9 906.6v2M531.9 689.7v-2M571.9 906.6v2M571.9 689.7v-2M611.8 906.6v2M611.8 689.7v-2M651.8 906.6v2M651.8 689.7v-2M372 906.6h-3.8M651.8 906.6h3.8M372 873.2h-3.8M651.8 873.2h3.8M372 839.9h-3.8M651.8 839.9h3.8M372 806.5h-3.8M651.8 806.5h3.8M372 773.1h-3.8M651.8 773.1h3.8M372 739.8h-3.8M651.8 739.8h3.8M372 706.4h-3.8M651.8 706.4h3.8M372 889.9h-2M651.8 889.9h2M372 856.5h-2M651.8 856.5h2M372 823.2h-2M651.8 823.2h2M372 789.8h-2M651.8 789.8h2M372 756.4h-2M651.8 756.4h2M372 723.1h-2M651.8 723.1h2M372 689.7h-2M651.8 689.7h2" stroke="#333" stroke-width="1.3" fill="none"/>
<rect x="372" y="689.7" width="279.8" height="216.9" fill="none" stroke="#333" stroke-width="1.3"/>
<text x="392" y="920.8" text-anchor="middle" font-family="'Liberation Sans', sans-serif" font-weight="bold" font-size="9.2">6</text>
<text x="432" y="920.8" text-anchor="middle" font-family="'Liberation Sans', sans-serif" font-weight="bold" font-size="9.2">8</text>
<text x="471.9" y="920.8" text-anchor="middle" font-family="'Liberation Sans', sans-serif" font-weight="bold" font-size="9.2">10</text>
<text x="511.9" y="920.8" text-anchor="middle" font-family="'Liberation Sans', sans-serif" font-weight="bold" font-size="9.2">12</text>
<text x="551.9" y="920.8" text-anchor="middle" font-family="'Liberation Sans', sans-serif" font-weight="bold" font-size="9.2">14</text>
<text x="591.8" y="920.8" text-anchor="middle" font-family="'Liberation Sans', sans-serif" font-weight="bold" font-size="9.2">16</text>
<text x="631.8" y="920.8" text-anchor="middle" font-family="'Liberation Sans', sans-serif" font-weight="bold" font-size="9.2">18</text>
<text x="365.2" y="909.9" text-anchor="end" font-family="'Liberation Sans', sans-serif" font-weight="bold" font-size="9.2">-18</text>
<text x="365.2" y="876.5" text-anchor="end" font-family="'Liberation Sans', sans-serif" font-weight="bold" font-size="9.2">-16</text>
<text x="365.2" y="843.2" text-anchor="end" font-family="'Liberation Sans', sans-serif" font-weight="bold" font-size="9.2">-14</text>
<text x="365.2" y="809.8" text-anchor="end" font-family="'Liberation Sans', sans-serif" font-weight="bold" font-size="9.2">-12</text>
<text x="365.2" y="776.4" text-anchor="end" font-family="'Liberation Sans', sans-serif" font-weight="bold" font-size="9.2">-10</text>
<text x="365.2" y="743.1" text-anchor="end" font-family="'Liberation Sans', sans-serif" font-weight="bold" font-size="9.2">-8</text>
<text x="365.2" y="709.7" text-anchor="end" font-family="'Liberation Sans', sans-serif" font-weight="bold" font-size="9.2">-6</text>
<text x="511.9" y="938.3" text-anchor="middle" font-family="'Liberation Sans', sans-serif" font-weight="bold" font-size="10.3">ln[<tspan font-weight="normal">ω</tspan>(Hz)]</text>
<text transform="translate(347.3 797.9) rotate(-90)" text-anchor="middle" font-family="'Liberation Sans', sans-serif" font-weight="bold" font-size="10.8">ln[<tspan font-weight="normal">σ</tspan>(Ω<tspan font-size="6.7" dy="-4.1">-1</tspan><tspan dy="4.1">.cm</tspan><tspan font-size="6.7" dy="-4.1">-1</tspan><tspan dy="4.1">)]</tspan></text>
<rect x="396.4" y="707.7" width="10.2" height="17.8" fill="#fff" stroke="#777" stroke-width="1"/>
<text x="401.5" y="720.7" text-anchor="middle" font-family="'Liberation Sans', sans-serif" font-weight="bold" font-size="13">e</text></svg></body></html>
